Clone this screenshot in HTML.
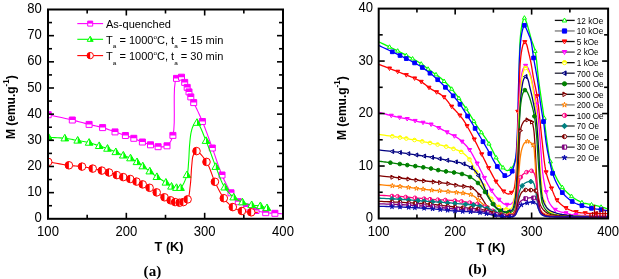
<!DOCTYPE html>
<html><head><meta charset="utf-8"><style>
html,body{margin:0;padding:0;background:#fff;}
svg{display:block;will-change:transform;}
.tk{font-family:"Liberation Sans", sans-serif;font-size:13.8px;fill:#000;}
.lg{font-family:"Liberation Sans", sans-serif;font-size:10px;fill:#000;}
.sb{font-size:5.8px;}
.sp{font-size:5.8px;}
.al{font-family:"Liberation Sans", sans-serif;font-size:12px;font-weight:bold;fill:#000;}
.asp{font-size:8px;}
.pl{font-family:"Liberation Serif", serif;font-size:14px;font-weight:bold;fill:#000;}
.lb{font-family:"Liberation Sans", sans-serif;font-size:8.2px;fill:#000;}
</style></head><body>
<svg width="619" height="279" viewBox="0 0 619 279">
<g>
<clipPath id="clipA"><rect x="48.0" y="9.5" width="235.0" height="209.3"/></clipPath>
<g clip-path="url(#clipA)">
<polyline points="48.20,114.70 48.94,114.86 50.95,115.28 53.91,115.92 57.52,116.69 61.47,117.55 65.46,118.43 69.17,119.27 72.30,120.00 74.56,120.56 76.76,121.12 78.91,121.69 81.01,122.26 83.07,122.82 85.10,123.36 87.11,123.89 89.10,124.40 90.86,124.82 92.59,125.22 94.30,125.60 95.99,125.97 97.66,126.34 99.31,126.73 100.96,127.15 102.60,127.60 104.19,128.08 105.78,128.60 107.35,129.14 108.91,129.70 110.46,130.26 111.99,130.82 113.51,131.37 115.00,131.90 116.35,132.37 117.69,132.83 119.01,133.30 120.33,133.75 121.62,134.20 122.90,134.64 124.16,135.08 125.40,135.50 126.49,135.86 127.56,136.21 128.62,136.55 129.66,136.88 130.69,137.21 131.72,137.55 132.76,137.92 133.80,138.30 134.88,138.73 135.96,139.19 137.03,139.66 138.11,140.15 139.19,140.63 140.26,141.11 141.33,141.57 142.40,142.00 143.42,142.39 144.44,142.77 145.45,143.14 146.47,143.50 147.48,143.84 148.49,144.18 149.50,144.49 150.50,144.80 151.45,145.09 152.39,145.39 153.33,145.68 154.26,145.96 155.20,146.22 156.15,146.43 157.12,146.59 158.10,146.70 159.20,146.78 160.35,146.86 161.53,146.91 162.72,146.91 163.89,146.82 165.00,146.62 166.05,146.29 167.00,145.80 167.98,145.05 168.87,144.14 169.67,143.07 170.41,141.84 171.09,140.46 171.72,138.93 172.32,137.24 172.90,135.40 173.82,129.97 174.23,122.55 174.30,113.89 174.24,104.74 174.24,95.87 174.49,88.02 175.18,81.94 176.50,78.40 177.05,77.86 177.67,77.45 178.33,77.16 179.01,76.98 179.69,76.91 180.35,76.93 180.96,77.03 181.50,77.20 182.02,77.53 182.48,78.02 182.90,78.65 183.28,79.37 183.65,80.15 184.00,80.94 184.34,81.70 184.70,82.40 185.04,83.03 185.38,83.65 185.70,84.28 186.02,84.91 186.33,85.54 186.63,86.16 186.92,86.78 187.20,87.40 187.45,87.97 187.69,88.53 187.92,89.09 188.14,89.64 188.35,90.20 188.57,90.76 188.78,91.33 189.00,91.90 189.22,92.51 189.44,93.12 189.65,93.75 189.86,94.37 190.07,95.00 190.30,95.63 190.54,96.26 190.80,96.90 191.11,97.58 191.42,98.23 191.76,98.87 192.10,99.52 192.47,100.20 192.86,100.93 193.27,101.72 193.70,102.60 194.58,104.41 195.57,106.46 196.64,108.72 197.78,111.14 198.96,113.67 200.13,116.27 201.29,118.89 202.40,121.50 203.65,124.58 204.90,127.78 206.14,131.07 207.38,134.43 208.62,137.83 209.85,141.24 211.08,144.64 212.30,148.00 213.52,151.40 214.72,154.87 215.90,158.37 217.09,161.87 218.29,165.31 219.50,168.68 220.73,171.92 222.00,175.00 223.08,177.48 224.18,179.91 225.28,182.29 226.40,184.60 227.54,186.82 228.68,188.94 229.84,190.94 231.00,192.80 231.88,194.13 232.76,195.38 233.63,196.57 234.52,197.70 235.42,198.78 236.35,199.80 237.30,200.77 238.30,201.70 239.25,202.51 240.22,203.26 241.22,203.97 242.24,204.64 243.28,205.27 244.34,205.87 245.41,206.44 246.50,207.00 247.63,207.54 248.79,208.04 249.96,208.51 251.16,208.95 252.37,209.37 253.58,209.76 254.79,210.14 256.00,210.50 257.20,210.85 258.41,211.18 259.62,211.49 260.84,211.78 262.06,212.05 263.28,212.29 264.49,212.51 265.70,212.70 266.86,212.85 268.02,212.96 269.19,213.04 270.35,213.10 271.50,213.15 272.64,213.19 273.78,213.24 274.90,213.30 276.05,213.37 277.34,213.45 278.68,213.54 279.99,213.62 281.17,213.69 282.12,213.75 282.76,213.79 283.00,213.80" fill="none" stroke="#ff00ff" stroke-width="1.1" stroke-linejoin="round"/>
<g transform="translate(48.2,114.7)"><polygon points="-3.00,-3.00 3.00,-3.00 3.00,3.00 -3.00,3.00" fill="#fff" stroke="#ff00ff" stroke-width="1.0"/><polygon points="-3.00,0.00 -3.00,-3.00 3.00,-3.00 3.00,0.00" fill="#ff00ff"/></g>
<g transform="translate(72.3,120.0)"><polygon points="-3.00,-3.00 3.00,-3.00 3.00,3.00 -3.00,3.00" fill="#fff" stroke="#ff00ff" stroke-width="1.0"/><polygon points="-3.00,0.00 -3.00,-3.00 3.00,-3.00 3.00,0.00" fill="#ff00ff"/></g>
<g transform="translate(89.1,124.4)"><polygon points="-3.00,-3.00 3.00,-3.00 3.00,3.00 -3.00,3.00" fill="#fff" stroke="#ff00ff" stroke-width="1.0"/><polygon points="-3.00,0.00 -3.00,-3.00 3.00,-3.00 3.00,0.00" fill="#ff00ff"/></g>
<g transform="translate(102.6,127.6)"><polygon points="-3.00,-3.00 3.00,-3.00 3.00,3.00 -3.00,3.00" fill="#fff" stroke="#ff00ff" stroke-width="1.0"/><polygon points="-3.00,0.00 -3.00,-3.00 3.00,-3.00 3.00,0.00" fill="#ff00ff"/></g>
<g transform="translate(115.0,131.9)"><polygon points="-3.00,-3.00 3.00,-3.00 3.00,3.00 -3.00,3.00" fill="#fff" stroke="#ff00ff" stroke-width="1.0"/><polygon points="-3.00,0.00 -3.00,-3.00 3.00,-3.00 3.00,0.00" fill="#ff00ff"/></g>
<g transform="translate(125.4,135.5)"><polygon points="-3.00,-3.00 3.00,-3.00 3.00,3.00 -3.00,3.00" fill="#fff" stroke="#ff00ff" stroke-width="1.0"/><polygon points="-3.00,0.00 -3.00,-3.00 3.00,-3.00 3.00,0.00" fill="#ff00ff"/></g>
<g transform="translate(133.8,138.3)"><polygon points="-3.00,-3.00 3.00,-3.00 3.00,3.00 -3.00,3.00" fill="#fff" stroke="#ff00ff" stroke-width="1.0"/><polygon points="-3.00,0.00 -3.00,-3.00 3.00,-3.00 3.00,0.00" fill="#ff00ff"/></g>
<g transform="translate(142.4,142.0)"><polygon points="-3.00,-3.00 3.00,-3.00 3.00,3.00 -3.00,3.00" fill="#fff" stroke="#ff00ff" stroke-width="1.0"/><polygon points="-3.00,0.00 -3.00,-3.00 3.00,-3.00 3.00,0.00" fill="#ff00ff"/></g>
<g transform="translate(150.5,144.8)"><polygon points="-3.00,-3.00 3.00,-3.00 3.00,3.00 -3.00,3.00" fill="#fff" stroke="#ff00ff" stroke-width="1.0"/><polygon points="-3.00,0.00 -3.00,-3.00 3.00,-3.00 3.00,0.00" fill="#ff00ff"/></g>
<g transform="translate(158.1,146.7)"><polygon points="-3.00,-3.00 3.00,-3.00 3.00,3.00 -3.00,3.00" fill="#fff" stroke="#ff00ff" stroke-width="1.0"/><polygon points="-3.00,0.00 -3.00,-3.00 3.00,-3.00 3.00,0.00" fill="#ff00ff"/></g>
<g transform="translate(167.0,145.8)"><polygon points="-3.00,-3.00 3.00,-3.00 3.00,3.00 -3.00,3.00" fill="#fff" stroke="#ff00ff" stroke-width="1.0"/><polygon points="-3.00,0.00 -3.00,-3.00 3.00,-3.00 3.00,0.00" fill="#ff00ff"/></g>
<g transform="translate(172.9,135.4)"><polygon points="-3.00,-3.00 3.00,-3.00 3.00,3.00 -3.00,3.00" fill="#fff" stroke="#ff00ff" stroke-width="1.0"/><polygon points="-3.00,0.00 -3.00,-3.00 3.00,-3.00 3.00,0.00" fill="#ff00ff"/></g>
<g transform="translate(176.5,78.4)"><polygon points="-3.00,-3.00 3.00,-3.00 3.00,3.00 -3.00,3.00" fill="#fff" stroke="#ff00ff" stroke-width="1.0"/><polygon points="-3.00,0.00 -3.00,-3.00 3.00,-3.00 3.00,0.00" fill="#ff00ff"/></g>
<g transform="translate(181.5,77.2)"><polygon points="-3.00,-3.00 3.00,-3.00 3.00,3.00 -3.00,3.00" fill="#fff" stroke="#ff00ff" stroke-width="1.0"/><polygon points="-3.00,0.00 -3.00,-3.00 3.00,-3.00 3.00,0.00" fill="#ff00ff"/></g>
<g transform="translate(184.7,82.4)"><polygon points="-3.00,-3.00 3.00,-3.00 3.00,3.00 -3.00,3.00" fill="#fff" stroke="#ff00ff" stroke-width="1.0"/><polygon points="-3.00,0.00 -3.00,-3.00 3.00,-3.00 3.00,0.00" fill="#ff00ff"/></g>
<g transform="translate(187.2,87.4)"><polygon points="-3.00,-3.00 3.00,-3.00 3.00,3.00 -3.00,3.00" fill="#fff" stroke="#ff00ff" stroke-width="1.0"/><polygon points="-3.00,0.00 -3.00,-3.00 3.00,-3.00 3.00,0.00" fill="#ff00ff"/></g>
<g transform="translate(189.0,91.9)"><polygon points="-3.00,-3.00 3.00,-3.00 3.00,3.00 -3.00,3.00" fill="#fff" stroke="#ff00ff" stroke-width="1.0"/><polygon points="-3.00,0.00 -3.00,-3.00 3.00,-3.00 3.00,0.00" fill="#ff00ff"/></g>
<g transform="translate(190.8,96.9)"><polygon points="-3.00,-3.00 3.00,-3.00 3.00,3.00 -3.00,3.00" fill="#fff" stroke="#ff00ff" stroke-width="1.0"/><polygon points="-3.00,0.00 -3.00,-3.00 3.00,-3.00 3.00,0.00" fill="#ff00ff"/></g>
<g transform="translate(193.7,102.6)"><polygon points="-3.00,-3.00 3.00,-3.00 3.00,3.00 -3.00,3.00" fill="#fff" stroke="#ff00ff" stroke-width="1.0"/><polygon points="-3.00,0.00 -3.00,-3.00 3.00,-3.00 3.00,0.00" fill="#ff00ff"/></g>
<g transform="translate(202.4,121.5)"><polygon points="-3.00,-3.00 3.00,-3.00 3.00,3.00 -3.00,3.00" fill="#fff" stroke="#ff00ff" stroke-width="1.0"/><polygon points="-3.00,0.00 -3.00,-3.00 3.00,-3.00 3.00,0.00" fill="#ff00ff"/></g>
<g transform="translate(212.3,148.0)"><polygon points="-3.00,-3.00 3.00,-3.00 3.00,3.00 -3.00,3.00" fill="#fff" stroke="#ff00ff" stroke-width="1.0"/><polygon points="-3.00,0.00 -3.00,-3.00 3.00,-3.00 3.00,0.00" fill="#ff00ff"/></g>
<g transform="translate(222.0,175.0)"><polygon points="-3.00,-3.00 3.00,-3.00 3.00,3.00 -3.00,3.00" fill="#fff" stroke="#ff00ff" stroke-width="1.0"/><polygon points="-3.00,0.00 -3.00,-3.00 3.00,-3.00 3.00,0.00" fill="#ff00ff"/></g>
<g transform="translate(231.0,192.8)"><polygon points="-3.00,-3.00 3.00,-3.00 3.00,3.00 -3.00,3.00" fill="#fff" stroke="#ff00ff" stroke-width="1.0"/><polygon points="-3.00,0.00 -3.00,-3.00 3.00,-3.00 3.00,0.00" fill="#ff00ff"/></g>
<g transform="translate(238.3,201.7)"><polygon points="-3.00,-3.00 3.00,-3.00 3.00,3.00 -3.00,3.00" fill="#fff" stroke="#ff00ff" stroke-width="1.0"/><polygon points="-3.00,0.00 -3.00,-3.00 3.00,-3.00 3.00,0.00" fill="#ff00ff"/></g>
<g transform="translate(246.5,207.0)"><polygon points="-3.00,-3.00 3.00,-3.00 3.00,3.00 -3.00,3.00" fill="#fff" stroke="#ff00ff" stroke-width="1.0"/><polygon points="-3.00,0.00 -3.00,-3.00 3.00,-3.00 3.00,0.00" fill="#ff00ff"/></g>
<g transform="translate(256.0,210.5)"><polygon points="-3.00,-3.00 3.00,-3.00 3.00,3.00 -3.00,3.00" fill="#fff" stroke="#ff00ff" stroke-width="1.0"/><polygon points="-3.00,0.00 -3.00,-3.00 3.00,-3.00 3.00,0.00" fill="#ff00ff"/></g>
<g transform="translate(265.7,212.7)"><polygon points="-3.00,-3.00 3.00,-3.00 3.00,3.00 -3.00,3.00" fill="#fff" stroke="#ff00ff" stroke-width="1.0"/><polygon points="-3.00,0.00 -3.00,-3.00 3.00,-3.00 3.00,0.00" fill="#ff00ff"/></g>
<g transform="translate(274.9,213.3)"><polygon points="-3.00,-3.00 3.00,-3.00 3.00,3.00 -3.00,3.00" fill="#fff" stroke="#ff00ff" stroke-width="1.0"/><polygon points="-3.00,0.00 -3.00,-3.00 3.00,-3.00 3.00,0.00" fill="#ff00ff"/></g>
<polyline points="48.50,137.30 49.00,137.32 50.34,137.37 52.32,137.46 54.74,137.58 57.40,137.72 60.10,137.90 62.64,138.09 64.80,138.30 66.49,138.52 68.16,138.76 69.79,139.03 71.40,139.32 72.99,139.62 74.57,139.92 76.14,140.22 77.70,140.50 79.17,140.75 80.62,140.99 82.07,141.22 83.50,141.46 84.92,141.71 86.33,141.98 87.72,142.27 89.10,142.60 90.41,142.95 91.70,143.34 92.99,143.76 94.26,144.19 95.52,144.63 96.76,145.07 97.99,145.49 99.20,145.90 100.28,146.25 101.33,146.58 102.38,146.90 103.41,147.23 104.43,147.55 105.45,147.89 106.47,148.23 107.50,148.60 108.55,148.99 109.59,149.40 110.64,149.82 111.69,150.25 112.73,150.68 113.76,151.12 114.79,151.56 115.80,152.00 116.76,152.42 117.71,152.85 118.65,153.29 119.58,153.72 120.51,154.16 121.44,154.58 122.37,155.00 123.30,155.40 124.21,155.77 125.12,156.11 126.03,156.44 126.94,156.76 127.85,157.09 128.75,157.44 129.63,157.80 130.50,158.20 131.35,158.62 132.18,159.07 133.01,159.53 133.82,160.00 134.63,160.49 135.43,160.99 136.22,161.49 137.00,162.00 137.75,162.50 138.47,163.01 139.19,163.52 139.90,164.04 140.61,164.57 141.32,165.11 142.05,165.65 142.80,166.20 143.64,166.81 144.51,167.43 145.38,168.06 146.26,168.69 147.15,169.34 148.04,169.99 148.92,170.64 149.80,171.30 150.68,171.98 151.55,172.68 152.42,173.39 153.28,174.10 154.15,174.81 155.04,175.52 155.96,176.22 156.90,176.90 157.98,177.63 159.11,178.35 160.27,179.07 161.46,179.77 162.63,180.47 163.78,181.16 164.87,181.84 165.90,182.50 166.67,183.04 167.40,183.59 168.10,184.15 168.78,184.70 169.45,185.22 170.12,185.70 170.80,186.13 171.50,186.50 172.12,186.77 172.75,187.00 173.39,187.20 174.02,187.36 174.65,187.50 175.28,187.62 175.90,187.72 176.50,187.80 177.02,187.88 177.54,187.98 178.04,188.08 178.55,188.16 179.05,188.19 179.54,188.15 180.02,188.03 180.50,187.80 181.41,187.01 182.34,185.80 183.26,184.26 184.15,182.50 184.99,180.60 185.76,178.65 186.43,176.75 187.00,175.00 187.42,173.42 187.73,171.84 187.96,170.26 188.12,168.66 188.25,167.04 188.35,165.39 188.46,163.72 188.60,162.00 188.76,159.97 188.89,157.86 189.00,155.69 189.10,153.50 189.20,151.31 189.31,149.14 189.44,147.03 189.60,145.00 189.76,143.26 189.91,141.51 190.07,139.79 190.24,138.10 190.44,136.45 190.66,134.88 190.91,133.39 191.20,132.00 191.43,131.05 191.65,130.12 191.89,129.23 192.15,128.39 192.43,127.58 192.74,126.83 193.10,126.14 193.50,125.50 193.86,125.00 194.26,124.48 194.68,123.97 195.13,123.51 195.59,123.12 196.06,122.84 196.53,122.69 197.00,122.70 198.03,123.37 199.11,124.84 200.24,126.93 201.40,129.47 202.57,132.30 203.74,135.24 204.89,138.13 206.00,140.80 207.26,143.83 208.50,147.01 209.73,150.31 210.94,153.68 212.15,157.06 213.36,160.41 214.58,163.67 215.80,166.80 216.89,169.56 217.95,172.34 218.99,175.10 220.05,177.81 221.13,180.43 222.25,182.93 223.44,185.26 224.70,187.40 225.73,188.92 226.79,190.35 227.89,191.70 229.01,192.96 230.16,194.15 231.33,195.27 232.51,196.32 233.70,197.30 234.74,198.09 235.80,198.81 236.87,199.48 237.95,200.09 239.05,200.66 240.15,201.20 241.27,201.71 242.40,202.20 243.53,202.66 244.68,203.08 245.84,203.48 247.01,203.84 248.19,204.17 249.37,204.47 250.54,204.75 251.70,205.00 252.80,205.19 253.92,205.33 255.03,205.43 256.14,205.52 257.24,205.60 258.32,205.69 259.38,205.82 260.40,206.00 261.37,206.23 262.43,206.52 263.53,206.85 264.59,207.18 265.53,207.50 266.30,207.76 266.81,207.93 267.00,208.00" fill="none" stroke="#00ff00" stroke-width="1.1" stroke-linejoin="round"/>
<g transform="translate(48.5,137.3)"><polygon points="0.00,-4.02 3.85,2.62 -3.85,2.62" fill="#fff" stroke="#00ff00" stroke-width="1.0"/><polygon points="0.00,-4.02 0.00,-4.02 3.85,2.62 0.00,2.62" fill="#00ff00"/></g>
<g transform="translate(64.8,138.3)"><polygon points="0.00,-4.02 3.85,2.62 -3.85,2.62" fill="#fff" stroke="#00ff00" stroke-width="1.0"/><polygon points="0.00,-4.02 0.00,-4.02 3.85,2.62 0.00,2.62" fill="#00ff00"/></g>
<g transform="translate(77.7,140.5)"><polygon points="0.00,-4.02 3.85,2.62 -3.85,2.62" fill="#fff" stroke="#00ff00" stroke-width="1.0"/><polygon points="0.00,-4.02 0.00,-4.02 3.85,2.62 0.00,2.62" fill="#00ff00"/></g>
<g transform="translate(89.1,142.6)"><polygon points="0.00,-4.02 3.85,2.62 -3.85,2.62" fill="#fff" stroke="#00ff00" stroke-width="1.0"/><polygon points="0.00,-4.02 0.00,-4.02 3.85,2.62 0.00,2.62" fill="#00ff00"/></g>
<g transform="translate(99.2,145.9)"><polygon points="0.00,-4.02 3.85,2.62 -3.85,2.62" fill="#fff" stroke="#00ff00" stroke-width="1.0"/><polygon points="0.00,-4.02 0.00,-4.02 3.85,2.62 0.00,2.62" fill="#00ff00"/></g>
<g transform="translate(107.5,148.6)"><polygon points="0.00,-4.02 3.85,2.62 -3.85,2.62" fill="#fff" stroke="#00ff00" stroke-width="1.0"/><polygon points="0.00,-4.02 0.00,-4.02 3.85,2.62 0.00,2.62" fill="#00ff00"/></g>
<g transform="translate(115.8,152.0)"><polygon points="0.00,-4.02 3.85,2.62 -3.85,2.62" fill="#fff" stroke="#00ff00" stroke-width="1.0"/><polygon points="0.00,-4.02 0.00,-4.02 3.85,2.62 0.00,2.62" fill="#00ff00"/></g>
<g transform="translate(123.3,155.4)"><polygon points="0.00,-4.02 3.85,2.62 -3.85,2.62" fill="#fff" stroke="#00ff00" stroke-width="1.0"/><polygon points="0.00,-4.02 0.00,-4.02 3.85,2.62 0.00,2.62" fill="#00ff00"/></g>
<g transform="translate(130.5,158.2)"><polygon points="0.00,-4.02 3.85,2.62 -3.85,2.62" fill="#fff" stroke="#00ff00" stroke-width="1.0"/><polygon points="0.00,-4.02 0.00,-4.02 3.85,2.62 0.00,2.62" fill="#00ff00"/></g>
<g transform="translate(137.0,162.0)"><polygon points="0.00,-4.02 3.85,2.62 -3.85,2.62" fill="#fff" stroke="#00ff00" stroke-width="1.0"/><polygon points="0.00,-4.02 0.00,-4.02 3.85,2.62 0.00,2.62" fill="#00ff00"/></g>
<g transform="translate(142.8,166.2)"><polygon points="0.00,-4.02 3.85,2.62 -3.85,2.62" fill="#fff" stroke="#00ff00" stroke-width="1.0"/><polygon points="0.00,-4.02 0.00,-4.02 3.85,2.62 0.00,2.62" fill="#00ff00"/></g>
<g transform="translate(149.8,171.3)"><polygon points="0.00,-4.02 3.85,2.62 -3.85,2.62" fill="#fff" stroke="#00ff00" stroke-width="1.0"/><polygon points="0.00,-4.02 0.00,-4.02 3.85,2.62 0.00,2.62" fill="#00ff00"/></g>
<g transform="translate(156.9,176.9)"><polygon points="0.00,-4.02 3.85,2.62 -3.85,2.62" fill="#fff" stroke="#00ff00" stroke-width="1.0"/><polygon points="0.00,-4.02 0.00,-4.02 3.85,2.62 0.00,2.62" fill="#00ff00"/></g>
<g transform="translate(165.9,182.5)"><polygon points="0.00,-4.02 3.85,2.62 -3.85,2.62" fill="#fff" stroke="#00ff00" stroke-width="1.0"/><polygon points="0.00,-4.02 0.00,-4.02 3.85,2.62 0.00,2.62" fill="#00ff00"/></g>
<g transform="translate(171.5,186.5)"><polygon points="0.00,-4.02 3.85,2.62 -3.85,2.62" fill="#fff" stroke="#00ff00" stroke-width="1.0"/><polygon points="0.00,-4.02 0.00,-4.02 3.85,2.62 0.00,2.62" fill="#00ff00"/></g>
<g transform="translate(176.5,187.8)"><polygon points="0.00,-4.02 3.85,2.62 -3.85,2.62" fill="#fff" stroke="#00ff00" stroke-width="1.0"/><polygon points="0.00,-4.02 0.00,-4.02 3.85,2.62 0.00,2.62" fill="#00ff00"/></g>
<g transform="translate(180.5,187.8)"><polygon points="0.00,-4.02 3.85,2.62 -3.85,2.62" fill="#fff" stroke="#00ff00" stroke-width="1.0"/><polygon points="0.00,-4.02 0.00,-4.02 3.85,2.62 0.00,2.62" fill="#00ff00"/></g>
<g transform="translate(187.0,175.0)"><polygon points="0.00,-4.02 3.85,2.62 -3.85,2.62" fill="#fff" stroke="#00ff00" stroke-width="1.0"/><polygon points="0.00,-4.02 0.00,-4.02 3.85,2.62 0.00,2.62" fill="#00ff00"/></g>
<g transform="translate(197.0,122.7)"><polygon points="0.00,-4.02 3.85,2.62 -3.85,2.62" fill="#fff" stroke="#00ff00" stroke-width="1.0"/><polygon points="0.00,-4.02 0.00,-4.02 3.85,2.62 0.00,2.62" fill="#00ff00"/></g>
<g transform="translate(206.0,140.8)"><polygon points="0.00,-4.02 3.85,2.62 -3.85,2.62" fill="#fff" stroke="#00ff00" stroke-width="1.0"/><polygon points="0.00,-4.02 0.00,-4.02 3.85,2.62 0.00,2.62" fill="#00ff00"/></g>
<g transform="translate(215.8,166.8)"><polygon points="0.00,-4.02 3.85,2.62 -3.85,2.62" fill="#fff" stroke="#00ff00" stroke-width="1.0"/><polygon points="0.00,-4.02 0.00,-4.02 3.85,2.62 0.00,2.62" fill="#00ff00"/></g>
<g transform="translate(224.7,187.4)"><polygon points="0.00,-4.02 3.85,2.62 -3.85,2.62" fill="#fff" stroke="#00ff00" stroke-width="1.0"/><polygon points="0.00,-4.02 0.00,-4.02 3.85,2.62 0.00,2.62" fill="#00ff00"/></g>
<g transform="translate(233.7,197.3)"><polygon points="0.00,-4.02 3.85,2.62 -3.85,2.62" fill="#fff" stroke="#00ff00" stroke-width="1.0"/><polygon points="0.00,-4.02 0.00,-4.02 3.85,2.62 0.00,2.62" fill="#00ff00"/></g>
<g transform="translate(242.4,202.2)"><polygon points="0.00,-4.02 3.85,2.62 -3.85,2.62" fill="#fff" stroke="#00ff00" stroke-width="1.0"/><polygon points="0.00,-4.02 0.00,-4.02 3.85,2.62 0.00,2.62" fill="#00ff00"/></g>
<g transform="translate(251.7,205.0)"><polygon points="0.00,-4.02 3.85,2.62 -3.85,2.62" fill="#fff" stroke="#00ff00" stroke-width="1.0"/><polygon points="0.00,-4.02 0.00,-4.02 3.85,2.62 0.00,2.62" fill="#00ff00"/></g>
<g transform="translate(260.4,206.0)"><polygon points="0.00,-4.02 3.85,2.62 -3.85,2.62" fill="#fff" stroke="#00ff00" stroke-width="1.0"/><polygon points="0.00,-4.02 0.00,-4.02 3.85,2.62 0.00,2.62" fill="#00ff00"/></g>
<g transform="translate(267.0,208.0)"><polygon points="0.00,-4.02 3.85,2.62 -3.85,2.62" fill="#fff" stroke="#00ff00" stroke-width="1.0"/><polygon points="0.00,-4.02 0.00,-4.02 3.85,2.62 0.00,2.62" fill="#00ff00"/></g>
<polyline points="48.20,161.90 48.84,162.01 50.58,162.32 53.14,162.76 56.26,163.30 59.66,163.87 63.08,164.43 66.25,164.92 68.90,165.30 70.69,165.52 72.41,165.69 74.09,165.84 75.72,165.97 77.32,166.10 78.89,166.24 80.45,166.40 82.00,166.60 83.40,166.81 84.78,167.04 86.14,167.29 87.48,167.54 88.80,167.80 90.12,168.07 91.41,168.34 92.70,168.60 93.88,168.84 95.05,169.09 96.22,169.33 97.37,169.58 98.50,169.83 99.62,170.09 100.72,170.34 101.80,170.60 102.74,170.83 103.66,171.05 104.56,171.28 105.44,171.51 106.32,171.74 107.21,171.98 108.10,172.23 109.00,172.50 109.97,172.80 110.95,173.12 111.94,173.45 112.93,173.79 113.92,174.13 114.90,174.46 115.86,174.79 116.80,175.10 117.63,175.37 118.44,175.63 119.23,175.88 120.02,176.13 120.80,176.38 121.59,176.62 122.39,176.86 123.20,177.10 124.06,177.34 124.94,177.57 125.82,177.79 126.71,178.01 127.60,178.24 128.48,178.47 129.35,178.73 130.20,179.00 131.01,179.29 131.81,179.59 132.60,179.91 133.39,180.24 134.17,180.58 134.94,180.92 135.72,181.26 136.50,181.60 137.28,181.94 138.05,182.28 138.82,182.62 139.59,182.96 140.36,183.31 141.13,183.67 141.91,184.03 142.70,184.40 143.55,184.80 144.41,185.20 145.27,185.60 146.14,186.01 147.01,186.44 147.88,186.87 148.74,187.33 149.60,187.80 150.49,188.32 151.38,188.87 152.26,189.44 153.14,190.03 154.02,190.62 154.90,191.22 155.80,191.81 156.70,192.40 157.66,193.02 158.64,193.65 159.63,194.30 160.62,194.94 161.61,195.57 162.59,196.18 163.56,196.76 164.50,197.30 165.29,197.73 166.08,198.15 166.86,198.55 167.64,198.93 168.40,199.29 169.15,199.64 169.88,199.98 170.60,200.30 171.19,200.57 171.76,200.83 172.32,201.08 172.88,201.32 173.43,201.54 173.98,201.75 174.53,201.94 175.10,202.10 175.66,202.24 176.22,202.36 176.79,202.46 177.37,202.55 177.93,202.62 178.50,202.67 179.06,202.70 179.60,202.70 180.09,202.69 180.58,202.67 181.05,202.63 181.53,202.57 182.00,202.49 182.47,202.39 182.93,202.26 183.40,202.10 183.94,201.89 184.51,201.67 185.07,201.43 185.63,201.15 186.17,200.81 186.69,200.42 187.17,199.95 187.60,199.40 188.22,198.21 188.70,196.73 189.09,195.01 189.39,193.13 189.63,191.12 189.85,189.06 190.06,187.00 190.30,185.00 190.57,182.61 190.79,180.07 190.97,177.42 191.12,174.75 191.27,172.11 191.42,169.56 191.60,167.17 191.80,165.00 191.94,163.61 192.05,162.28 192.16,160.99 192.27,159.77 192.42,158.60 192.61,157.50 192.86,156.46 193.20,155.50 193.51,154.78 193.84,154.04 194.20,153.31 194.60,152.63 195.02,152.03 195.48,151.56 195.97,151.23 196.50,151.10 197.50,151.35 198.66,152.11 199.95,153.29 201.32,154.79 202.70,156.50 204.06,158.32 205.34,160.15 206.50,161.90 207.74,164.05 208.86,166.40 209.89,168.92 210.88,171.53 211.84,174.18 212.81,176.81 213.82,179.37 214.90,181.80 215.95,183.99 217.00,186.19 218.06,188.37 219.15,190.51 220.25,192.59 221.39,194.58 222.57,196.46 223.80,198.20 224.84,199.54 225.91,200.83 227.00,202.05 228.12,203.21 229.26,204.29 230.42,205.31 231.60,206.24 232.80,207.10 233.88,207.78 234.99,208.40 236.11,208.95 237.25,209.45 238.41,209.89 239.57,210.30 240.73,210.66 241.90,211.00 243.05,211.29 244.23,211.53 245.42,211.73 246.61,211.89 247.80,212.02 248.96,212.13 250.10,212.22 251.20,212.30 252.19,212.35 253.29,212.37 254.42,212.37 255.51,212.36 256.49,212.34 257.28,212.32 257.81,212.31 258.00,212.30" fill="none" stroke="#ff0000" stroke-width="1.1" stroke-linejoin="round"/>
<g transform="translate(48.2,161.9)"><circle r="3.8" fill="#fff" stroke="#ff0000" stroke-width="1.0"/><path d="M0,-3.8 A3.8,3.8 0 0 0 0,3.8 Z" fill="#ff0000"/></g>
<g transform="translate(68.9,165.3)"><circle r="3.8" fill="#fff" stroke="#ff0000" stroke-width="1.0"/><path d="M0,-3.8 A3.8,3.8 0 0 0 0,3.8 Z" fill="#ff0000"/></g>
<g transform="translate(82.0,166.6)"><circle r="3.8" fill="#fff" stroke="#ff0000" stroke-width="1.0"/><path d="M0,-3.8 A3.8,3.8 0 0 0 0,3.8 Z" fill="#ff0000"/></g>
<g transform="translate(92.7,168.6)"><circle r="3.8" fill="#fff" stroke="#ff0000" stroke-width="1.0"/><path d="M0,-3.8 A3.8,3.8 0 0 0 0,3.8 Z" fill="#ff0000"/></g>
<g transform="translate(101.8,170.6)"><circle r="3.8" fill="#fff" stroke="#ff0000" stroke-width="1.0"/><path d="M0,-3.8 A3.8,3.8 0 0 0 0,3.8 Z" fill="#ff0000"/></g>
<g transform="translate(109.0,172.5)"><circle r="3.8" fill="#fff" stroke="#ff0000" stroke-width="1.0"/><path d="M0,-3.8 A3.8,3.8 0 0 0 0,3.8 Z" fill="#ff0000"/></g>
<g transform="translate(116.8,175.1)"><circle r="3.8" fill="#fff" stroke="#ff0000" stroke-width="1.0"/><path d="M0,-3.8 A3.8,3.8 0 0 0 0,3.8 Z" fill="#ff0000"/></g>
<g transform="translate(123.2,177.1)"><circle r="3.8" fill="#fff" stroke="#ff0000" stroke-width="1.0"/><path d="M0,-3.8 A3.8,3.8 0 0 0 0,3.8 Z" fill="#ff0000"/></g>
<g transform="translate(130.2,179.0)"><circle r="3.8" fill="#fff" stroke="#ff0000" stroke-width="1.0"/><path d="M0,-3.8 A3.8,3.8 0 0 0 0,3.8 Z" fill="#ff0000"/></g>
<g transform="translate(136.5,181.6)"><circle r="3.8" fill="#fff" stroke="#ff0000" stroke-width="1.0"/><path d="M0,-3.8 A3.8,3.8 0 0 0 0,3.8 Z" fill="#ff0000"/></g>
<g transform="translate(142.7,184.4)"><circle r="3.8" fill="#fff" stroke="#ff0000" stroke-width="1.0"/><path d="M0,-3.8 A3.8,3.8 0 0 0 0,3.8 Z" fill="#ff0000"/></g>
<g transform="translate(149.6,187.8)"><circle r="3.8" fill="#fff" stroke="#ff0000" stroke-width="1.0"/><path d="M0,-3.8 A3.8,3.8 0 0 0 0,3.8 Z" fill="#ff0000"/></g>
<g transform="translate(156.7,192.4)"><circle r="3.8" fill="#fff" stroke="#ff0000" stroke-width="1.0"/><path d="M0,-3.8 A3.8,3.8 0 0 0 0,3.8 Z" fill="#ff0000"/></g>
<g transform="translate(164.5,197.3)"><circle r="3.8" fill="#fff" stroke="#ff0000" stroke-width="1.0"/><path d="M0,-3.8 A3.8,3.8 0 0 0 0,3.8 Z" fill="#ff0000"/></g>
<g transform="translate(170.6,200.3)"><circle r="3.8" fill="#fff" stroke="#ff0000" stroke-width="1.0"/><path d="M0,-3.8 A3.8,3.8 0 0 0 0,3.8 Z" fill="#ff0000"/></g>
<g transform="translate(175.1,202.1)"><circle r="3.8" fill="#fff" stroke="#ff0000" stroke-width="1.0"/><path d="M0,-3.8 A3.8,3.8 0 0 0 0,3.8 Z" fill="#ff0000"/></g>
<g transform="translate(179.6,202.7)"><circle r="3.8" fill="#fff" stroke="#ff0000" stroke-width="1.0"/><path d="M0,-3.8 A3.8,3.8 0 0 0 0,3.8 Z" fill="#ff0000"/></g>
<g transform="translate(183.4,202.1)"><circle r="3.8" fill="#fff" stroke="#ff0000" stroke-width="1.0"/><path d="M0,-3.8 A3.8,3.8 0 0 0 0,3.8 Z" fill="#ff0000"/></g>
<g transform="translate(187.6,199.4)"><circle r="3.8" fill="#fff" stroke="#ff0000" stroke-width="1.0"/><path d="M0,-3.8 A3.8,3.8 0 0 0 0,3.8 Z" fill="#ff0000"/></g>
<g transform="translate(196.5,151.1)"><circle r="3.8" fill="#fff" stroke="#ff0000" stroke-width="1.0"/><path d="M0,-3.8 A3.8,3.8 0 0 0 0,3.8 Z" fill="#ff0000"/></g>
<g transform="translate(206.5,161.9)"><circle r="3.8" fill="#fff" stroke="#ff0000" stroke-width="1.0"/><path d="M0,-3.8 A3.8,3.8 0 0 0 0,3.8 Z" fill="#ff0000"/></g>
<g transform="translate(214.9,181.8)"><circle r="3.8" fill="#fff" stroke="#ff0000" stroke-width="1.0"/><path d="M0,-3.8 A3.8,3.8 0 0 0 0,3.8 Z" fill="#ff0000"/></g>
<g transform="translate(223.8,198.2)"><circle r="3.8" fill="#fff" stroke="#ff0000" stroke-width="1.0"/><path d="M0,-3.8 A3.8,3.8 0 0 0 0,3.8 Z" fill="#ff0000"/></g>
<g transform="translate(232.8,207.1)"><circle r="3.8" fill="#fff" stroke="#ff0000" stroke-width="1.0"/><path d="M0,-3.8 A3.8,3.8 0 0 0 0,3.8 Z" fill="#ff0000"/></g>
<g transform="translate(241.9,211.0)"><circle r="3.8" fill="#fff" stroke="#ff0000" stroke-width="1.0"/><path d="M0,-3.8 A3.8,3.8 0 0 0 0,3.8 Z" fill="#ff0000"/></g>
<g transform="translate(251.2,212.3)"><circle r="3.8" fill="#fff" stroke="#ff0000" stroke-width="1.0"/><path d="M0,-3.8 A3.8,3.8 0 0 0 0,3.8 Z" fill="#ff0000"/></g>
</g>
<rect x="48.0" y="9.5" width="235.0" height="209.3" fill="none" stroke="#000" stroke-width="2"/>
<text x="41.8" y="222.40" class="tk" text-anchor="end" transform="translate(41.8,0) scale(0.95,1) translate(-41.8,0)">0</text>
<line x1="48.0" y1="205.72" x2="52.0" y2="205.72" stroke="#000" stroke-width="1.6"/>
<line x1="283.0" y1="205.72" x2="279.0" y2="205.72" stroke="#000" stroke-width="1.6"/>
<line x1="48.0" y1="192.64" x2="54.0" y2="192.64" stroke="#000" stroke-width="1.6"/>
<line x1="283.0" y1="192.64" x2="277.0" y2="192.64" stroke="#000" stroke-width="1.6"/>
<text x="41.8" y="196.24" class="tk" text-anchor="end" transform="translate(41.8,0) scale(0.95,1) translate(-41.8,0)">10</text>
<line x1="48.0" y1="179.56" x2="52.0" y2="179.56" stroke="#000" stroke-width="1.6"/>
<line x1="283.0" y1="179.56" x2="279.0" y2="179.56" stroke="#000" stroke-width="1.6"/>
<line x1="48.0" y1="166.48" x2="54.0" y2="166.48" stroke="#000" stroke-width="1.6"/>
<line x1="283.0" y1="166.48" x2="277.0" y2="166.48" stroke="#000" stroke-width="1.6"/>
<text x="41.8" y="170.08" class="tk" text-anchor="end" transform="translate(41.8,0) scale(0.95,1) translate(-41.8,0)">20</text>
<line x1="48.0" y1="153.39" x2="52.0" y2="153.39" stroke="#000" stroke-width="1.6"/>
<line x1="283.0" y1="153.39" x2="279.0" y2="153.39" stroke="#000" stroke-width="1.6"/>
<line x1="48.0" y1="140.31" x2="54.0" y2="140.31" stroke="#000" stroke-width="1.6"/>
<line x1="283.0" y1="140.31" x2="277.0" y2="140.31" stroke="#000" stroke-width="1.6"/>
<text x="41.8" y="143.91" class="tk" text-anchor="end" transform="translate(41.8,0) scale(0.95,1) translate(-41.8,0)">30</text>
<line x1="48.0" y1="127.23" x2="52.0" y2="127.23" stroke="#000" stroke-width="1.6"/>
<line x1="283.0" y1="127.23" x2="279.0" y2="127.23" stroke="#000" stroke-width="1.6"/>
<line x1="48.0" y1="114.15" x2="54.0" y2="114.15" stroke="#000" stroke-width="1.6"/>
<line x1="283.0" y1="114.15" x2="277.0" y2="114.15" stroke="#000" stroke-width="1.6"/>
<text x="41.8" y="117.75" class="tk" text-anchor="end" transform="translate(41.8,0) scale(0.95,1) translate(-41.8,0)">40</text>
<line x1="48.0" y1="101.07" x2="52.0" y2="101.07" stroke="#000" stroke-width="1.6"/>
<line x1="283.0" y1="101.07" x2="279.0" y2="101.07" stroke="#000" stroke-width="1.6"/>
<line x1="48.0" y1="87.99" x2="54.0" y2="87.99" stroke="#000" stroke-width="1.6"/>
<line x1="283.0" y1="87.99" x2="277.0" y2="87.99" stroke="#000" stroke-width="1.6"/>
<text x="41.8" y="91.59" class="tk" text-anchor="end" transform="translate(41.8,0) scale(0.95,1) translate(-41.8,0)">50</text>
<line x1="48.0" y1="74.91" x2="52.0" y2="74.91" stroke="#000" stroke-width="1.6"/>
<line x1="283.0" y1="74.91" x2="279.0" y2="74.91" stroke="#000" stroke-width="1.6"/>
<line x1="48.0" y1="61.83" x2="54.0" y2="61.83" stroke="#000" stroke-width="1.6"/>
<line x1="283.0" y1="61.83" x2="277.0" y2="61.83" stroke="#000" stroke-width="1.6"/>
<text x="41.8" y="65.43" class="tk" text-anchor="end" transform="translate(41.8,0) scale(0.95,1) translate(-41.8,0)">60</text>
<line x1="48.0" y1="48.74" x2="52.0" y2="48.74" stroke="#000" stroke-width="1.6"/>
<line x1="283.0" y1="48.74" x2="279.0" y2="48.74" stroke="#000" stroke-width="1.6"/>
<line x1="48.0" y1="35.66" x2="54.0" y2="35.66" stroke="#000" stroke-width="1.6"/>
<line x1="283.0" y1="35.66" x2="277.0" y2="35.66" stroke="#000" stroke-width="1.6"/>
<text x="41.8" y="39.26" class="tk" text-anchor="end" transform="translate(41.8,0) scale(0.95,1) translate(-41.8,0)">70</text>
<line x1="48.0" y1="22.58" x2="52.0" y2="22.58" stroke="#000" stroke-width="1.6"/>
<line x1="283.0" y1="22.58" x2="279.0" y2="22.58" stroke="#000" stroke-width="1.6"/>
<text x="41.8" y="13.10" class="tk" text-anchor="end" transform="translate(41.8,0) scale(0.95,1) translate(-41.8,0)">80</text>
<text x="48.00" y="236" class="tk" text-anchor="middle" transform="translate(48.00,0) scale(0.95,1) translate(-48.00,0)">100</text>
<line x1="87.17" y1="218.8" x2="87.17" y2="214.8" stroke="#000" stroke-width="1.6"/>
<line x1="87.17" y1="9.5" x2="87.17" y2="13.5" stroke="#000" stroke-width="1.6"/>
<line x1="126.33" y1="218.8" x2="126.33" y2="212.8" stroke="#000" stroke-width="1.6"/>
<line x1="126.33" y1="9.5" x2="126.33" y2="15.5" stroke="#000" stroke-width="1.6"/>
<text x="126.33" y="236" class="tk" text-anchor="middle" transform="translate(126.33,0) scale(0.95,1) translate(-126.33,0)">200</text>
<line x1="165.50" y1="218.8" x2="165.50" y2="214.8" stroke="#000" stroke-width="1.6"/>
<line x1="165.50" y1="9.5" x2="165.50" y2="13.5" stroke="#000" stroke-width="1.6"/>
<line x1="204.67" y1="218.8" x2="204.67" y2="212.8" stroke="#000" stroke-width="1.6"/>
<line x1="204.67" y1="9.5" x2="204.67" y2="15.5" stroke="#000" stroke-width="1.6"/>
<text x="204.67" y="236" class="tk" text-anchor="middle" transform="translate(204.67,0) scale(0.95,1) translate(-204.67,0)">300</text>
<line x1="243.83" y1="218.8" x2="243.83" y2="214.8" stroke="#000" stroke-width="1.6"/>
<line x1="243.83" y1="9.5" x2="243.83" y2="13.5" stroke="#000" stroke-width="1.6"/>
<text x="283.00" y="236" class="tk" text-anchor="middle" transform="translate(283.00,0) scale(0.95,1) translate(-283.00,0)">400</text>
<line x1="77.3" y1="23.6" x2="103.1" y2="23.6" stroke="#ff00ff" stroke-width="1.1"/>
<g transform="translate(90.2,23.6)"><polygon points="-2.50,-2.50 2.50,-2.50 2.50,2.50 -2.50,2.50" fill="#fff" stroke="#ff00ff" stroke-width="1.0"/><polygon points="-2.50,0.00 -2.50,-2.50 2.50,-2.50 2.50,0.00" fill="#ff00ff"/></g>
<line x1="77.3" y1="39.3" x2="103.1" y2="39.3" stroke="#00ff00" stroke-width="1.1"/>
<g transform="translate(90.2,39.3)"><polygon points="0.00,-3.10 2.97,2.03 -2.97,2.03" fill="#fff" stroke="#00ff00" stroke-width="1.0"/><polygon points="0.00,-3.11 0.00,-3.10 2.97,2.03 0.00,2.03" fill="#00ff00"/></g>
<line x1="77.3" y1="55.6" x2="103.1" y2="55.6" stroke="#ff0000" stroke-width="1.1"/>
<g transform="translate(90.2,55.6)"><circle r="3.2" fill="#fff" stroke="#ff0000" stroke-width="1.0"/><path d="M0,-3.2 A3.2,3.2 0 0 0 0,3.2 Z" fill="#ff0000"/></g>
<g class="lg" transform="translate(106,0) scale(1.105,1) translate(-106,0)">
<text x="106" y="28">As-quenched</text>
<text x="106" y="43.8">T<tspan class="sb" dy="4.6">a</tspan><tspan dy="-4.6"> = 1000</tspan><tspan class="sp" dy="-4.5">o</tspan><tspan dy="4.5">C, t</tspan><tspan class="sb" dy="4.6">a</tspan><tspan dy="-4.6"> = 15 min</tspan></text>
<text x="106" y="60">T<tspan class="sb" dy="4.6">a</tspan><tspan dy="-4.6"> = 1000</tspan><tspan class="sp" dy="-4.5">o</tspan><tspan dy="4.5">C, t</tspan><tspan class="sb" dy="4.6">a</tspan><tspan dy="-4.6"> = 30 min</tspan></text>
</g>
<text class="al" transform="translate(14.6,139.1) scale(1.09,1) rotate(-90)">M (emu.g<tspan class="asp" dy="-5">-1</tspan><tspan dy="5">)</tspan></text>
<text class="al" x="154.6" y="250.8" transform="translate(154.6,0) scale(1.06,1) translate(-154.6,0)">T (K)</text>
<text class="pl" x="143.6" y="276.5" transform="translate(143.6,0) scale(1.08,1) translate(-143.6,0)">(a)</text>
</g>
<clipPath id="clipB"><rect x="378.7" y="8.6" width="229.40000000000003" height="209.9"/></clipPath>
<g clip-path="url(#clipB)">
<polyline points="378.70,41.80 379.11,41.99 380.25,42.52 382.00,43.33 384.21,44.37 386.75,45.57 389.51,46.87 392.34,48.23 395.12,49.57 397.72,50.85 400.00,52.00 402.07,53.07 404.18,54.16 406.30,55.26 408.42,56.38 410.52,57.51 412.58,58.63 414.58,59.75 416.49,60.86 418.30,61.94 420.00,63.00 421.16,63.77 422.26,64.52 423.30,65.27 424.29,66.02 425.25,66.75 426.19,67.49 427.12,68.22 428.06,68.95 429.02,69.67 430.00,70.40 431.00,71.11 432.00,71.81 433.01,72.49 434.02,73.17 435.03,73.85 436.04,74.54 437.04,75.25 438.03,75.97 439.02,76.72 440.00,77.50 441.03,78.36 442.07,79.26 443.10,80.17 444.13,81.11 445.15,82.07 446.15,83.04 447.15,84.02 448.12,85.01 449.07,86.00 450.00,87.00 450.86,87.96 451.70,88.92 452.52,89.89 453.31,90.86 454.09,91.85 454.87,92.84 455.64,93.86 456.42,94.88 457.20,95.93 458.00,97.00 458.89,98.21 459.79,99.45 460.69,100.70 461.58,101.98 462.48,103.28 463.38,104.59 464.29,105.92 465.19,107.27 466.09,108.63 467.00,110.00 467.99,111.52 468.98,113.08 469.96,114.67 470.95,116.28 471.94,117.90 472.93,119.53 473.93,121.16 474.94,122.78 475.97,124.40 477.00,126.00 478.07,127.60 479.18,129.20 480.30,130.78 481.43,132.36 482.57,133.95 483.70,135.53 484.82,137.13 485.91,138.73 486.98,140.36 488.00,142.00 488.98,143.68 489.94,145.43 490.87,147.22 491.79,149.02 492.68,150.82 493.56,152.60 494.43,154.33 495.29,155.98 496.15,157.55 497.00,159.00 497.62,160.01 498.24,161.00 498.85,161.95 499.45,162.88 500.05,163.77 500.64,164.62 501.24,165.42 501.83,166.17 502.41,166.86 503.00,167.50 503.41,167.92 503.81,168.33 504.22,168.72 504.62,169.10 505.02,169.44 505.42,169.76 505.82,170.02 506.22,170.24 506.61,170.40 507.00,170.50 507.31,170.53 507.62,170.52 507.92,170.48 508.23,170.41 508.53,170.31 508.83,170.19 509.13,170.04 509.42,169.88 509.71,169.69 510.00,169.50 510.38,169.21 510.76,168.87 511.13,168.49 511.50,168.08 511.87,167.63 512.22,167.15 512.56,166.65 512.89,166.12 513.20,165.57 513.50,165.00 513.87,164.20 514.21,163.37 514.52,162.48 514.80,161.55 515.07,160.58 515.32,159.56 515.55,158.49 515.77,157.38 515.99,156.21 516.20,155.00 516.50,153.00 516.76,150.87 516.98,148.62 517.17,146.24 517.34,143.76 517.48,141.17 517.61,138.50 517.74,135.74 517.87,132.90 518.00,130.00 518.18,125.66 518.33,120.96 518.46,115.98 518.58,110.81 518.67,105.52 518.76,100.19 518.84,94.89 518.93,89.71 519.01,84.72 519.10,80.00 519.17,76.17 519.23,72.33 519.28,68.51 519.33,64.73 519.38,61.05 519.43,57.48 519.50,54.05 519.58,50.81 519.68,47.78 519.80,45.00 519.89,43.43 519.98,41.96 520.07,40.56 520.17,39.23 520.27,37.95 520.38,36.72 520.50,35.52 520.62,34.34 520.76,33.17 520.90,32.00 521.02,31.02 521.15,30.05 521.27,29.09 521.40,28.15 521.54,27.23 521.69,26.33 521.85,25.45 522.02,24.60 522.20,23.79 522.40,23.00 522.57,22.37 522.75,21.69 522.94,21.00 523.14,20.31 523.34,19.66 523.55,19.06 523.76,18.55 523.98,18.16 524.19,17.90 524.40,17.80 524.60,17.88 524.81,18.11 525.02,18.46 525.24,18.92 525.45,19.46 525.66,20.05 525.88,20.68 526.09,21.31 526.30,21.92 526.50,22.50 526.76,23.24 527.02,24.03 527.27,24.85 527.52,25.70 527.77,26.57 528.02,27.45 528.26,28.35 528.51,29.24 528.75,30.13 529.00,31.00 529.25,31.89 529.49,32.77 529.73,33.65 529.97,34.54 530.21,35.43 530.45,36.33 530.70,37.23 530.96,38.14 531.22,39.06 531.50,40.00 531.83,41.03 532.18,42.04 532.55,43.05 532.93,44.06 533.31,45.09 533.70,46.15 534.07,47.26 534.44,48.42 534.78,49.67 535.10,51.00 535.56,53.36 535.98,56.02 536.36,58.90 536.72,61.95 537.05,65.10 537.36,68.28 537.67,71.42 537.97,74.47 538.28,77.35 538.60,80.00 538.85,81.88 539.09,83.68 539.33,85.40 539.57,87.08 539.80,88.73 540.03,90.35 540.27,91.97 540.51,93.61 540.75,95.28 541.00,97.00 541.27,98.85 541.54,100.70 541.82,102.55 542.11,104.42 542.39,106.29 542.68,108.19 542.96,110.10 543.24,112.04 543.52,114.00 543.80,116.00 544.10,118.29 544.40,120.64 544.69,123.04 544.97,125.46 545.26,127.91 545.55,130.36 545.85,132.81 546.15,135.24 546.47,137.64 546.80,140.00 547.12,142.22 547.42,144.44 547.73,146.67 548.04,148.88 548.36,151.07 548.71,153.24 549.07,155.38 549.47,157.47 549.91,159.51 550.40,161.50 550.86,163.19 551.34,164.85 551.85,166.49 552.38,168.09 552.94,169.67 553.51,171.21 554.11,172.72 554.72,174.19 555.35,175.61 556.00,177.00 556.56,178.15 557.13,179.26 557.71,180.34 558.30,181.39 558.90,182.42 559.53,183.42 560.18,184.41 560.85,185.38 561.56,186.35 562.30,187.30 563.10,188.28 563.94,189.25 564.81,190.21 565.71,191.15 566.63,192.08 567.58,192.98 568.54,193.85 569.52,194.70 570.50,195.52 571.50,196.30 572.48,197.03 573.48,197.75 574.50,198.44 575.54,199.11 576.59,199.75 577.65,200.36 578.72,200.93 579.78,201.47 580.84,201.96 581.90,202.40 582.85,202.75 583.81,203.04 584.77,203.29 585.73,203.50 586.69,203.69 587.65,203.86 588.61,204.03 589.58,204.20 590.54,204.39 591.50,204.60 592.47,204.83 593.44,205.05 594.42,205.28 595.40,205.50 596.38,205.73 597.35,205.96 598.32,206.19 599.26,206.43 600.19,206.66 601.10,206.90 601.95,207.13 602.88,207.40 603.86,207.69 604.84,207.98 605.79,208.26 606.65,208.53 607.40,208.76 607.98,208.94 608.36,209.06 608.50,209.10" fill="none" stroke="#00ff00" stroke-width="1.3" stroke-linejoin="round"/>
<g transform="translate(389.5,46.9)"><polygon points="0.00,-2.13 2.04,1.39 -2.04,1.39" fill="#fff" stroke="#00ff00" stroke-width="1.0"/></g>
<g transform="translate(397.7,50.8)"><polygon points="0.00,-2.13 2.04,1.39 -2.04,1.39" fill="#fff" stroke="#00ff00" stroke-width="1.0"/></g>
<g transform="translate(406.3,55.3)"><polygon points="0.00,-2.13 2.04,1.39 -2.04,1.39" fill="#fff" stroke="#00ff00" stroke-width="1.0"/></g>
<g transform="translate(412.6,58.6)"><polygon points="0.00,-2.13 2.04,1.39 -2.04,1.39" fill="#fff" stroke="#00ff00" stroke-width="1.0"/></g>
<g transform="translate(421.2,63.8)"><polygon points="0.00,-2.13 2.04,1.39 -2.04,1.39" fill="#fff" stroke="#00ff00" stroke-width="1.0"/></g>
<g transform="translate(428.1,68.9)"><polygon points="0.00,-2.13 2.04,1.39 -2.04,1.39" fill="#fff" stroke="#00ff00" stroke-width="1.0"/></g>
<g transform="translate(436.0,74.5)"><polygon points="0.00,-2.13 2.04,1.39 -2.04,1.39" fill="#fff" stroke="#00ff00" stroke-width="1.0"/></g>
<g transform="translate(444.1,81.1)"><polygon points="0.00,-2.13 2.04,1.39 -2.04,1.39" fill="#fff" stroke="#00ff00" stroke-width="1.0"/></g>
<g transform="translate(451.7,88.9)"><polygon points="0.00,-2.13 2.04,1.39 -2.04,1.39" fill="#fff" stroke="#00ff00" stroke-width="1.0"/></g>
<g transform="translate(458.9,98.2)"><polygon points="0.00,-2.13 2.04,1.39 -2.04,1.39" fill="#fff" stroke="#00ff00" stroke-width="1.0"/></g>
<g transform="translate(466.1,108.6)"><polygon points="0.00,-2.13 2.04,1.39 -2.04,1.39" fill="#fff" stroke="#00ff00" stroke-width="1.0"/></g>
<g transform="translate(473.9,121.2)"><polygon points="0.00,-2.13 2.04,1.39 -2.04,1.39" fill="#fff" stroke="#00ff00" stroke-width="1.0"/></g>
<g transform="translate(481.4,132.4)"><polygon points="0.00,-2.13 2.04,1.39 -2.04,1.39" fill="#fff" stroke="#00ff00" stroke-width="1.0"/></g>
<g transform="translate(489.0,143.7)"><polygon points="0.00,-2.13 2.04,1.39 -2.04,1.39" fill="#fff" stroke="#00ff00" stroke-width="1.0"/></g>
<g transform="translate(496.1,157.5)"><polygon points="0.00,-2.13 2.04,1.39 -2.04,1.39" fill="#fff" stroke="#00ff00" stroke-width="1.0"/></g>
<g transform="translate(503.0,167.5)"><polygon points="0.00,-2.13 2.04,1.39 -2.04,1.39" fill="#fff" stroke="#00ff00" stroke-width="1.0"/></g>
<g transform="translate(510.8,168.9)"><polygon points="0.00,-2.13 2.04,1.39 -2.04,1.39" fill="#fff" stroke="#00ff00" stroke-width="1.0"/></g>
<g transform="translate(524.4,17.8)"><polygon points="0.00,-2.13 2.04,1.39 -2.04,1.39" fill="#fff" stroke="#00ff00" stroke-width="1.0"/></g>
<g transform="translate(535.1,51.0)"><polygon points="0.00,-2.13 2.04,1.39 -2.04,1.39" fill="#fff" stroke="#00ff00" stroke-width="1.0"/></g>
<g transform="translate(544.2,118.0)"><polygon points="0.00,-2.13 2.04,1.39 -2.04,1.39" fill="#fff" stroke="#00ff00" stroke-width="1.0"/></g>
<g transform="translate(550.4,161.5)"><polygon points="0.00,-2.13 2.04,1.39 -2.04,1.39" fill="#fff" stroke="#00ff00" stroke-width="1.0"/></g>
<g transform="translate(562.3,187.3)"><polygon points="0.00,-2.13 2.04,1.39 -2.04,1.39" fill="#fff" stroke="#00ff00" stroke-width="1.0"/></g>
<g transform="translate(571.5,196.3)"><polygon points="0.00,-2.13 2.04,1.39 -2.04,1.39" fill="#fff" stroke="#00ff00" stroke-width="1.0"/></g>
<g transform="translate(581.9,202.4)"><polygon points="0.00,-2.13 2.04,1.39 -2.04,1.39" fill="#fff" stroke="#00ff00" stroke-width="1.0"/></g>
<g transform="translate(591.5,204.6)"><polygon points="0.00,-2.13 2.04,1.39 -2.04,1.39" fill="#fff" stroke="#00ff00" stroke-width="1.0"/></g>
<g transform="translate(601.1,206.9)"><polygon points="0.00,-2.13 2.04,1.39 -2.04,1.39" fill="#fff" stroke="#00ff00" stroke-width="1.0"/></g>
<polyline points="378.70,45.50 379.11,45.69 380.25,46.21 381.99,47.01 384.20,48.03 386.75,49.21 389.50,50.49 392.34,51.82 395.12,53.13 397.71,54.38 400.00,55.50 402.07,56.53 404.17,57.57 406.30,58.63 408.42,59.69 410.52,60.76 412.58,61.83 414.57,62.89 416.49,63.94 418.30,64.98 420.00,66.00 421.17,66.74 422.28,67.46 423.33,68.18 424.34,68.89 425.32,69.60 426.27,70.31 427.20,71.02 428.13,71.74 429.06,72.46 430.00,73.20 430.90,73.91 431.78,74.61 432.65,75.31 433.50,76.02 434.35,76.73 435.20,77.45 436.04,78.18 436.89,78.93 437.74,79.71 438.60,80.50 439.56,81.41 440.53,82.34 441.51,83.30 442.48,84.28 443.46,85.27 444.43,86.28 445.41,87.30 446.38,88.33 447.34,89.36 448.30,90.40 449.29,91.47 450.27,92.54 451.26,93.62 452.24,94.71 453.22,95.81 454.19,96.92 455.16,98.06 456.12,99.21 457.06,100.39 458.00,101.60 459.00,102.95 459.99,104.33 460.96,105.75 461.93,107.19 462.88,108.66 463.83,110.14 464.78,111.63 465.72,113.12 466.66,114.61 467.60,116.10 468.55,117.61 469.50,119.13 470.44,120.65 471.38,122.17 472.31,123.71 473.25,125.25 474.18,126.80 475.12,128.36 476.06,129.92 477.00,131.50 478.00,133.16 479.00,134.85 480.01,136.54 481.02,138.25 482.03,139.96 483.04,141.68 484.04,143.39 485.04,145.11 486.02,146.81 487.00,148.50 487.94,150.16 488.88,151.86 489.81,153.58 490.74,155.30 491.66,157.01 492.57,158.69 493.47,160.31 494.36,161.87 495.24,163.34 496.10,164.70 496.72,165.63 497.33,166.52 497.93,167.38 498.53,168.21 499.13,169.00 499.72,169.76 500.30,170.49 500.87,171.19 501.44,171.86 502.00,172.50 502.41,172.98 502.81,173.46 503.21,173.95 503.60,174.42 503.98,174.86 504.37,175.27 504.77,175.63 505.17,175.93 505.58,176.16 506.00,176.30 506.39,176.36 506.79,176.37 507.21,176.33 507.63,176.25 508.05,176.12 508.47,175.96 508.88,175.77 509.28,175.54 509.65,175.28 510.00,175.00 510.43,174.55 510.84,174.00 511.21,173.38 511.56,172.69 511.88,171.95 512.19,171.17 512.48,170.38 512.76,169.57 513.03,168.77 513.30,168.00 513.58,167.18 513.85,166.36 514.10,165.55 514.33,164.72 514.55,163.87 514.75,162.99 514.95,162.08 515.14,161.11 515.32,160.09 515.50,159.00 515.77,157.11 516.00,155.07 516.20,152.90 516.38,150.60 516.54,148.20 516.68,145.70 516.81,143.12 516.94,140.47 517.07,137.76 517.20,135.00 517.37,131.05 517.52,126.84 517.64,122.41 517.76,117.83 517.86,113.14 517.96,108.40 518.06,103.66 518.16,98.98 518.27,94.41 518.40,90.00 518.52,85.99 518.65,81.92 518.77,77.82 518.89,73.73 519.02,69.71 519.15,65.79 519.30,62.02 519.45,58.44 519.62,55.08 519.80,52.00 519.92,50.20 520.04,48.48 520.16,46.84 520.29,45.28 520.42,43.77 520.56,42.33 520.70,40.93 520.86,39.59 521.02,38.28 521.20,37.00 521.34,36.08 521.48,35.18 521.62,34.31 521.77,33.46 521.92,32.64 522.08,31.84 522.25,31.08 522.42,30.35 522.61,29.66 522.80,29.00 522.94,28.53 523.09,28.04 523.24,27.55 523.40,27.06 523.56,26.60 523.72,26.18 523.89,25.83 524.05,25.55 524.23,25.37 524.40,25.30 524.57,25.35 524.74,25.50 524.92,25.75 525.10,26.06 525.28,26.43 525.47,26.83 525.65,27.26 525.84,27.69 526.02,28.11 526.20,28.50 526.43,28.98 526.66,29.49 526.89,30.02 527.12,30.57 527.35,31.13 527.59,31.70 527.82,32.28 528.05,32.86 528.27,33.43 528.50,34.00 528.74,34.57 528.97,35.13 529.21,35.67 529.45,36.21 529.69,36.76 529.92,37.34 530.15,37.94 530.37,38.57 530.59,39.26 530.80,40.00 531.13,41.38 531.43,42.92 531.72,44.59 531.98,46.36 532.24,48.22 532.50,50.14 532.75,52.08 533.02,54.04 533.30,55.99 533.60,57.90 533.96,60.02 534.35,62.19 534.75,64.39 535.16,66.62 535.58,68.87 535.99,71.12 536.40,73.37 536.79,75.61 537.16,77.82 537.50,80.00 537.80,82.05 538.07,84.11 538.33,86.16 538.58,88.21 538.81,90.24 539.04,92.25 539.27,94.24 539.51,96.20 539.75,98.12 540.00,100.00 540.23,101.62 540.46,103.24 540.70,104.85 540.94,106.45 541.18,108.02 541.42,109.54 541.65,111.02 541.88,112.43 542.09,113.76 542.30,115.00 542.43,115.75 542.55,116.43 542.67,117.05 542.79,117.64 542.90,118.21 543.01,118.79 543.13,119.40 543.25,120.06 543.37,120.79 543.50,121.60 543.76,123.38 544.03,125.44 544.31,127.73 544.60,130.18 544.90,132.73 545.20,135.33 545.52,137.91 545.84,140.43 546.17,142.81 546.50,145.00 546.77,146.64 547.04,148.23 547.32,149.78 547.61,151.29 547.89,152.77 548.18,154.23 548.48,155.68 548.78,157.12 549.09,158.55 549.40,160.00 549.69,161.37 549.99,162.74 550.28,164.11 550.57,165.47 550.87,166.81 551.18,168.15 551.50,169.46 551.85,170.76 552.21,172.04 552.60,173.30 552.98,174.44 553.37,175.56 553.78,176.67 554.20,177.76 554.63,178.84 555.08,179.90 555.54,180.95 556.01,181.98 556.50,183.00 557.00,184.00 557.47,184.92 557.94,185.82 558.41,186.70 558.89,187.58 559.38,188.43 559.90,189.28 560.45,190.12 561.02,190.95 561.64,191.78 562.30,192.60 563.12,193.55 564.00,194.52 564.94,195.49 565.92,196.45 566.93,197.39 567.97,198.31 569.02,199.19 570.09,200.02 571.15,200.79 572.20,201.50 573.14,202.07 574.08,202.59 575.04,203.07 576.01,203.51 576.99,203.92 577.97,204.30 578.95,204.66 579.93,205.01 580.92,205.36 581.90,205.70 582.85,206.02 583.81,206.33 584.76,206.62 585.72,206.90 586.68,207.17 587.64,207.42 588.61,207.65 589.57,207.88 590.53,208.09 591.50,208.30 592.46,208.49 593.43,208.66 594.41,208.81 595.39,208.95 596.37,209.08 597.34,209.21 598.31,209.33 599.26,209.45 600.19,209.57 601.10,209.70 601.95,209.82 602.88,209.96 603.86,210.11 604.84,210.25 605.78,210.39 606.65,210.52 607.39,210.63 607.98,210.72 608.36,210.78 608.50,210.80" fill="none" stroke="#0000ff" stroke-width="1.3" stroke-linejoin="round"/>
<g transform="translate(392.3,51.8)"><polygon points="-1.85,-1.85 1.85,-1.85 1.85,1.85 -1.85,1.85" fill="#0000ff" stroke="#0000ff" stroke-width="1.0"/></g>
<g transform="translate(400.0,55.5)"><polygon points="-1.85,-1.85 1.85,-1.85 1.85,1.85 -1.85,1.85" fill="#0000ff" stroke="#0000ff" stroke-width="1.0"/></g>
<g transform="translate(406.3,58.6)"><polygon points="-1.85,-1.85 1.85,-1.85 1.85,1.85 -1.85,1.85" fill="#0000ff" stroke="#0000ff" stroke-width="1.0"/></g>
<g transform="translate(414.6,62.9)"><polygon points="-1.85,-1.85 1.85,-1.85 1.85,1.85 -1.85,1.85" fill="#0000ff" stroke="#0000ff" stroke-width="1.0"/></g>
<g transform="translate(422.3,67.5)"><polygon points="-1.85,-1.85 1.85,-1.85 1.85,1.85 -1.85,1.85" fill="#0000ff" stroke="#0000ff" stroke-width="1.0"/></g>
<g transform="translate(430.0,73.2)"><polygon points="-1.85,-1.85 1.85,-1.85 1.85,1.85 -1.85,1.85" fill="#0000ff" stroke="#0000ff" stroke-width="1.0"/></g>
<g transform="translate(437.7,79.7)"><polygon points="-1.85,-1.85 1.85,-1.85 1.85,1.85 -1.85,1.85" fill="#0000ff" stroke="#0000ff" stroke-width="1.0"/></g>
<g transform="translate(445.4,87.3)"><polygon points="-1.85,-1.85 1.85,-1.85 1.85,1.85 -1.85,1.85" fill="#0000ff" stroke="#0000ff" stroke-width="1.0"/></g>
<g transform="translate(453.2,95.8)"><polygon points="-1.85,-1.85 1.85,-1.85 1.85,1.85 -1.85,1.85" fill="#0000ff" stroke="#0000ff" stroke-width="1.0"/></g>
<g transform="translate(460.0,104.3)"><polygon points="-1.85,-1.85 1.85,-1.85 1.85,1.85 -1.85,1.85" fill="#0000ff" stroke="#0000ff" stroke-width="1.0"/></g>
<g transform="translate(467.6,116.1)"><polygon points="-1.85,-1.85 1.85,-1.85 1.85,1.85 -1.85,1.85" fill="#0000ff" stroke="#0000ff" stroke-width="1.0"/></g>
<g transform="translate(475.1,128.4)"><polygon points="-1.85,-1.85 1.85,-1.85 1.85,1.85 -1.85,1.85" fill="#0000ff" stroke="#0000ff" stroke-width="1.0"/></g>
<g transform="translate(483.0,141.7)"><polygon points="-1.85,-1.85 1.85,-1.85 1.85,1.85 -1.85,1.85" fill="#0000ff" stroke="#0000ff" stroke-width="1.0"/></g>
<g transform="translate(489.8,153.6)"><polygon points="-1.85,-1.85 1.85,-1.85 1.85,1.85 -1.85,1.85" fill="#0000ff" stroke="#0000ff" stroke-width="1.0"/></g>
<g transform="translate(497.3,166.5)"><polygon points="-1.85,-1.85 1.85,-1.85 1.85,1.85 -1.85,1.85" fill="#0000ff" stroke="#0000ff" stroke-width="1.0"/></g>
<g transform="translate(504.8,175.6)"><polygon points="-1.85,-1.85 1.85,-1.85 1.85,1.85 -1.85,1.85" fill="#0000ff" stroke="#0000ff" stroke-width="1.0"/></g>
<g transform="translate(512.2,171.2)"><polygon points="-1.85,-1.85 1.85,-1.85 1.85,1.85 -1.85,1.85" fill="#0000ff" stroke="#0000ff" stroke-width="1.0"/></g>
<g transform="translate(524.4,25.3)"><polygon points="-1.85,-1.85 1.85,-1.85 1.85,1.85 -1.85,1.85" fill="#0000ff" stroke="#0000ff" stroke-width="1.0"/></g>
<g transform="translate(533.6,57.9)"><polygon points="-1.85,-1.85 1.85,-1.85 1.85,1.85 -1.85,1.85" fill="#0000ff" stroke="#0000ff" stroke-width="1.0"/></g>
<g transform="translate(543.5,121.6)"><polygon points="-1.85,-1.85 1.85,-1.85 1.85,1.85 -1.85,1.85" fill="#0000ff" stroke="#0000ff" stroke-width="1.0"/></g>
<g transform="translate(552.6,173.3)"><polygon points="-1.85,-1.85 1.85,-1.85 1.85,1.85 -1.85,1.85" fill="#0000ff" stroke="#0000ff" stroke-width="1.0"/></g>
<g transform="translate(562.3,192.6)"><polygon points="-1.85,-1.85 1.85,-1.85 1.85,1.85 -1.85,1.85" fill="#0000ff" stroke="#0000ff" stroke-width="1.0"/></g>
<g transform="translate(572.2,201.5)"><polygon points="-1.85,-1.85 1.85,-1.85 1.85,1.85 -1.85,1.85" fill="#0000ff" stroke="#0000ff" stroke-width="1.0"/></g>
<g transform="translate(581.9,205.7)"><polygon points="-1.85,-1.85 1.85,-1.85 1.85,1.85 -1.85,1.85" fill="#0000ff" stroke="#0000ff" stroke-width="1.0"/></g>
<g transform="translate(591.5,208.3)"><polygon points="-1.85,-1.85 1.85,-1.85 1.85,1.85 -1.85,1.85" fill="#0000ff" stroke="#0000ff" stroke-width="1.0"/></g>
<g transform="translate(601.1,209.7)"><polygon points="-1.85,-1.85 1.85,-1.85 1.85,1.85 -1.85,1.85" fill="#0000ff" stroke="#0000ff" stroke-width="1.0"/></g>
<polyline points="378.70,64.40 379.11,64.55 380.25,64.98 381.99,65.62 384.20,66.45 386.74,67.40 389.50,68.44 392.33,69.52 395.11,70.58 397.71,71.59 400.00,72.50 402.07,73.32 404.17,74.14 406.30,74.97 408.43,75.79 410.53,76.63 412.59,77.48 414.59,78.33 416.51,79.21 418.32,80.09 420.00,81.00 421.17,81.70 422.25,82.41 423.27,83.14 424.24,83.87 425.17,84.61 426.09,85.36 427.02,86.10 427.97,86.84 428.95,87.57 430.00,88.30 431.24,89.08 432.53,89.84 433.87,90.59 435.24,91.32 436.62,92.07 437.98,92.82 439.32,93.61 440.62,94.42 441.85,95.28 443.00,96.20 444.01,97.12 444.95,98.08 445.84,99.07 446.69,100.10 447.51,101.15 448.33,102.22 449.14,103.30 449.96,104.37 450.81,105.44 451.70,106.50 452.68,107.60 453.69,108.70 454.72,109.79 455.76,110.89 456.81,111.99 457.85,113.10 458.88,114.23 459.88,115.39 460.86,116.58 461.80,117.80 462.74,119.11 463.65,120.45 464.53,121.81 465.39,123.20 466.23,124.61 467.06,126.04 467.89,127.50 468.72,128.98 469.55,130.48 470.40,132.00 471.37,133.76 472.34,135.57 473.31,137.42 474.28,139.30 475.25,141.21 476.21,143.13 477.17,145.05 478.12,146.96 479.07,148.84 480.00,150.70 480.88,152.46 481.74,154.21 482.60,155.96 483.44,157.70 484.28,159.44 485.13,161.16 485.98,162.89 486.84,164.60 487.71,166.30 488.60,168.00 489.50,169.69 490.41,171.41 491.33,173.15 492.26,174.88 493.19,176.60 494.13,178.28 495.08,179.90 496.02,181.46 496.96,182.93 497.90,184.30 498.61,185.29 499.34,186.26 500.07,187.21 500.80,188.13 501.53,189.00 502.25,189.83 502.96,190.59 503.66,191.27 504.34,191.88 505.00,192.40 505.39,192.68 505.77,192.95 506.14,193.19 506.51,193.41 506.88,193.61 507.24,193.77 507.60,193.89 507.96,193.97 508.33,194.01 508.70,194.00 509.14,193.92 509.59,193.79 510.05,193.59 510.51,193.35 510.98,193.05 511.43,192.71 511.86,192.33 512.27,191.92 512.65,191.47 513.00,191.00 513.44,190.25 513.81,189.40 514.12,188.48 514.38,187.47 514.60,186.39 514.80,185.24 514.97,184.02 515.14,182.74 515.32,181.40 515.50,180.00 515.81,177.30 516.07,174.26 516.28,170.94 516.46,167.40 516.60,163.69 516.73,159.90 516.84,156.07 516.95,152.27 517.07,148.56 517.20,145.00 517.33,141.61 517.46,138.21 517.57,134.80 517.68,131.40 517.79,128.01 517.89,124.65 517.99,121.32 518.10,118.02 518.20,114.78 518.30,111.60 518.39,108.81 518.48,106.06 518.57,103.34 518.65,100.65 518.74,97.99 518.82,95.36 518.91,92.74 519.00,90.15 519.10,87.57 519.20,85.00 519.29,82.60 519.39,80.17 519.48,77.74 519.57,75.32 519.66,72.93 519.77,70.58 519.88,68.30 520.00,66.10 520.14,63.99 520.30,62.00 520.42,60.62 520.55,59.29 520.68,57.99 520.81,56.74 520.96,55.52 521.11,54.34 521.27,53.20 521.43,52.10 521.61,51.03 521.80,50.00 521.95,49.24 522.09,48.49 522.25,47.74 522.40,47.02 522.56,46.32 522.73,45.65 522.91,45.03 523.09,44.46 523.29,43.94 523.50,43.50 523.62,43.28 523.74,43.06 523.87,42.85 524.00,42.65 524.13,42.47 524.26,42.31 524.39,42.18 524.53,42.08 524.66,42.02 524.80,42.00 524.96,42.03 525.12,42.12 525.28,42.26 525.45,42.43 525.61,42.64 525.78,42.88 525.94,43.15 526.10,43.42 526.25,43.71 526.40,44.00 526.65,44.56 526.88,45.22 527.10,45.94 527.31,46.73 527.51,47.56 527.71,48.43 527.90,49.33 528.09,50.23 528.29,51.12 528.50,52.00 528.75,53.02 529.00,54.06 529.26,55.11 529.51,56.19 529.77,57.28 530.02,58.39 530.27,59.51 530.52,60.66 530.76,61.82 531.00,63.00 531.26,64.40 531.52,65.83 531.76,67.28 532.00,68.76 532.23,70.27 532.47,71.79 532.71,73.33 532.96,74.88 533.22,76.44 533.50,78.00 533.83,79.73 534.18,81.49 534.56,83.26 534.94,85.06 535.33,86.86 535.71,88.68 536.09,90.51 536.45,92.34 536.79,94.17 537.10,96.00 537.39,97.86 537.65,99.72 537.89,101.57 538.12,103.43 538.34,105.30 538.55,107.18 538.76,109.09 538.96,111.02 539.18,112.99 539.40,115.00 539.66,117.35 539.91,119.73 540.15,122.15 540.40,124.60 540.64,127.09 540.89,129.61 541.15,132.16 541.42,134.75 541.70,137.36 542.00,140.00 542.34,143.11 542.68,146.37 543.02,149.73 543.36,153.14 543.73,156.57 544.12,159.96 544.54,163.26 545.01,166.43 545.53,169.43 546.10,172.20 546.55,174.07 547.03,175.85 547.54,177.56 548.07,179.21 548.61,180.80 549.17,182.35 549.75,183.87 550.33,185.36 550.91,186.83 551.50,188.30 552.00,189.58 552.49,190.86 552.97,192.11 553.46,193.35 553.96,194.56 554.48,195.74 555.04,196.89 555.63,198.01 556.29,199.08 557.00,200.10 557.74,201.04 558.54,201.95 559.38,202.84 560.26,203.68 561.17,204.50 562.10,205.27 563.06,206.01 564.03,206.72 565.01,207.38 566.00,208.00 566.96,208.55 567.95,209.07 568.96,209.55 569.98,209.99 571.02,210.40 572.07,210.78 573.11,211.12 574.16,211.44 575.19,211.73 576.20,212.00 577.11,212.21 578.00,212.39 578.89,212.53 579.78,212.65 580.66,212.75 581.55,212.83 582.45,212.90 583.35,212.96 584.27,213.03 585.20,213.10 586.24,213.17 587.28,213.24 588.34,213.29 589.41,213.33 590.49,213.37 591.57,213.39 592.67,213.42 593.77,213.45 594.88,213.47 596.00,213.50 597.33,213.53 598.84,213.56 600.47,213.59 602.13,213.62 603.75,213.64 605.25,213.66 606.55,213.68 607.58,213.69 608.26,213.70 608.50,213.70" fill="none" stroke="#ff0000" stroke-width="1.3" stroke-linejoin="round"/>
<g transform="translate(389.5,68.4)"><polygon points="-2.04,-1.39 2.04,-1.39 0.00,2.13" fill="#fff" stroke="#ff0000" stroke-width="1.0"/><polygon points="-0.96,0.46 -2.04,-1.39 2.04,-1.39 0.96,0.46" fill="#ff0000"/></g>
<g transform="translate(397.7,71.6)"><polygon points="-2.04,-1.39 2.04,-1.39 0.00,2.13" fill="#fff" stroke="#ff0000" stroke-width="1.0"/><polygon points="-0.96,0.46 -2.04,-1.39 2.04,-1.39 0.96,0.46" fill="#ff0000"/></g>
<g transform="translate(406.3,75.0)"><polygon points="-2.04,-1.39 2.04,-1.39 0.00,2.13" fill="#fff" stroke="#ff0000" stroke-width="1.0"/><polygon points="-0.96,0.46 -2.04,-1.39 2.04,-1.39 0.96,0.46" fill="#ff0000"/></g>
<g transform="translate(414.6,78.3)"><polygon points="-2.04,-1.39 2.04,-1.39 0.00,2.13" fill="#fff" stroke="#ff0000" stroke-width="1.0"/><polygon points="-0.96,0.46 -2.04,-1.39 2.04,-1.39 0.96,0.46" fill="#ff0000"/></g>
<g transform="translate(421.2,81.7)"><polygon points="-2.04,-1.39 2.04,-1.39 0.00,2.13" fill="#fff" stroke="#ff0000" stroke-width="1.0"/><polygon points="-0.96,0.46 -2.04,-1.39 2.04,-1.39 0.96,0.46" fill="#ff0000"/></g>
<g transform="translate(429.0,87.6)"><polygon points="-2.04,-1.39 2.04,-1.39 0.00,2.13" fill="#fff" stroke="#ff0000" stroke-width="1.0"/><polygon points="-0.96,0.46 -2.04,-1.39 2.04,-1.39 0.96,0.46" fill="#ff0000"/></g>
<g transform="translate(436.6,92.1)"><polygon points="-2.04,-1.39 2.04,-1.39 0.00,2.13" fill="#fff" stroke="#ff0000" stroke-width="1.0"/><polygon points="-0.96,0.46 -2.04,-1.39 2.04,-1.39 0.96,0.46" fill="#ff0000"/></g>
<g transform="translate(444.0,97.1)"><polygon points="-2.04,-1.39 2.04,-1.39 0.00,2.13" fill="#fff" stroke="#ff0000" stroke-width="1.0"/><polygon points="-0.96,0.46 -2.04,-1.39 2.04,-1.39 0.96,0.46" fill="#ff0000"/></g>
<g transform="translate(451.7,106.5)"><polygon points="-2.04,-1.39 2.04,-1.39 0.00,2.13" fill="#fff" stroke="#ff0000" stroke-width="1.0"/><polygon points="-0.96,0.46 -2.04,-1.39 2.04,-1.39 0.96,0.46" fill="#ff0000"/></g>
<g transform="translate(459.9,115.4)"><polygon points="-2.04,-1.39 2.04,-1.39 0.00,2.13" fill="#fff" stroke="#ff0000" stroke-width="1.0"/><polygon points="-0.96,0.46 -2.04,-1.39 2.04,-1.39 0.96,0.46" fill="#ff0000"/></g>
<g transform="translate(467.1,126.0)"><polygon points="-2.04,-1.39 2.04,-1.39 0.00,2.13" fill="#fff" stroke="#ff0000" stroke-width="1.0"/><polygon points="-0.96,0.46 -2.04,-1.39 2.04,-1.39 0.96,0.46" fill="#ff0000"/></g>
<g transform="translate(474.3,139.3)"><polygon points="-2.04,-1.39 2.04,-1.39 0.00,2.13" fill="#fff" stroke="#ff0000" stroke-width="1.0"/><polygon points="-0.96,0.46 -2.04,-1.39 2.04,-1.39 0.96,0.46" fill="#ff0000"/></g>
<g transform="translate(481.7,154.2)"><polygon points="-2.04,-1.39 2.04,-1.39 0.00,2.13" fill="#fff" stroke="#ff0000" stroke-width="1.0"/><polygon points="-0.96,0.46 -2.04,-1.39 2.04,-1.39 0.96,0.46" fill="#ff0000"/></g>
<g transform="translate(488.6,168.0)"><polygon points="-2.04,-1.39 2.04,-1.39 0.00,2.13" fill="#fff" stroke="#ff0000" stroke-width="1.0"/><polygon points="-0.96,0.46 -2.04,-1.39 2.04,-1.39 0.96,0.46" fill="#ff0000"/></g>
<g transform="translate(496.0,181.5)"><polygon points="-2.04,-1.39 2.04,-1.39 0.00,2.13" fill="#fff" stroke="#ff0000" stroke-width="1.0"/><polygon points="-0.96,0.46 -2.04,-1.39 2.04,-1.39 0.96,0.46" fill="#ff0000"/></g>
<g transform="translate(503.7,191.3)"><polygon points="-2.04,-1.39 2.04,-1.39 0.00,2.13" fill="#fff" stroke="#ff0000" stroke-width="1.0"/><polygon points="-0.96,0.46 -2.04,-1.39 2.04,-1.39 0.96,0.46" fill="#ff0000"/></g>
<g transform="translate(511.4,192.7)"><polygon points="-2.04,-1.39 2.04,-1.39 0.00,2.13" fill="#fff" stroke="#ff0000" stroke-width="1.0"/><polygon points="-0.96,0.46 -2.04,-1.39 2.04,-1.39 0.96,0.46" fill="#ff0000"/></g>
<g transform="translate(517.8,111.6)"><polygon points="-2.04,-1.39 2.04,-1.39 0.00,2.13" fill="#fff" stroke="#ff0000" stroke-width="1.0"/><polygon points="-0.96,0.46 -2.04,-1.39 2.04,-1.39 0.96,0.46" fill="#ff0000"/></g>
<g transform="translate(524.8,42.0)"><polygon points="-2.04,-1.39 2.04,-1.39 0.00,2.13" fill="#fff" stroke="#ff0000" stroke-width="1.0"/><polygon points="-0.96,0.46 -2.04,-1.39 2.04,-1.39 0.96,0.46" fill="#ff0000"/></g>
<g transform="translate(537.1,96.0)"><polygon points="-2.04,-1.39 2.04,-1.39 0.00,2.13" fill="#fff" stroke="#ff0000" stroke-width="1.0"/><polygon points="-0.96,0.46 -2.04,-1.39 2.04,-1.39 0.96,0.46" fill="#ff0000"/></g>
<g transform="translate(546.1,172.2)"><polygon points="-2.04,-1.39 2.04,-1.39 0.00,2.13" fill="#fff" stroke="#ff0000" stroke-width="1.0"/><polygon points="-0.96,0.46 -2.04,-1.39 2.04,-1.39 0.96,0.46" fill="#ff0000"/></g>
<g transform="translate(551.5,188.3)"><polygon points="-2.04,-1.39 2.04,-1.39 0.00,2.13" fill="#fff" stroke="#ff0000" stroke-width="1.0"/><polygon points="-0.96,0.46 -2.04,-1.39 2.04,-1.39 0.96,0.46" fill="#ff0000"/></g>
<g transform="translate(557.0,200.1)"><polygon points="-2.04,-1.39 2.04,-1.39 0.00,2.13" fill="#fff" stroke="#ff0000" stroke-width="1.0"/><polygon points="-0.96,0.46 -2.04,-1.39 2.04,-1.39 0.96,0.46" fill="#ff0000"/></g>
<g transform="translate(566.0,208.0)"><polygon points="-2.04,-1.39 2.04,-1.39 0.00,2.13" fill="#fff" stroke="#ff0000" stroke-width="1.0"/><polygon points="-0.96,0.46 -2.04,-1.39 2.04,-1.39 0.96,0.46" fill="#ff0000"/></g>
<g transform="translate(576.2,212.0)"><polygon points="-2.04,-1.39 2.04,-1.39 0.00,2.13" fill="#fff" stroke="#ff0000" stroke-width="1.0"/><polygon points="-0.96,0.46 -2.04,-1.39 2.04,-1.39 0.96,0.46" fill="#ff0000"/></g>
<g transform="translate(585.2,213.1)"><polygon points="-2.04,-1.39 2.04,-1.39 0.00,2.13" fill="#fff" stroke="#ff0000" stroke-width="1.0"/><polygon points="-0.96,0.46 -2.04,-1.39 2.04,-1.39 0.96,0.46" fill="#ff0000"/></g>
<g transform="translate(596.0,213.5)"><polygon points="-2.04,-1.39 2.04,-1.39 0.00,2.13" fill="#fff" stroke="#ff0000" stroke-width="1.0"/><polygon points="-0.96,0.46 -2.04,-1.39 2.04,-1.39 0.96,0.46" fill="#ff0000"/></g>
<polyline points="378.70,112.30 379.02,112.39 379.89,112.62 381.22,112.98 382.91,113.43 384.85,113.94 386.96,114.50 389.13,115.06 391.26,115.59 393.25,116.09 395.00,116.50 396.54,116.84 398.08,117.16 399.64,117.47 401.19,117.77 402.73,118.06 404.25,118.34 405.74,118.63 407.21,118.91 408.63,119.20 410.00,119.50 411.08,119.75 412.13,120.01 413.15,120.26 414.15,120.52 415.13,120.78 416.10,121.03 417.06,121.28 418.03,121.53 419.01,121.77 420.00,122.00 421.00,122.21 422.00,122.39 423.00,122.56 424.00,122.72 425.00,122.88 426.00,123.05 427.00,123.24 428.00,123.45 429.00,123.70 430.00,124.00 431.08,124.37 432.18,124.79 433.27,125.25 434.37,125.74 435.47,126.25 436.56,126.78 437.64,127.32 438.71,127.86 439.77,128.39 440.80,128.90 441.74,129.37 442.66,129.84 443.57,130.31 444.47,130.78 445.36,131.26 446.25,131.74 447.13,132.22 448.01,132.71 448.90,133.20 449.80,133.70 450.72,134.20 451.65,134.69 452.58,135.16 453.51,135.65 454.44,136.14 455.36,136.64 456.29,137.17 457.20,137.74 458.11,138.35 459.00,139.00 460.01,139.80 461.03,140.65 462.05,141.54 463.06,142.47 464.05,143.44 465.04,144.44 466.00,145.47 466.93,146.53 467.83,147.61 468.70,148.70 469.57,149.89 470.41,151.14 471.22,152.44 472.00,153.78 472.76,155.14 473.50,156.49 474.21,157.83 474.89,159.14 475.56,160.40 476.20,161.60 476.69,162.51 477.16,163.40 477.61,164.26 478.05,165.11 478.47,165.95 478.89,166.77 479.29,167.59 479.69,168.39 480.10,169.20 480.50,170.00 480.86,170.72 481.22,171.43 481.57,172.13 481.91,172.82 482.25,173.51 482.59,174.20 482.93,174.89 483.28,175.58 483.64,176.29 484.00,177.00 484.40,177.78 484.79,178.55 485.18,179.34 485.58,180.12 485.98,180.92 486.39,181.72 486.82,182.52 487.26,183.34 487.72,184.16 488.20,185.00 488.80,186.02 489.43,187.10 490.10,188.20 490.78,189.33 491.49,190.45 492.20,191.56 492.91,192.64 493.62,193.66 494.32,194.62 495.00,195.50 495.50,196.10 496.00,196.67 496.50,197.21 496.99,197.72 497.48,198.21 497.98,198.69 498.48,199.15 498.98,199.60 499.49,200.05 500.00,200.50 500.49,200.94 500.98,201.41 501.47,201.88 501.96,202.34 502.45,202.79 502.96,203.21 503.47,203.59 504.00,203.92 504.54,204.20 505.10,204.40 505.69,204.54 506.31,204.64 506.97,204.70 507.64,204.71 508.32,204.68 508.98,204.61 509.63,204.48 510.24,204.31 510.80,204.08 511.30,203.80 511.76,203.45 512.17,203.04 512.55,202.57 512.89,202.04 513.20,201.47 513.48,200.85 513.75,200.19 514.01,199.49 514.26,198.76 514.50,198.00 514.87,196.67 515.18,195.22 515.43,193.66 515.63,191.99 515.81,190.22 515.96,188.36 516.09,186.40 516.22,184.35 516.35,182.21 516.50,180.00 516.74,175.96 516.94,171.40 517.11,166.44 517.25,161.20 517.38,155.77 517.49,150.29 517.61,144.86 517.72,139.59 517.85,134.60 518.00,130.00 518.12,126.66 518.25,123.39 518.37,120.20 518.49,117.08 518.62,114.05 518.74,111.08 518.88,108.20 519.01,105.39 519.15,102.66 519.30,100.00 519.42,97.99 519.53,96.02 519.64,94.10 519.76,92.21 519.87,90.38 520.00,88.60 520.13,86.86 520.27,85.19 520.43,83.56 520.60,82.00 520.73,80.86 520.87,79.75 521.01,78.66 521.15,77.60 521.30,76.58 521.46,75.58 521.62,74.63 521.80,73.71 521.99,72.83 522.20,72.00 522.35,71.43 522.51,70.87 522.67,70.32 522.84,69.80 523.02,69.29 523.20,68.81 523.39,68.36 523.58,67.94 523.79,67.55 524.00,67.20 524.15,66.98 524.30,66.77 524.45,66.56 524.61,66.37 524.77,66.19 524.93,66.03 525.09,65.90 525.26,65.80 525.43,65.73 525.60,65.70 525.78,65.72 525.97,65.77 526.16,65.87 526.36,66.00 526.55,66.15 526.75,66.33 526.94,66.53 527.13,66.75 527.32,66.97 527.50,67.20 527.78,67.60 528.05,68.05 528.31,68.55 528.57,69.10 528.82,69.68 529.06,70.30 529.30,70.94 529.53,71.61 529.77,72.30 530.00,73.00 530.33,74.07 530.65,75.22 530.96,76.43 531.26,77.70 531.55,79.02 531.84,80.37 532.13,81.76 532.41,83.17 532.71,84.58 533.00,86.00 533.36,87.73 533.73,89.55 534.11,91.44 534.49,93.37 534.86,95.31 535.23,97.24 535.58,99.14 535.91,100.99 536.22,102.75 536.50,104.40 536.69,105.55 536.86,106.62 537.02,107.62 537.17,108.58 537.31,109.54 537.45,110.50 537.58,111.51 537.72,112.58 537.85,113.73 538.00,115.00 538.25,117.38 538.50,120.02 538.75,122.87 539.00,125.90 539.25,129.04 539.50,132.26 539.75,135.52 540.00,138.75 540.25,141.93 540.50,145.00 540.74,148.04 540.97,151.14 541.19,154.27 541.41,157.41 541.63,160.54 541.86,163.62 542.11,166.63 542.37,169.55 542.67,172.35 543.00,175.00 543.27,176.92 543.56,178.79 543.86,180.61 544.18,182.38 544.50,184.10 544.83,185.77 545.17,187.40 545.51,188.97 545.86,190.51 546.20,192.00 546.45,193.12 546.68,194.21 546.90,195.27 547.12,196.30 547.35,197.31 547.60,198.29 547.88,199.25 548.20,200.18 548.57,201.10 549.00,202.00 549.47,202.87 549.98,203.74 550.52,204.60 551.09,205.44 551.70,206.25 552.35,207.03 553.03,207.78 553.75,208.47 554.51,209.12 555.30,209.70 556.21,210.25 557.21,210.72 558.28,211.13 559.39,211.48 560.53,211.80 561.68,212.08 562.82,212.34 563.93,212.59 565.00,212.84 566.00,213.10 566.74,213.31 567.44,213.51 568.10,213.71 568.75,213.89 569.39,214.07 570.04,214.23 570.71,214.39 571.42,214.54 572.18,214.67 573.00,214.80 574.39,214.96 575.90,215.09 577.52,215.19 579.22,215.26 580.98,215.31 582.78,215.35 584.61,215.38 586.43,215.41 588.24,215.45 590.00,215.50 591.98,215.56 594.24,215.63 596.66,215.70 599.12,215.76 601.51,215.83 603.72,215.88 605.64,215.93 607.15,215.97 608.14,215.99 608.50,216.00" fill="none" stroke="#ff00ff" stroke-width="1.3" stroke-linejoin="round"/>
<g transform="translate(391.3,115.6)"><polygon points="-2.04,-1.39 2.04,-1.39 0.00,2.13" fill="#fff" stroke="#ff00ff" stroke-width="1.0"/><polygon points="-0.96,0.46 -2.04,-1.39 2.04,-1.39 0.96,0.46" fill="#ff00ff"/></g>
<g transform="translate(399.6,117.5)"><polygon points="-2.04,-1.39 2.04,-1.39 0.00,2.13" fill="#fff" stroke="#ff00ff" stroke-width="1.0"/><polygon points="-0.96,0.46 -2.04,-1.39 2.04,-1.39 0.96,0.46" fill="#ff00ff"/></g>
<g transform="translate(407.2,118.9)"><polygon points="-2.04,-1.39 2.04,-1.39 0.00,2.13" fill="#fff" stroke="#ff00ff" stroke-width="1.0"/><polygon points="-0.96,0.46 -2.04,-1.39 2.04,-1.39 0.96,0.46" fill="#ff00ff"/></g>
<g transform="translate(415.1,120.8)"><polygon points="-2.04,-1.39 2.04,-1.39 0.00,2.13" fill="#fff" stroke="#ff00ff" stroke-width="1.0"/><polygon points="-0.96,0.46 -2.04,-1.39 2.04,-1.39 0.96,0.46" fill="#ff00ff"/></g>
<g transform="translate(423.0,122.6)"><polygon points="-2.04,-1.39 2.04,-1.39 0.00,2.13" fill="#fff" stroke="#ff00ff" stroke-width="1.0"/><polygon points="-0.96,0.46 -2.04,-1.39 2.04,-1.39 0.96,0.46" fill="#ff00ff"/></g>
<g transform="translate(431.1,124.4)"><polygon points="-2.04,-1.39 2.04,-1.39 0.00,2.13" fill="#fff" stroke="#ff00ff" stroke-width="1.0"/><polygon points="-0.96,0.46 -2.04,-1.39 2.04,-1.39 0.96,0.46" fill="#ff00ff"/></g>
<g transform="translate(438.7,127.9)"><polygon points="-2.04,-1.39 2.04,-1.39 0.00,2.13" fill="#fff" stroke="#ff00ff" stroke-width="1.0"/><polygon points="-0.96,0.46 -2.04,-1.39 2.04,-1.39 0.96,0.46" fill="#ff00ff"/></g>
<g transform="translate(447.1,132.2)"><polygon points="-2.04,-1.39 2.04,-1.39 0.00,2.13" fill="#fff" stroke="#ff00ff" stroke-width="1.0"/><polygon points="-0.96,0.46 -2.04,-1.39 2.04,-1.39 0.96,0.46" fill="#ff00ff"/></g>
<g transform="translate(454.4,136.1)"><polygon points="-2.04,-1.39 2.04,-1.39 0.00,2.13" fill="#fff" stroke="#ff00ff" stroke-width="1.0"/><polygon points="-0.96,0.46 -2.04,-1.39 2.04,-1.39 0.96,0.46" fill="#ff00ff"/></g>
<g transform="translate(462.0,141.5)"><polygon points="-2.04,-1.39 2.04,-1.39 0.00,2.13" fill="#fff" stroke="#ff00ff" stroke-width="1.0"/><polygon points="-0.96,0.46 -2.04,-1.39 2.04,-1.39 0.96,0.46" fill="#ff00ff"/></g>
<g transform="translate(469.6,149.9)"><polygon points="-2.04,-1.39 2.04,-1.39 0.00,2.13" fill="#fff" stroke="#ff00ff" stroke-width="1.0"/><polygon points="-0.96,0.46 -2.04,-1.39 2.04,-1.39 0.96,0.46" fill="#ff00ff"/></g>
<g transform="translate(477.2,163.4)"><polygon points="-2.04,-1.39 2.04,-1.39 0.00,2.13" fill="#fff" stroke="#ff00ff" stroke-width="1.0"/><polygon points="-0.96,0.46 -2.04,-1.39 2.04,-1.39 0.96,0.46" fill="#ff00ff"/></g>
<g transform="translate(484.4,177.8)"><polygon points="-2.04,-1.39 2.04,-1.39 0.00,2.13" fill="#fff" stroke="#ff00ff" stroke-width="1.0"/><polygon points="-0.96,0.46 -2.04,-1.39 2.04,-1.39 0.96,0.46" fill="#ff00ff"/></g>
<g transform="translate(491.5,190.5)"><polygon points="-2.04,-1.39 2.04,-1.39 0.00,2.13" fill="#fff" stroke="#ff00ff" stroke-width="1.0"/><polygon points="-0.96,0.46 -2.04,-1.39 2.04,-1.39 0.96,0.46" fill="#ff00ff"/></g>
<g transform="translate(499.0,199.6)"><polygon points="-2.04,-1.39 2.04,-1.39 0.00,2.13" fill="#fff" stroke="#ff00ff" stroke-width="1.0"/><polygon points="-0.96,0.46 -2.04,-1.39 2.04,-1.39 0.96,0.46" fill="#ff00ff"/></g>
<g transform="translate(507.0,204.7)"><polygon points="-2.04,-1.39 2.04,-1.39 0.00,2.13" fill="#fff" stroke="#ff00ff" stroke-width="1.0"/><polygon points="-0.96,0.46 -2.04,-1.39 2.04,-1.39 0.96,0.46" fill="#ff00ff"/></g>
<g transform="translate(525.6,65.7)"><polygon points="-2.04,-1.39 2.04,-1.39 0.00,2.13" fill="#fff" stroke="#ff00ff" stroke-width="1.0"/><polygon points="-0.96,0.46 -2.04,-1.39 2.04,-1.39 0.96,0.46" fill="#ff00ff"/></g>
<g transform="translate(536.5,104.4)"><polygon points="-2.04,-1.39 2.04,-1.39 0.00,2.13" fill="#fff" stroke="#ff00ff" stroke-width="1.0"/><polygon points="-0.96,0.46 -2.04,-1.39 2.04,-1.39 0.96,0.46" fill="#ff00ff"/></g>
<g transform="translate(546.2,192.0)"><polygon points="-2.04,-1.39 2.04,-1.39 0.00,2.13" fill="#fff" stroke="#ff00ff" stroke-width="1.0"/><polygon points="-0.96,0.46 -2.04,-1.39 2.04,-1.39 0.96,0.46" fill="#ff00ff"/></g>
<g transform="translate(555.3,209.7)"><polygon points="-2.04,-1.39 2.04,-1.39 0.00,2.13" fill="#fff" stroke="#ff00ff" stroke-width="1.0"/><polygon points="-0.96,0.46 -2.04,-1.39 2.04,-1.39 0.96,0.46" fill="#ff00ff"/></g>
<g transform="translate(566.0,213.1)"><polygon points="-2.04,-1.39 2.04,-1.39 0.00,2.13" fill="#fff" stroke="#ff00ff" stroke-width="1.0"/><polygon points="-0.96,0.46 -2.04,-1.39 2.04,-1.39 0.96,0.46" fill="#ff00ff"/></g>
<g transform="translate(576.0,214.8)"><polygon points="-2.04,-1.39 2.04,-1.39 0.00,2.13" fill="#fff" stroke="#ff00ff" stroke-width="1.0"/><polygon points="-0.96,0.46 -2.04,-1.39 2.04,-1.39 0.96,0.46" fill="#ff00ff"/></g>
<polyline points="378.70,134.40 379.11,134.46 380.25,134.62 381.99,134.86 384.19,135.17 386.74,135.53 389.49,135.93 392.32,136.34 395.11,136.75 397.71,137.14 400.00,137.50 402.06,137.83 404.15,138.18 406.27,138.54 408.38,138.90 410.47,139.27 412.53,139.63 414.53,139.99 416.45,140.34 418.28,140.68 420.00,141.00 421.14,141.22 422.22,141.42 423.24,141.63 424.23,141.82 425.19,142.02 426.14,142.21 427.08,142.40 428.03,142.60 429.00,142.80 430.00,143.00 431.06,143.21 432.14,143.42 433.21,143.63 434.30,143.83 435.38,144.04 436.47,144.26 437.56,144.48 438.64,144.71 439.72,144.95 440.80,145.20 441.88,145.46 442.96,145.74 444.04,146.02 445.12,146.30 446.20,146.60 447.28,146.90 448.34,147.21 449.41,147.53 450.46,147.86 451.50,148.20 452.50,148.52 453.51,148.84 454.52,149.16 455.52,149.48 456.52,149.81 457.50,150.17 458.46,150.55 459.40,150.96 460.32,151.41 461.20,151.90 462.04,152.42 462.85,152.97 463.65,153.54 464.43,154.14 465.18,154.77 465.92,155.43 466.64,156.12 467.34,156.85 468.03,157.60 468.70,158.40 469.45,159.39 470.17,160.45 470.86,161.58 471.53,162.76 472.18,163.97 472.81,165.20 473.42,166.43 474.02,167.65 474.61,168.85 475.20,170.00 475.72,171.03 476.22,172.07 476.71,173.11 477.18,174.14 477.65,175.16 478.11,176.17 478.57,177.17 479.04,178.14 479.51,179.08 480.00,180.00 480.43,180.75 480.85,181.47 481.28,182.15 481.70,182.82 482.13,183.48 482.57,184.14 483.01,184.81 483.46,185.50 483.92,186.23 484.40,187.00 485.03,188.07 485.67,189.21 486.32,190.40 486.99,191.63 487.67,192.89 488.36,194.14 489.07,195.38 489.80,196.58 490.54,197.72 491.30,198.80 491.99,199.73 492.70,200.66 493.41,201.58 494.14,202.48 494.88,203.35 495.63,204.18 496.40,204.95 497.19,205.67 497.98,206.33 498.80,206.90 499.51,207.33 500.26,207.73 501.02,208.08 501.79,208.40 502.57,208.68 503.35,208.91 504.12,209.10 504.88,209.25 505.60,209.35 506.30,209.40 506.85,209.42 507.40,209.42 507.95,209.39 508.49,209.34 509.02,209.26 509.53,209.14 510.02,208.98 510.48,208.77 510.91,208.51 511.30,208.20 511.75,207.70 512.13,207.10 512.45,206.41 512.73,205.65 512.98,204.81 513.19,203.92 513.39,202.98 513.59,202.01 513.79,201.01 514.00,200.00 514.32,198.40 514.62,196.69 514.88,194.88 515.13,192.98 515.35,191.00 515.56,188.93 515.75,186.80 515.94,184.59 516.12,182.32 516.30,180.00 516.53,176.53 516.73,172.79 516.90,168.83 517.04,164.72 517.17,160.50 517.29,156.25 517.41,152.01 517.52,147.85 517.65,143.83 517.80,140.00 517.93,136.80 518.07,133.65 518.20,130.54 518.33,127.47 518.46,124.44 518.60,121.46 518.74,118.52 518.89,115.63 519.04,112.79 519.20,110.00 519.34,107.62 519.49,105.25 519.65,102.89 519.81,100.57 519.97,98.28 520.13,96.05 520.30,93.90 520.46,91.83 520.63,89.86 520.80,88.00 520.91,86.78 521.02,85.62 521.12,84.50 521.22,83.41 521.33,82.37 521.44,81.35 521.56,80.36 521.69,79.40 521.84,78.44 522.00,77.50 522.15,76.72 522.30,75.94 522.45,75.17 522.61,74.41 522.78,73.67 522.97,72.96 523.16,72.28 523.36,71.64 523.57,71.04 523.80,70.50 523.96,70.15 524.12,69.80 524.30,69.45 524.47,69.11 524.65,68.79 524.84,68.51 525.02,68.27 525.21,68.08 525.41,67.95 525.60,67.90 525.79,67.92 525.98,68.00 526.18,68.15 526.39,68.33 526.59,68.56 526.80,68.82 527.00,69.10 527.20,69.40 527.40,69.70 527.60,70.00 527.92,70.52 528.23,71.10 528.55,71.73 528.86,72.41 529.17,73.13 529.47,73.89 529.77,74.68 530.05,75.50 530.33,76.34 530.60,77.20 530.95,78.44 531.28,79.75 531.59,81.13 531.89,82.56 532.17,84.04 532.44,85.57 532.71,87.14 532.97,88.74 533.23,90.36 533.50,92.00 533.83,94.07 534.16,96.19 534.48,98.37 534.79,100.59 535.10,102.87 535.39,105.20 535.68,107.58 535.97,110.00 536.24,112.48 536.50,115.00 536.80,118.21 537.09,121.57 537.35,125.04 537.60,128.60 537.84,132.21 538.07,135.84 538.30,139.47 538.53,143.05 538.76,146.58 539.00,150.00 539.22,153.12 539.44,156.26 539.65,159.39 539.86,162.50 540.07,165.57 540.28,168.61 540.50,171.58 540.72,174.48 540.96,177.29 541.20,180.00 541.39,182.11 541.56,184.20 541.73,186.25 541.89,188.27 542.07,190.24 542.26,192.14 542.48,193.98 542.74,195.75 543.04,197.42 543.40,199.00 543.68,200.07 543.98,201.09 544.30,202.08 544.63,203.03 544.98,203.94 545.35,204.81 545.74,205.66 546.14,206.47 546.56,207.25 547.00,208.00 547.37,208.60 547.74,209.19 548.11,209.76 548.49,210.30 548.89,210.83 549.31,211.32 549.76,211.79 550.23,212.23 550.75,212.63 551.30,213.00 551.99,213.37 552.73,213.68 553.50,213.94 554.31,214.15 555.17,214.32 556.06,214.47 556.99,214.61 557.96,214.73 558.96,214.86 560.00,215.00 561.65,215.20 563.41,215.36 565.27,215.49 567.23,215.60 569.26,215.68 571.34,215.75 573.48,215.81 575.64,215.87 577.82,215.93 580.00,216.00 582.90,216.09 586.29,216.16 589.97,216.24 593.77,216.30 597.49,216.36 600.95,216.41 603.97,216.45 606.36,216.48 607.93,216.49 608.50,216.50" fill="none" stroke="#ffff00" stroke-width="1.3" stroke-linejoin="round"/>
<g transform="translate(392.3,136.3)"><circle r="1.85" fill="#fff" stroke="#ffff00" stroke-width="1.0"/><path d="M-1.85,0 A1.85,1.85 0 0 1 1.85,0 Z" fill="#ffff00"/></g>
<g transform="translate(400.0,137.5)"><circle r="1.85" fill="#fff" stroke="#ffff00" stroke-width="1.0"/><path d="M-1.85,0 A1.85,1.85 0 0 1 1.85,0 Z" fill="#ffff00"/></g>
<g transform="translate(406.3,138.5)"><circle r="1.85" fill="#fff" stroke="#ffff00" stroke-width="1.0"/><path d="M-1.85,0 A1.85,1.85 0 0 1 1.85,0 Z" fill="#ffff00"/></g>
<g transform="translate(414.5,140.0)"><circle r="1.85" fill="#fff" stroke="#ffff00" stroke-width="1.0"/><path d="M-1.85,0 A1.85,1.85 0 0 1 1.85,0 Z" fill="#ffff00"/></g>
<g transform="translate(422.2,141.4)"><circle r="1.85" fill="#fff" stroke="#ffff00" stroke-width="1.0"/><path d="M-1.85,0 A1.85,1.85 0 0 1 1.85,0 Z" fill="#ffff00"/></g>
<g transform="translate(430.0,143.0)"><circle r="1.85" fill="#fff" stroke="#ffff00" stroke-width="1.0"/><path d="M-1.85,0 A1.85,1.85 0 0 1 1.85,0 Z" fill="#ffff00"/></g>
<g transform="translate(437.6,144.5)"><circle r="1.85" fill="#fff" stroke="#ffff00" stroke-width="1.0"/><path d="M-1.85,0 A1.85,1.85 0 0 1 1.85,0 Z" fill="#ffff00"/></g>
<g transform="translate(446.2,146.6)"><circle r="1.85" fill="#fff" stroke="#ffff00" stroke-width="1.0"/><path d="M-1.85,0 A1.85,1.85 0 0 1 1.85,0 Z" fill="#ffff00"/></g>
<g transform="translate(453.5,148.8)"><circle r="1.85" fill="#fff" stroke="#ffff00" stroke-width="1.0"/><path d="M-1.85,0 A1.85,1.85 0 0 1 1.85,0 Z" fill="#ffff00"/></g>
<g transform="translate(461.2,151.9)"><circle r="1.85" fill="#fff" stroke="#ffff00" stroke-width="1.0"/><path d="M-1.85,0 A1.85,1.85 0 0 1 1.85,0 Z" fill="#ffff00"/></g>
<g transform="translate(469.5,159.4)"><circle r="1.85" fill="#fff" stroke="#ffff00" stroke-width="1.0"/><path d="M-1.85,0 A1.85,1.85 0 0 1 1.85,0 Z" fill="#ffff00"/></g>
<g transform="translate(476.2,172.1)"><circle r="1.85" fill="#fff" stroke="#ffff00" stroke-width="1.0"/><path d="M-1.85,0 A1.85,1.85 0 0 1 1.85,0 Z" fill="#ffff00"/></g>
<g transform="translate(483.5,185.5)"><circle r="1.85" fill="#fff" stroke="#ffff00" stroke-width="1.0"/><path d="M-1.85,0 A1.85,1.85 0 0 1 1.85,0 Z" fill="#ffff00"/></g>
<g transform="translate(491.3,198.8)"><circle r="1.85" fill="#fff" stroke="#ffff00" stroke-width="1.0"/><path d="M-1.85,0 A1.85,1.85 0 0 1 1.85,0 Z" fill="#ffff00"/></g>
<g transform="translate(498.8,206.9)"><circle r="1.85" fill="#fff" stroke="#ffff00" stroke-width="1.0"/><path d="M-1.85,0 A1.85,1.85 0 0 1 1.85,0 Z" fill="#ffff00"/></g>
<g transform="translate(506.3,209.4)"><circle r="1.85" fill="#fff" stroke="#ffff00" stroke-width="1.0"/><path d="M-1.85,0 A1.85,1.85 0 0 1 1.85,0 Z" fill="#ffff00"/></g>
<g transform="translate(525.6,67.9)"><circle r="1.85" fill="#fff" stroke="#ffff00" stroke-width="1.0"/><path d="M-1.85,0 A1.85,1.85 0 0 1 1.85,0 Z" fill="#ffff00"/></g>
<g transform="translate(543.4,201.8)"><circle r="1.85" fill="#fff" stroke="#ffff00" stroke-width="1.0"/><path d="M-1.85,0 A1.85,1.85 0 0 1 1.85,0 Z" fill="#ffff00"/></g>
<g transform="translate(551.3,213.0)"><circle r="1.85" fill="#fff" stroke="#ffff00" stroke-width="1.0"/><path d="M-1.85,0 A1.85,1.85 0 0 1 1.85,0 Z" fill="#ffff00"/></g>
<polyline points="378.70,149.90 379.11,149.95 380.25,150.08 381.99,150.28 384.19,150.54 386.74,150.84 389.49,151.18 392.32,151.52 395.11,151.87 397.71,152.20 400.00,152.50 402.06,152.79 404.15,153.09 406.27,153.40 408.38,153.72 410.47,154.04 412.53,154.35 414.53,154.66 416.45,154.96 418.28,155.24 420.00,155.50 421.14,155.67 422.21,155.83 423.24,155.97 424.23,156.12 425.19,156.26 426.14,156.40 427.08,156.54 428.03,156.68 429.00,156.84 430.00,157.00 431.06,157.18 432.14,157.37 433.21,157.56 434.30,157.76 435.38,157.96 436.47,158.16 437.55,158.37 438.64,158.58 439.72,158.79 440.80,159.00 441.88,159.21 442.96,159.44 444.05,159.66 445.14,159.89 446.23,160.12 447.31,160.35 448.38,160.57 449.43,160.79 450.48,161.00 451.50,161.20 452.40,161.36 453.28,161.50 454.16,161.62 455.02,161.74 455.87,161.86 456.72,161.98 457.57,162.12 458.41,162.28 459.26,162.47 460.10,162.70 460.98,162.97 461.88,163.27 462.78,163.60 463.67,163.95 464.56,164.31 465.44,164.70 466.30,165.09 467.13,165.49 467.94,165.89 468.70,166.30 469.31,166.64 469.91,166.98 470.49,167.32 471.05,167.67 471.59,168.02 472.12,168.39 472.64,168.77 473.14,169.16 473.63,169.57 474.10,170.00 474.55,170.44 474.98,170.90 475.38,171.37 475.78,171.85 476.16,172.34 476.53,172.85 476.90,173.37 477.26,173.91 477.63,174.45 478.00,175.00 478.42,175.63 478.82,176.26 479.22,176.91 479.61,177.56 480.00,178.24 480.39,178.93 480.79,179.65 481.18,180.40 481.59,181.18 482.00,182.00 482.58,183.23 483.15,184.56 483.73,185.98 484.31,187.45 484.90,188.97 485.51,190.50 486.14,192.02 486.79,193.51 487.48,194.94 488.20,196.30 488.91,197.55 489.63,198.81 490.36,200.06 491.12,201.30 491.90,202.51 492.71,203.67 493.55,204.78 494.43,205.81 495.34,206.76 496.30,207.60 497.20,208.28 498.17,208.93 499.19,209.53 500.24,210.08 501.30,210.58 502.36,211.00 503.41,211.36 504.43,211.63 505.40,211.81 506.30,211.90 506.94,211.91 507.58,211.88 508.21,211.80 508.83,211.69 509.43,211.53 510.00,211.32 510.55,211.07 511.07,210.76 511.56,210.41 512.00,210.00 512.51,209.37 512.95,208.62 513.32,207.78 513.63,206.84 513.90,205.83 514.14,204.76 514.36,203.62 514.57,202.44 514.78,201.23 515.00,200.00 515.33,197.99 515.62,195.81 515.86,193.48 516.06,191.03 516.24,188.49 516.40,185.86 516.55,183.17 516.69,180.46 516.84,177.72 517.00,175.00 517.19,171.74 517.37,168.38 517.54,164.93 517.70,161.43 517.85,157.87 518.00,154.28 518.15,150.69 518.29,147.09 518.44,143.53 518.60,140.00 518.76,136.45 518.90,132.81 519.05,129.14 519.19,125.44 519.33,121.78 519.48,118.17 519.64,114.65 519.81,111.26 520.00,108.03 520.20,105.00 520.35,102.92 520.51,100.90 520.67,98.93 520.83,97.02 521.00,95.17 521.18,93.39 521.37,91.67 521.56,90.04 521.78,88.48 522.00,87.00 522.15,86.04 522.31,85.11 522.46,84.20 522.62,83.33 522.78,82.49 522.96,81.69 523.14,80.94 523.34,80.24 523.56,79.59 523.80,79.00 523.96,78.65 524.12,78.31 524.29,77.97 524.47,77.64 524.65,77.34 524.84,77.07 525.03,76.84 525.22,76.67 525.41,76.55 525.60,76.50 525.78,76.52 525.97,76.59 526.17,76.72 526.37,76.89 526.56,77.10 526.76,77.34 526.95,77.61 527.14,77.90 527.33,78.20 527.50,78.50 527.81,79.14 528.09,79.90 528.35,80.75 528.60,81.69 528.83,82.69 529.06,83.73 529.29,84.80 529.52,85.88 529.75,86.95 530.00,88.00 530.30,89.21 530.60,90.44 530.90,91.69 531.21,92.96 531.52,94.26 531.82,95.57 532.12,96.90 532.42,98.25 532.71,99.62 533.00,101.00 533.32,102.59 533.64,104.18 533.96,105.80 534.28,107.44 534.59,109.10 534.90,110.80 535.19,112.53 535.47,114.30 535.74,116.13 536.00,118.00 536.30,120.43 536.57,122.94 536.83,125.52 537.06,128.17 537.28,130.88 537.49,133.64 537.70,136.44 537.90,139.27 538.10,142.13 538.30,145.00 538.52,148.36 538.71,151.87 538.89,155.47 539.06,159.14 539.23,162.83 539.40,166.49 539.59,170.08 539.80,173.56 540.03,176.88 540.30,180.00 540.51,182.27 540.69,184.50 540.88,186.69 541.07,188.82 541.27,190.89 541.51,192.89 541.79,194.81 542.12,196.64 542.52,198.38 543.00,200.00 543.38,201.10 543.78,202.16 544.20,203.18 544.64,204.15 545.11,205.08 545.61,205.96 546.15,206.80 546.72,207.58 547.34,208.32 548.00,209.00 548.66,209.58 549.35,210.10 550.08,210.57 550.84,210.99 551.63,211.38 552.45,211.73 553.30,212.06 554.17,212.38 555.07,212.69 556.00,213.00 557.19,213.37 558.41,213.70 559.66,214.00 560.95,214.26 562.28,214.50 563.68,214.72 565.14,214.93 566.68,215.12 568.29,215.31 570.00,215.50 573.42,215.80 577.70,216.06 582.56,216.28 587.71,216.48 592.85,216.64 597.71,216.77 601.99,216.87 605.41,216.94 607.68,216.99 608.50,217.00" fill="none" stroke="#000080" stroke-width="1.3" stroke-linejoin="round"/>
<g transform="translate(392.3,151.5)"><polygon points="-2.13,0.00 1.39,-2.04 1.39,2.04" fill="#fff" stroke="#000080" stroke-width="1.0"/><polygon points="0.00,1.23 0.00,-1.23 1.39,-2.04 1.39,2.04" fill="#000080"/></g>
<g transform="translate(400.0,152.5)"><polygon points="-2.13,0.00 1.39,-2.04 1.39,2.04" fill="#fff" stroke="#000080" stroke-width="1.0"/><polygon points="0.00,1.23 0.00,-1.23 1.39,-2.04 1.39,2.04" fill="#000080"/></g>
<g transform="translate(408.4,153.7)"><polygon points="-2.13,0.00 1.39,-2.04 1.39,2.04" fill="#fff" stroke="#000080" stroke-width="1.0"/><polygon points="0.00,1.23 0.00,-1.23 1.39,-2.04 1.39,2.04" fill="#000080"/></g>
<g transform="translate(416.4,155.0)"><polygon points="-2.13,0.00 1.39,-2.04 1.39,2.04" fill="#fff" stroke="#000080" stroke-width="1.0"/><polygon points="0.00,1.23 0.00,-1.23 1.39,-2.04 1.39,2.04" fill="#000080"/></g>
<g transform="translate(424.2,156.1)"><polygon points="-2.13,0.00 1.39,-2.04 1.39,2.04" fill="#fff" stroke="#000080" stroke-width="1.0"/><polygon points="0.00,1.23 0.00,-1.23 1.39,-2.04 1.39,2.04" fill="#000080"/></g>
<g transform="translate(432.1,157.4)"><polygon points="-2.13,0.00 1.39,-2.04 1.39,2.04" fill="#fff" stroke="#000080" stroke-width="1.0"/><polygon points="0.00,1.23 0.00,-1.23 1.39,-2.04 1.39,2.04" fill="#000080"/></g>
<g transform="translate(439.7,158.8)"><polygon points="-2.13,0.00 1.39,-2.04 1.39,2.04" fill="#fff" stroke="#000080" stroke-width="1.0"/><polygon points="0.00,1.23 0.00,-1.23 1.39,-2.04 1.39,2.04" fill="#000080"/></g>
<g transform="translate(447.3,160.3)"><polygon points="-2.13,0.00 1.39,-2.04 1.39,2.04" fill="#fff" stroke="#000080" stroke-width="1.0"/><polygon points="0.00,1.23 0.00,-1.23 1.39,-2.04 1.39,2.04" fill="#000080"/></g>
<g transform="translate(455.9,161.9)"><polygon points="-2.13,0.00 1.39,-2.04 1.39,2.04" fill="#fff" stroke="#000080" stroke-width="1.0"/><polygon points="0.00,1.23 0.00,-1.23 1.39,-2.04 1.39,2.04" fill="#000080"/></g>
<g transform="translate(463.7,163.9)"><polygon points="-2.13,0.00 1.39,-2.04 1.39,2.04" fill="#fff" stroke="#000080" stroke-width="1.0"/><polygon points="0.00,1.23 0.00,-1.23 1.39,-2.04 1.39,2.04" fill="#000080"/></g>
<g transform="translate(471.0,167.7)"><polygon points="-2.13,0.00 1.39,-2.04 1.39,2.04" fill="#fff" stroke="#000080" stroke-width="1.0"/><polygon points="0.00,1.23 0.00,-1.23 1.39,-2.04 1.39,2.04" fill="#000080"/></g>
<g transform="translate(478.4,175.6)"><polygon points="-2.13,0.00 1.39,-2.04 1.39,2.04" fill="#fff" stroke="#000080" stroke-width="1.0"/><polygon points="0.00,1.23 0.00,-1.23 1.39,-2.04 1.39,2.04" fill="#000080"/></g>
<g transform="translate(486.1,192.0)"><polygon points="-2.13,0.00 1.39,-2.04 1.39,2.04" fill="#fff" stroke="#000080" stroke-width="1.0"/><polygon points="0.00,1.23 0.00,-1.23 1.39,-2.04 1.39,2.04" fill="#000080"/></g>
<g transform="translate(493.6,204.8)"><polygon points="-2.13,0.00 1.39,-2.04 1.39,2.04" fill="#fff" stroke="#000080" stroke-width="1.0"/><polygon points="0.00,1.23 0.00,-1.23 1.39,-2.04 1.39,2.04" fill="#000080"/></g>
<g transform="translate(501.3,210.6)"><polygon points="-2.13,0.00 1.39,-2.04 1.39,2.04" fill="#fff" stroke="#000080" stroke-width="1.0"/><polygon points="0.00,1.23 0.00,-1.23 1.39,-2.04 1.39,2.04" fill="#000080"/></g>
<g transform="translate(508.8,211.7)"><polygon points="-2.13,0.00 1.39,-2.04 1.39,2.04" fill="#fff" stroke="#000080" stroke-width="1.0"/><polygon points="0.00,1.23 0.00,-1.23 1.39,-2.04 1.39,2.04" fill="#000080"/></g>
<g transform="translate(525.6,76.5)"><polygon points="-2.13,0.00 1.39,-2.04 1.39,2.04" fill="#fff" stroke="#000080" stroke-width="1.0"/><polygon points="0.00,1.23 0.00,-1.23 1.39,-2.04 1.39,2.04" fill="#000080"/></g>
<polyline points="378.70,161.20 378.89,161.22 379.41,161.29 380.21,161.39 381.24,161.51 382.44,161.66 383.74,161.82 385.11,162.00 386.48,162.17 387.79,162.34 389.00,162.50 390.43,162.69 391.92,162.90 393.45,163.12 395.02,163.35 396.62,163.58 398.23,163.81 399.83,164.04 401.42,164.27 402.98,164.49 404.50,164.70 405.89,164.89 407.26,165.07 408.63,165.25 409.98,165.43 411.32,165.60 412.66,165.77 414.00,165.95 415.33,166.13 416.67,166.31 418.00,166.50 419.32,166.69 420.66,166.88 422.00,167.07 423.34,167.26 424.67,167.46 425.99,167.66 427.29,167.86 428.56,168.07 429.80,168.28 431.00,168.50 431.97,168.69 432.90,168.89 433.81,169.10 434.70,169.31 435.57,169.52 436.44,169.73 437.31,169.93 438.19,170.13 439.09,170.32 440.00,170.50 440.98,170.67 441.96,170.84 442.96,170.99 443.96,171.14 444.96,171.29 445.97,171.43 446.98,171.57 447.99,171.71 449.00,171.85 450.00,172.00 451.00,172.14 452.00,172.27 453.01,172.39 454.01,172.51 455.01,172.63 456.02,172.76 457.02,172.91 458.01,173.08 459.01,173.27 460.00,173.50 461.02,173.76 462.04,174.03 463.07,174.32 464.10,174.63 465.13,174.96 466.14,175.31 467.14,175.69 468.12,176.09 469.07,176.53 470.00,177.00 470.87,177.49 471.73,178.00 472.57,178.54 473.39,179.10 474.19,179.69 474.98,180.31 475.76,180.95 476.52,181.61 477.26,182.29 478.00,183.00 478.77,183.79 479.53,184.63 480.27,185.51 480.99,186.42 481.70,187.35 482.39,188.29 483.07,189.23 483.73,190.17 484.37,191.10 485.00,192.00 485.55,192.81 486.06,193.61 486.55,194.40 487.02,195.20 487.48,195.99 487.95,196.79 488.42,197.58 488.92,198.38 489.44,199.19 490.00,200.00 490.67,200.95 491.35,201.95 492.05,202.99 492.77,204.03 493.52,205.06 494.28,206.06 495.07,207.02 495.89,207.91 496.73,208.71 497.60,209.40 498.40,209.93 499.24,210.42 500.12,210.87 501.02,211.26 501.94,211.61 502.85,211.91 503.75,212.16 504.64,212.36 505.49,212.51 506.30,212.60 506.93,212.64 507.55,212.66 508.18,212.65 508.79,212.61 509.39,212.53 509.97,212.42 510.53,212.26 511.06,212.06 511.55,211.81 512.00,211.50 512.45,211.09 512.85,210.61 513.20,210.07 513.52,209.47 513.80,208.82 514.06,208.12 514.31,207.38 514.54,206.61 514.77,205.82 515.00,205.00 515.33,203.67 515.62,202.23 515.86,200.70 516.07,199.08 516.25,197.38 516.41,195.61 516.56,193.78 516.70,191.90 516.85,189.97 517.00,188.00 517.21,185.16 517.40,182.15 517.57,179.00 517.72,175.74 517.86,172.38 517.99,168.95 518.12,165.48 518.24,161.98 518.37,158.48 518.50,155.00 518.64,151.07 518.76,146.96 518.86,142.71 518.97,138.41 519.07,134.11 519.18,129.88 519.30,125.79 519.44,121.91 519.60,118.29 519.80,115.00 519.94,113.07 520.08,111.22 520.22,109.44 520.38,107.73 520.54,106.09 520.71,104.53 520.89,103.04 521.08,101.62 521.28,100.27 521.50,99.00 521.65,98.21 521.79,97.45 521.94,96.72 522.10,96.02 522.26,95.35 522.42,94.71 522.60,94.10 522.79,93.53 522.99,93.00 523.20,92.50 523.35,92.18 523.50,91.86 523.66,91.54 523.83,91.23 523.99,90.94 524.17,90.69 524.34,90.47 524.52,90.29 524.71,90.16 524.90,90.10 525.08,90.10 525.26,90.14 525.45,90.23 525.65,90.35 525.85,90.50 526.05,90.68 526.24,90.87 526.43,91.08 526.62,91.29 526.80,91.50 527.05,91.83 527.29,92.19 527.52,92.59 527.74,93.02 527.96,93.48 528.17,93.95 528.38,94.45 528.59,94.96 528.79,95.48 529.00,96.00 529.27,96.69 529.53,97.41 529.78,98.16 530.03,98.94 530.28,99.73 530.53,100.55 530.77,101.39 531.01,102.24 531.26,103.12 531.50,104.00 531.80,105.11 532.11,106.24 532.42,107.40 532.72,108.59 533.03,109.81 533.33,111.05 533.61,112.32 533.89,113.62 534.15,114.95 534.40,116.30 534.68,117.99 534.93,119.71 535.16,121.47 535.38,123.27 535.58,125.12 535.77,127.01 535.95,128.94 536.13,130.91 536.32,132.93 536.50,135.00 536.73,137.72 536.94,140.59 537.15,143.56 537.34,146.62 537.53,149.73 537.72,152.86 537.91,155.98 538.10,159.06 538.30,162.08 538.50,165.00 538.69,167.62 538.87,170.25 539.04,172.87 539.22,175.47 539.40,178.05 539.59,180.57 539.79,183.05 540.01,185.45 540.24,187.77 540.50,190.00 540.70,191.69 540.87,193.35 541.04,194.99 541.21,196.59 541.40,198.15 541.62,199.66 541.88,201.10 542.18,202.48 542.55,203.78 543.00,205.00 543.38,205.87 543.78,206.70 544.21,207.50 544.66,208.26 545.14,208.98 545.65,209.66 546.19,210.31 546.76,210.91 547.37,211.48 548.00,212.00 548.67,212.47 549.37,212.88 550.10,213.24 550.86,213.56 551.65,213.85 552.47,214.11 553.32,214.34 554.19,214.57 555.08,214.78 556.00,215.00 557.20,215.26 558.42,215.48 559.67,215.67 560.96,215.82 562.30,215.96 563.70,216.08 565.15,216.18 566.69,216.29 568.30,216.39 570.00,216.50 573.42,216.68 577.71,216.85 582.57,217.00 587.71,217.13 592.86,217.24 597.72,217.33 602.00,217.40 605.41,217.46 607.68,217.49 608.50,217.50" fill="none" stroke="#008000" stroke-width="1.3" stroke-linejoin="round"/>
<g transform="translate(390.4,162.7)"><circle r="1.85" fill="#008000" stroke="#008000" stroke-width="1.0"/></g>
<g transform="translate(399.8,164.0)"><circle r="1.85" fill="#008000" stroke="#008000" stroke-width="1.0"/></g>
<g transform="translate(407.3,165.1)"><circle r="1.85" fill="#008000" stroke="#008000" stroke-width="1.0"/></g>
<g transform="translate(415.3,166.1)"><circle r="1.85" fill="#008000" stroke="#008000" stroke-width="1.0"/></g>
<g transform="translate(423.3,167.3)"><circle r="1.85" fill="#008000" stroke="#008000" stroke-width="1.0"/></g>
<g transform="translate(431.0,168.5)"><circle r="1.85" fill="#008000" stroke="#008000" stroke-width="1.0"/></g>
<g transform="translate(438.2,170.1)"><circle r="1.85" fill="#008000" stroke="#008000" stroke-width="1.0"/></g>
<g transform="translate(446.0,171.4)"><circle r="1.85" fill="#008000" stroke="#008000" stroke-width="1.0"/></g>
<g transform="translate(454.0,172.5)"><circle r="1.85" fill="#008000" stroke="#008000" stroke-width="1.0"/></g>
<g transform="translate(462.0,174.0)"><circle r="1.85" fill="#008000" stroke="#008000" stroke-width="1.0"/></g>
<g transform="translate(470.0,177.0)"><circle r="1.85" fill="#008000" stroke="#008000" stroke-width="1.0"/></g>
<g transform="translate(478.0,183.0)"><circle r="1.85" fill="#008000" stroke="#008000" stroke-width="1.0"/></g>
<g transform="translate(485.0,192.0)"><circle r="1.85" fill="#008000" stroke="#008000" stroke-width="1.0"/></g>
<g transform="translate(492.8,204.0)"><circle r="1.85" fill="#008000" stroke="#008000" stroke-width="1.0"/></g>
<g transform="translate(500.1,210.9)"><circle r="1.85" fill="#008000" stroke="#008000" stroke-width="1.0"/></g>
<g transform="translate(508.2,212.6)"><circle r="1.85" fill="#008000" stroke="#008000" stroke-width="1.0"/></g>
<g transform="translate(524.9,90.1)"><circle r="1.85" fill="#008000" stroke="#008000" stroke-width="1.0"/></g>
<g transform="translate(534.4,116.3)"><circle r="1.85" fill="#008000" stroke="#008000" stroke-width="1.0"/></g>
<polyline points="378.70,175.80 379.11,175.84 380.25,175.95 381.99,176.13 384.19,176.35 386.74,176.60 389.49,176.88 392.32,177.17 395.10,177.47 397.71,177.74 400.00,178.00 402.06,178.24 404.15,178.50 406.26,178.76 408.38,179.04 410.47,179.31 412.52,179.57 414.52,179.83 416.45,180.08 418.28,180.30 420.00,180.50 421.12,180.62 422.16,180.73 423.14,180.83 424.08,180.92 425.00,181.00 425.92,181.09 426.86,181.18 427.84,181.27 428.88,181.38 430.00,181.50 431.75,181.69 433.67,181.90 435.72,182.12 437.84,182.35 440.01,182.59 442.17,182.84 444.30,183.10 446.34,183.36 448.25,183.63 450.00,183.90 451.14,184.10 452.22,184.32 453.26,184.54 454.25,184.76 455.22,184.99 456.16,185.22 457.11,185.43 458.05,185.64 459.01,185.83 460.00,186.00 461.01,186.14 462.06,186.23 463.12,186.30 464.18,186.36 465.24,186.42 466.28,186.48 467.28,186.57 468.25,186.70 469.16,186.87 470.00,187.10 470.59,187.31 471.14,187.53 471.67,187.76 472.17,188.01 472.65,188.28 473.12,188.58 473.58,188.89 474.04,189.23 474.52,189.60 475.00,190.00 475.64,190.57 476.27,191.19 476.89,191.87 477.51,192.59 478.13,193.35 478.75,194.14 479.37,194.95 480.01,195.79 480.65,196.64 481.30,197.50 482.12,198.65 482.95,199.92 483.77,201.28 484.61,202.68 485.46,204.09 486.32,205.48 487.20,206.80 488.11,208.02 489.04,209.10 490.00,210.00 490.75,210.57 491.52,211.06 492.30,211.49 493.10,211.87 493.91,212.20 494.72,212.49 495.54,212.76 496.36,213.01 497.18,213.25 498.00,213.50 498.79,213.74 499.60,213.96 500.42,214.18 501.24,214.37 502.05,214.54 502.87,214.69 503.67,214.82 504.47,214.91 505.24,214.97 506.00,215.00 506.65,215.00 507.30,214.99 507.95,214.97 508.60,214.93 509.23,214.86 509.84,214.76 510.43,214.63 510.99,214.46 511.52,214.25 512.00,214.00 512.40,213.73 512.77,213.44 513.11,213.12 513.43,212.77 513.73,212.39 514.01,211.98 514.27,211.54 514.52,211.06 514.77,210.55 515.00,210.00 515.37,208.94 515.67,207.74 515.92,206.42 516.13,204.99 516.30,203.46 516.45,201.87 516.59,200.21 516.72,198.50 516.85,196.76 517.00,195.00 517.21,192.41 517.41,189.62 517.58,186.68 517.73,183.62 517.87,180.48 518.00,177.30 518.13,174.13 518.25,170.99 518.37,167.94 518.50,165.00 518.61,162.36 518.71,159.67 518.80,156.98 518.89,154.29 518.98,151.65 519.07,149.08 519.16,146.60 519.26,144.24 519.37,142.03 519.50,140.00 519.58,138.80 519.66,137.67 519.73,136.58 519.81,135.54 519.89,134.55 519.98,133.59 520.09,132.66 520.20,131.76 520.34,130.87 520.50,130.00 520.64,129.32 520.78,128.66 520.93,128.02 521.09,127.39 521.26,126.77 521.44,126.18 521.63,125.60 521.84,125.05 522.06,124.51 522.30,124.00 522.51,123.58 522.73,123.17 522.95,122.76 523.19,122.36 523.44,121.98 523.69,121.62 523.96,121.28 524.23,120.98 524.51,120.72 524.80,120.50 525.04,120.36 525.29,120.24 525.54,120.14 525.81,120.06 526.07,120.00 526.34,119.95 526.61,119.92 526.88,119.90 527.14,119.90 527.40,119.90 527.65,119.92 527.89,119.95 528.14,120.00 528.38,120.06 528.63,120.13 528.87,120.21 529.11,120.30 529.34,120.40 529.57,120.50 529.80,120.60 530.03,120.70 530.25,120.81 530.48,120.91 530.70,121.02 530.92,121.14 531.14,121.27 531.34,121.42 531.54,121.59 531.73,121.78 531.90,122.00 532.15,122.40 532.36,122.85 532.55,123.36 532.71,123.91 532.86,124.51 533.00,125.15 533.12,125.82 533.25,126.52 533.37,127.25 533.50,128.00 533.71,129.32 533.90,130.76 534.07,132.30 534.22,133.93 534.36,135.65 534.49,137.43 534.62,139.27 534.74,141.15 534.87,143.07 535.00,145.00 535.17,147.67 535.32,150.52 535.46,153.50 535.60,156.58 535.73,159.72 535.87,162.88 536.01,166.03 536.16,169.12 536.32,172.12 536.50,175.00 536.66,177.47 536.80,179.95 536.93,182.44 537.07,184.89 537.22,187.31 537.40,189.66 537.60,191.92 537.85,194.08 538.14,196.11 538.50,198.00 538.76,199.20 539.03,200.35 539.31,201.46 539.60,202.52 539.92,203.53 540.26,204.50 540.63,205.43 541.04,206.33 541.50,207.18 542.00,208.00 542.48,208.69 542.99,209.35 543.54,209.98 544.11,210.59 544.71,211.16 545.33,211.70 545.97,212.20 546.63,212.67 547.31,213.11 548.00,213.50 548.71,213.85 549.44,214.14 550.18,214.39 550.94,214.61 551.73,214.79 552.53,214.95 553.36,215.09 554.22,215.23 555.10,215.36 556.00,215.50 557.21,215.68 558.43,215.82 559.68,215.94 560.98,216.05 562.31,216.13 563.71,216.21 565.16,216.28 566.69,216.35 568.30,216.42 570.00,216.50 573.42,216.64 577.71,216.78 582.57,216.92 587.72,217.05 592.86,217.18 597.72,217.28 602.00,217.37 605.41,217.44 607.68,217.48 608.50,217.50" fill="none" stroke="#800000" stroke-width="1.3" stroke-linejoin="round"/>
<g transform="translate(392.3,177.2)"><polygon points="2.13,0.00 -1.39,-2.04 -1.39,2.04" fill="#fff" stroke="#800000" stroke-width="1.0"/><polygon points="2.13,0.00 2.13,0.00 -1.39,-2.04 -1.39,0.00" fill="#800000"/></g>
<g transform="translate(400.0,178.0)"><polygon points="2.13,0.00 -1.39,-2.04 -1.39,2.04" fill="#fff" stroke="#800000" stroke-width="1.0"/><polygon points="2.13,0.00 2.13,0.00 -1.39,-2.04 -1.39,0.00" fill="#800000"/></g>
<g transform="translate(408.4,179.0)"><polygon points="2.13,0.00 -1.39,-2.04 -1.39,2.04" fill="#fff" stroke="#800000" stroke-width="1.0"/><polygon points="2.13,0.00 2.13,0.00 -1.39,-2.04 -1.39,0.00" fill="#800000"/></g>
<g transform="translate(416.4,180.1)"><polygon points="2.13,0.00 -1.39,-2.04 -1.39,2.04" fill="#fff" stroke="#800000" stroke-width="1.0"/><polygon points="2.13,0.00 2.13,0.00 -1.39,-2.04 -1.39,0.00" fill="#800000"/></g>
<g transform="translate(424.1,180.9)"><polygon points="2.13,0.00 -1.39,-2.04 -1.39,2.04" fill="#fff" stroke="#800000" stroke-width="1.0"/><polygon points="2.13,0.00 2.13,0.00 -1.39,-2.04 -1.39,0.00" fill="#800000"/></g>
<g transform="translate(433.7,181.9)"><polygon points="2.13,0.00 -1.39,-2.04 -1.39,2.04" fill="#fff" stroke="#800000" stroke-width="1.0"/><polygon points="2.13,0.00 2.13,0.00 -1.39,-2.04 -1.39,0.00" fill="#800000"/></g>
<g transform="translate(440.0,182.6)"><polygon points="2.13,0.00 -1.39,-2.04 -1.39,2.04" fill="#fff" stroke="#800000" stroke-width="1.0"/><polygon points="2.13,0.00 2.13,0.00 -1.39,-2.04 -1.39,0.00" fill="#800000"/></g>
<g transform="translate(448.3,183.6)"><polygon points="2.13,0.00 -1.39,-2.04 -1.39,2.04" fill="#fff" stroke="#800000" stroke-width="1.0"/><polygon points="2.13,0.00 2.13,0.00 -1.39,-2.04 -1.39,0.00" fill="#800000"/></g>
<g transform="translate(456.2,185.2)"><polygon points="2.13,0.00 -1.39,-2.04 -1.39,2.04" fill="#fff" stroke="#800000" stroke-width="1.0"/><polygon points="2.13,0.00 2.13,0.00 -1.39,-2.04 -1.39,0.00" fill="#800000"/></g>
<g transform="translate(464.2,186.4)"><polygon points="2.13,0.00 -1.39,-2.04 -1.39,2.04" fill="#fff" stroke="#800000" stroke-width="1.0"/><polygon points="2.13,0.00 2.13,0.00 -1.39,-2.04 -1.39,0.00" fill="#800000"/></g>
<g transform="translate(471.7,187.8)"><polygon points="2.13,0.00 -1.39,-2.04 -1.39,2.04" fill="#fff" stroke="#800000" stroke-width="1.0"/><polygon points="2.13,0.00 2.13,0.00 -1.39,-2.04 -1.39,0.00" fill="#800000"/></g>
<g transform="translate(479.4,195.0)"><polygon points="2.13,0.00 -1.39,-2.04 -1.39,2.04" fill="#fff" stroke="#800000" stroke-width="1.0"/><polygon points="2.13,0.00 2.13,0.00 -1.39,-2.04 -1.39,0.00" fill="#800000"/></g>
<g transform="translate(487.2,206.8)"><polygon points="2.13,0.00 -1.39,-2.04 -1.39,2.04" fill="#fff" stroke="#800000" stroke-width="1.0"/><polygon points="2.13,0.00 2.13,0.00 -1.39,-2.04 -1.39,0.00" fill="#800000"/></g>
<g transform="translate(494.7,212.5)"><polygon points="2.13,0.00 -1.39,-2.04 -1.39,2.04" fill="#fff" stroke="#800000" stroke-width="1.0"/><polygon points="2.13,0.00 2.13,0.00 -1.39,-2.04 -1.39,0.00" fill="#800000"/></g>
<g transform="translate(502.9,214.7)"><polygon points="2.13,0.00 -1.39,-2.04 -1.39,2.04" fill="#fff" stroke="#800000" stroke-width="1.0"/><polygon points="2.13,0.00 2.13,0.00 -1.39,-2.04 -1.39,0.00" fill="#800000"/></g>
<g transform="translate(510.4,214.6)"><polygon points="2.13,0.00 -1.39,-2.04 -1.39,2.04" fill="#fff" stroke="#800000" stroke-width="1.0"/><polygon points="2.13,0.00 2.13,0.00 -1.39,-2.04 -1.39,0.00" fill="#800000"/></g>
<g transform="translate(520.4,130.6)"><polygon points="2.13,0.00 -1.39,-2.04 -1.39,2.04" fill="#fff" stroke="#800000" stroke-width="1.0"/><polygon points="2.13,0.00 2.13,0.00 -1.39,-2.04 -1.39,0.00" fill="#800000"/></g>
<g transform="translate(527.4,119.9)"><polygon points="2.13,0.00 -1.39,-2.04 -1.39,2.04" fill="#fff" stroke="#800000" stroke-width="1.0"/><polygon points="2.13,0.00 2.13,0.00 -1.39,-2.04 -1.39,0.00" fill="#800000"/></g>
<g transform="translate(531.9,122.0)"><polygon points="2.13,0.00 -1.39,-2.04 -1.39,2.04" fill="#fff" stroke="#800000" stroke-width="1.0"/><polygon points="2.13,0.00 2.13,0.00 -1.39,-2.04 -1.39,0.00" fill="#800000"/></g>
<polyline points="378.70,184.60 379.11,184.63 380.25,184.73 381.99,184.88 384.19,185.06 386.74,185.28 389.49,185.52 392.32,185.78 395.10,186.03 397.71,186.27 400.00,186.50 402.06,186.71 404.15,186.94 406.26,187.18 408.38,187.42 410.47,187.67 412.53,187.91 414.53,188.15 416.45,188.38 418.28,188.60 420.00,188.80 421.12,188.93 422.16,189.06 423.14,189.18 424.08,189.30 425.00,189.42 425.92,189.53 426.85,189.65 427.83,189.76 428.88,189.88 430.00,190.00 431.72,190.17 433.56,190.34 435.50,190.51 437.51,190.67 439.57,190.84 441.67,191.02 443.79,191.20 445.89,191.39 447.97,191.59 450.00,191.80 452.06,192.02 454.22,192.22 456.44,192.43 458.66,192.65 460.86,192.87 462.99,193.12 465.01,193.39 466.88,193.69 468.56,194.02 470.00,194.40 470.65,194.61 471.24,194.81 471.77,195.02 472.25,195.24 472.71,195.46 473.15,195.70 473.59,195.96 474.03,196.25 474.50,196.56 475.00,196.90 475.70,197.42 476.41,198.01 477.11,198.66 477.82,199.35 478.55,200.07 479.29,200.82 480.05,201.57 480.83,202.33 481.65,203.08 482.50,203.80 483.60,204.71 484.76,205.68 485.96,206.70 487.21,207.72 488.48,208.74 489.78,209.72 491.09,210.64 492.40,211.47 493.71,212.20 495.00,212.80 496.13,213.21 497.29,213.54 498.47,213.81 499.67,214.02 500.86,214.18 502.03,214.29 503.17,214.37 504.28,214.43 505.32,214.47 506.30,214.50 506.96,214.52 507.60,214.53 508.22,214.54 508.83,214.53 509.41,214.51 509.97,214.47 510.52,214.40 511.04,214.30 511.53,214.17 512.00,214.00 512.37,213.84 512.72,213.67 513.06,213.48 513.38,213.28 513.68,213.06 513.97,212.81 514.25,212.53 514.51,212.22 514.76,211.88 515.00,211.50 515.37,210.74 515.67,209.84 515.92,208.84 516.12,207.74 516.30,206.56 516.44,205.31 516.58,204.02 516.71,202.69 516.85,201.34 517.00,200.00 517.21,198.09 517.40,196.04 517.58,193.89 517.73,191.67 517.88,189.38 518.02,187.07 518.16,184.75 518.30,182.45 518.44,180.19 518.60,178.00 518.75,175.93 518.90,173.82 519.04,171.69 519.18,169.57 519.32,167.47 519.47,165.42 519.63,163.42 519.80,161.51 519.99,159.69 520.20,158.00 520.35,156.89 520.50,155.82 520.65,154.80 520.81,153.81 520.97,152.85 521.14,151.92 521.33,151.03 521.53,150.16 521.76,149.32 522.00,148.50 522.20,147.86 522.41,147.23 522.63,146.60 522.85,145.99 523.09,145.40 523.34,144.84 523.60,144.31 523.88,143.83 524.18,143.39 524.50,143.00 524.75,142.74 525.02,142.50 525.30,142.28 525.59,142.08 525.89,141.90 526.19,141.75 526.50,141.62 526.80,141.52 527.10,141.44 527.40,141.40 527.68,141.39 527.96,141.41 528.24,141.45 528.53,141.52 528.81,141.62 529.10,141.73 529.38,141.85 529.66,141.99 529.93,142.14 530.20,142.30 530.52,142.50 530.85,142.70 531.17,142.92 531.50,143.16 531.82,143.43 532.13,143.72 532.42,144.03 532.70,144.38 532.96,144.77 533.20,145.20 533.55,146.06 533.83,147.06 534.04,148.18 534.20,149.41 534.32,150.72 534.42,152.10 534.50,153.53 534.58,155.01 534.68,156.50 534.80,158.00 534.98,160.17 535.14,162.50 535.29,164.96 535.43,167.51 535.56,170.12 535.69,172.76 535.82,175.40 535.97,178.01 536.13,180.55 536.30,183.00 536.46,185.22 536.59,187.49 536.71,189.77 536.84,192.04 536.98,194.27 537.15,196.44 537.35,198.53 537.60,200.50 537.91,202.33 538.30,204.00 538.57,205.00 538.85,205.95 539.13,206.86 539.44,207.73 539.76,208.55 540.12,209.33 540.51,210.07 540.95,210.76 541.45,211.40 542.00,212.00 542.61,212.54 543.28,213.02 543.99,213.44 544.75,213.82 545.55,214.16 546.38,214.46 547.25,214.74 548.14,215.00 549.06,215.25 550.00,215.50 551.26,215.80 552.55,216.04 553.88,216.24 555.26,216.40 556.69,216.53 558.19,216.63 559.76,216.73 561.42,216.81 563.16,216.90 565.00,217.00 568.82,217.16 573.64,217.28 579.12,217.37 584.94,217.43 590.76,217.47 596.27,217.50 601.12,217.50 605.00,217.51 607.57,217.50 608.50,217.50" fill="none" stroke="#ff8000" stroke-width="1.3" stroke-linejoin="round"/>
<g transform="translate(392.3,185.8)"><polygon points="0.00,-2.41 0.46,-0.63 2.29,-0.74 0.74,0.24 1.41,1.95 0.00,0.78 -1.41,1.95 -0.74,0.24 -2.29,-0.74 -0.46,-0.63" fill="#fff" stroke="#ff8000" stroke-width="1.0"/></g>
<g transform="translate(400.0,186.5)"><polygon points="0.00,-2.41 0.46,-0.63 2.29,-0.74 0.74,0.24 1.41,1.95 0.00,0.78 -1.41,1.95 -0.74,0.24 -2.29,-0.74 -0.46,-0.63" fill="#fff" stroke="#ff8000" stroke-width="1.0"/></g>
<g transform="translate(408.4,187.4)"><polygon points="0.00,-2.41 0.46,-0.63 2.29,-0.74 0.74,0.24 1.41,1.95 0.00,0.78 -1.41,1.95 -0.74,0.24 -2.29,-0.74 -0.46,-0.63" fill="#fff" stroke="#ff8000" stroke-width="1.0"/></g>
<g transform="translate(416.4,188.4)"><polygon points="0.00,-2.41 0.46,-0.63 2.29,-0.74 0.74,0.24 1.41,1.95 0.00,0.78 -1.41,1.95 -0.74,0.24 -2.29,-0.74 -0.46,-0.63" fill="#fff" stroke="#ff8000" stroke-width="1.0"/></g>
<g transform="translate(423.1,189.2)"><polygon points="0.00,-2.41 0.46,-0.63 2.29,-0.74 0.74,0.24 1.41,1.95 0.00,0.78 -1.41,1.95 -0.74,0.24 -2.29,-0.74 -0.46,-0.63" fill="#fff" stroke="#ff8000" stroke-width="1.0"/></g>
<g transform="translate(431.7,190.2)"><polygon points="0.00,-2.41 0.46,-0.63 2.29,-0.74 0.74,0.24 1.41,1.95 0.00,0.78 -1.41,1.95 -0.74,0.24 -2.29,-0.74 -0.46,-0.63" fill="#fff" stroke="#ff8000" stroke-width="1.0"/></g>
<g transform="translate(439.6,190.8)"><polygon points="0.00,-2.41 0.46,-0.63 2.29,-0.74 0.74,0.24 1.41,1.95 0.00,0.78 -1.41,1.95 -0.74,0.24 -2.29,-0.74 -0.46,-0.63" fill="#fff" stroke="#ff8000" stroke-width="1.0"/></g>
<g transform="translate(448.0,191.6)"><polygon points="0.00,-2.41 0.46,-0.63 2.29,-0.74 0.74,0.24 1.41,1.95 0.00,0.78 -1.41,1.95 -0.74,0.24 -2.29,-0.74 -0.46,-0.63" fill="#fff" stroke="#ff8000" stroke-width="1.0"/></g>
<g transform="translate(456.4,192.4)"><polygon points="0.00,-2.41 0.46,-0.63 2.29,-0.74 0.74,0.24 1.41,1.95 0.00,0.78 -1.41,1.95 -0.74,0.24 -2.29,-0.74 -0.46,-0.63" fill="#fff" stroke="#ff8000" stroke-width="1.0"/></g>
<g transform="translate(463.0,193.1)"><polygon points="0.00,-2.41 0.46,-0.63 2.29,-0.74 0.74,0.24 1.41,1.95 0.00,0.78 -1.41,1.95 -0.74,0.24 -2.29,-0.74 -0.46,-0.63" fill="#fff" stroke="#ff8000" stroke-width="1.0"/></g>
<g transform="translate(470.7,194.6)"><polygon points="0.00,-2.41 0.46,-0.63 2.29,-0.74 0.74,0.24 1.41,1.95 0.00,0.78 -1.41,1.95 -0.74,0.24 -2.29,-0.74 -0.46,-0.63" fill="#fff" stroke="#ff8000" stroke-width="1.0"/></g>
<g transform="translate(478.5,200.1)"><polygon points="0.00,-2.41 0.46,-0.63 2.29,-0.74 0.74,0.24 1.41,1.95 0.00,0.78 -1.41,1.95 -0.74,0.24 -2.29,-0.74 -0.46,-0.63" fill="#fff" stroke="#ff8000" stroke-width="1.0"/></g>
<g transform="translate(486.0,206.7)"><polygon points="0.00,-2.41 0.46,-0.63 2.29,-0.74 0.74,0.24 1.41,1.95 0.00,0.78 -1.41,1.95 -0.74,0.24 -2.29,-0.74 -0.46,-0.63" fill="#fff" stroke="#ff8000" stroke-width="1.0"/></g>
<g transform="translate(493.7,212.2)"><polygon points="0.00,-2.41 0.46,-0.63 2.29,-0.74 0.74,0.24 1.41,1.95 0.00,0.78 -1.41,1.95 -0.74,0.24 -2.29,-0.74 -0.46,-0.63" fill="#fff" stroke="#ff8000" stroke-width="1.0"/></g>
<g transform="translate(502.0,214.3)"><polygon points="0.00,-2.41 0.46,-0.63 2.29,-0.74 0.74,0.24 1.41,1.95 0.00,0.78 -1.41,1.95 -0.74,0.24 -2.29,-0.74 -0.46,-0.63" fill="#fff" stroke="#ff8000" stroke-width="1.0"/></g>
<g transform="translate(509.4,214.5)"><polygon points="0.00,-2.41 0.46,-0.63 2.29,-0.74 0.74,0.24 1.41,1.95 0.00,0.78 -1.41,1.95 -0.74,0.24 -2.29,-0.74 -0.46,-0.63" fill="#fff" stroke="#ff8000" stroke-width="1.0"/></g>
<g transform="translate(527.4,141.4)"><polygon points="0.00,-2.41 0.46,-0.63 2.29,-0.74 0.74,0.24 1.41,1.95 0.00,0.78 -1.41,1.95 -0.74,0.24 -2.29,-0.74 -0.46,-0.63" fill="#fff" stroke="#ff8000" stroke-width="1.0"/></g>
<g transform="translate(533.2,145.2)"><polygon points="0.00,-2.41 0.46,-0.63 2.29,-0.74 0.74,0.24 1.41,1.95 0.00,0.78 -1.41,1.95 -0.74,0.24 -2.29,-0.74 -0.46,-0.63" fill="#fff" stroke="#ff8000" stroke-width="1.0"/></g>
<polyline points="378.70,195.20 379.09,195.22 380.18,195.28 381.85,195.37 383.99,195.49 386.47,195.63 389.18,195.79 392.01,195.96 394.83,196.14 397.53,196.32 400.00,196.50 402.81,196.72 405.72,196.98 408.71,197.25 411.76,197.54 414.85,197.84 417.95,198.14 421.04,198.43 424.09,198.71 427.09,198.97 430.00,199.20 432.60,199.38 435.19,199.53 437.76,199.66 440.30,199.78 442.82,199.90 445.31,200.02 447.78,200.15 450.22,200.31 452.63,200.49 455.00,200.70 457.14,200.92 459.32,201.16 461.50,201.42 463.67,201.69 465.80,201.97 467.86,202.27 469.84,202.57 471.70,202.88 473.43,203.19 475.00,203.50 475.85,203.69 476.64,203.87 477.37,204.05 478.06,204.23 478.72,204.41 479.36,204.61 480.00,204.81 480.64,205.02 481.31,205.25 482.00,205.50 482.79,205.79 483.59,206.09 484.40,206.41 485.22,206.75 486.03,207.09 486.84,207.45 487.65,207.82 488.45,208.21 489.23,208.60 490.00,209.00 490.73,209.42 491.43,209.87 492.11,210.35 492.79,210.84 493.46,211.34 494.13,211.83 494.81,212.30 495.52,212.75 496.24,213.15 497.00,213.50 497.84,213.83 498.72,214.12 499.63,214.39 500.56,214.63 501.50,214.84 502.44,215.02 503.37,215.18 504.28,215.31 505.16,215.42 506.00,215.50 506.66,215.55 507.31,215.60 507.96,215.64 508.60,215.66 509.23,215.66 509.84,215.64 510.42,215.59 510.98,215.50 511.51,215.37 512.00,215.20 512.38,215.03 512.73,214.85 513.07,214.64 513.39,214.42 513.69,214.17 513.98,213.89 514.25,213.59 514.51,213.26 514.76,212.90 515.00,212.50 515.35,211.77 515.64,210.92 515.88,209.97 516.09,208.94 516.26,207.84 516.41,206.70 516.56,205.53 516.70,204.35 516.84,203.16 517.00,202.00 517.19,200.60 517.36,199.12 517.51,197.60 517.65,196.04 517.79,194.47 517.92,192.90 518.07,191.35 518.22,189.83 518.40,188.38 518.60,187.00 518.77,185.91 518.93,184.81 519.09,183.71 519.26,182.64 519.44,181.59 519.63,180.59 519.85,179.64 520.10,178.75 520.38,177.93 520.70,177.20 520.93,176.77 521.18,176.38 521.44,176.02 521.71,175.68 522.00,175.36 522.29,175.07 522.59,174.79 522.89,174.52 523.19,174.26 523.50,174.00 523.78,173.77 524.06,173.56 524.34,173.36 524.62,173.18 524.91,173.00 525.21,172.83 525.51,172.66 525.83,172.51 526.16,172.35 526.50,172.20 526.95,172.00 527.44,171.79 527.96,171.57 528.49,171.36 529.04,171.16 529.58,170.99 530.11,170.85 530.61,170.77 531.08,170.75 531.50,170.80 531.81,170.89 532.10,171.02 532.38,171.18 532.64,171.37 532.89,171.59 533.13,171.83 533.36,172.10 533.58,172.38 533.79,172.68 534.00,173.00 534.29,173.51 534.54,174.09 534.78,174.73 534.99,175.41 535.18,176.13 535.36,176.89 535.53,177.66 535.69,178.44 535.85,179.22 536.00,180.00 536.17,180.92 536.32,181.88 536.45,182.86 536.56,183.86 536.67,184.88 536.77,185.91 536.87,186.94 536.97,187.97 537.08,188.99 537.20,190.00 537.32,191.00 537.44,192.00 537.56,193.00 537.68,194.00 537.80,195.00 537.93,196.00 538.06,197.00 538.19,198.00 538.34,199.00 538.50,200.00 538.65,201.02 538.79,202.07 538.93,203.14 539.06,204.21 539.21,205.27 539.39,206.31 539.59,207.31 539.84,208.27 540.14,209.17 540.50,210.00 540.83,210.63 541.18,211.24 541.56,211.82 541.96,212.37 542.38,212.90 542.84,213.39 543.33,213.85 543.85,214.27 544.40,214.66 545.00,215.00 545.76,215.35 546.56,215.61 547.38,215.80 548.26,215.93 549.19,216.02 550.19,216.08 551.26,216.13 552.41,216.17 553.65,216.22 555.00,216.30 559.11,216.50 564.69,216.64 571.29,216.74 578.47,216.80 585.77,216.83 592.75,216.84 598.97,216.83 603.96,216.82 607.29,216.81 608.50,216.80" fill="none" stroke="#ff0080" stroke-width="1.3" stroke-linejoin="round"/>
<g transform="translate(392.0,196.0)"><circle r="1.85" fill="#fff" stroke="#ff0080" stroke-width="1.0"/><path d="M0,-1.85 A1.85,1.85 0 0 1 0,1.85 Z" fill="#ff0080"/></g>
<g transform="translate(397.5,196.3)"><circle r="1.85" fill="#fff" stroke="#ff0080" stroke-width="1.0"/><path d="M0,-1.85 A1.85,1.85 0 0 1 0,1.85 Z" fill="#ff0080"/></g>
<g transform="translate(405.7,197.0)"><circle r="1.85" fill="#fff" stroke="#ff0080" stroke-width="1.0"/><path d="M0,-1.85 A1.85,1.85 0 0 1 0,1.85 Z" fill="#ff0080"/></g>
<g transform="translate(414.9,197.8)"><circle r="1.85" fill="#fff" stroke="#ff0080" stroke-width="1.0"/><path d="M0,-1.85 A1.85,1.85 0 0 1 0,1.85 Z" fill="#ff0080"/></g>
<g transform="translate(424.1,198.7)"><circle r="1.85" fill="#fff" stroke="#ff0080" stroke-width="1.0"/><path d="M0,-1.85 A1.85,1.85 0 0 1 0,1.85 Z" fill="#ff0080"/></g>
<g transform="translate(430.0,199.2)"><circle r="1.85" fill="#fff" stroke="#ff0080" stroke-width="1.0"/><path d="M0,-1.85 A1.85,1.85 0 0 1 0,1.85 Z" fill="#ff0080"/></g>
<g transform="translate(437.8,199.7)"><circle r="1.85" fill="#fff" stroke="#ff0080" stroke-width="1.0"/><path d="M0,-1.85 A1.85,1.85 0 0 1 0,1.85 Z" fill="#ff0080"/></g>
<g transform="translate(445.3,200.0)"><circle r="1.85" fill="#fff" stroke="#ff0080" stroke-width="1.0"/><path d="M0,-1.85 A1.85,1.85 0 0 1 0,1.85 Z" fill="#ff0080"/></g>
<g transform="translate(455.0,200.7)"><circle r="1.85" fill="#fff" stroke="#ff0080" stroke-width="1.0"/><path d="M0,-1.85 A1.85,1.85 0 0 1 0,1.85 Z" fill="#ff0080"/></g>
<g transform="translate(461.5,201.4)"><circle r="1.85" fill="#fff" stroke="#ff0080" stroke-width="1.0"/><path d="M0,-1.85 A1.85,1.85 0 0 1 0,1.85 Z" fill="#ff0080"/></g>
<g transform="translate(469.8,202.6)"><circle r="1.85" fill="#fff" stroke="#ff0080" stroke-width="1.0"/><path d="M0,-1.85 A1.85,1.85 0 0 1 0,1.85 Z" fill="#ff0080"/></g>
<g transform="translate(477.4,204.0)"><circle r="1.85" fill="#fff" stroke="#ff0080" stroke-width="1.0"/><path d="M0,-1.85 A1.85,1.85 0 0 1 0,1.85 Z" fill="#ff0080"/></g>
<g transform="translate(485.2,206.7)"><circle r="1.85" fill="#fff" stroke="#ff0080" stroke-width="1.0"/><path d="M0,-1.85 A1.85,1.85 0 0 1 0,1.85 Z" fill="#ff0080"/></g>
<g transform="translate(492.8,210.8)"><circle r="1.85" fill="#fff" stroke="#ff0080" stroke-width="1.0"/><path d="M0,-1.85 A1.85,1.85 0 0 1 0,1.85 Z" fill="#ff0080"/></g>
<g transform="translate(500.6,214.6)"><circle r="1.85" fill="#fff" stroke="#ff0080" stroke-width="1.0"/><path d="M0,-1.85 A1.85,1.85 0 0 1 0,1.85 Z" fill="#ff0080"/></g>
<g transform="translate(508.6,215.7)"><circle r="1.85" fill="#fff" stroke="#ff0080" stroke-width="1.0"/><path d="M0,-1.85 A1.85,1.85 0 0 1 0,1.85 Z" fill="#ff0080"/></g>
<g transform="translate(520.7,177.2)"><circle r="1.85" fill="#fff" stroke="#ff0080" stroke-width="1.0"/><path d="M0,-1.85 A1.85,1.85 0 0 1 0,1.85 Z" fill="#ff0080"/></g>
<g transform="translate(526.5,172.2)"><circle r="1.85" fill="#fff" stroke="#ff0080" stroke-width="1.0"/><path d="M0,-1.85 A1.85,1.85 0 0 1 0,1.85 Z" fill="#ff0080"/></g>
<g transform="translate(531.5,170.8)"><circle r="1.85" fill="#fff" stroke="#ff0080" stroke-width="1.0"/><path d="M0,-1.85 A1.85,1.85 0 0 1 0,1.85 Z" fill="#ff0080"/></g>
<polyline points="378.70,198.20 379.09,198.22 380.18,198.27 381.85,198.35 383.99,198.45 386.47,198.57 389.18,198.71 392.00,198.85 394.83,199.00 397.53,199.15 400.00,199.30 402.81,199.48 405.72,199.68 408.71,199.89 411.76,200.12 414.85,200.35 417.95,200.58 421.04,200.82 424.09,201.05 427.09,201.28 430.00,201.50 432.59,201.69 435.15,201.87 437.67,202.05 440.17,202.23 442.64,202.41 445.11,202.59 447.57,202.77 450.04,202.97 452.51,203.18 455.00,203.40 457.55,203.62 460.19,203.84 462.87,204.05 465.56,204.27 468.23,204.51 470.84,204.76 473.35,205.04 475.74,205.35 477.97,205.70 480.00,206.10 481.21,206.38 482.34,206.69 483.42,207.00 484.45,207.33 485.43,207.67 486.38,208.03 487.30,208.39 488.21,208.75 489.10,209.13 490.00,209.50 490.76,209.83 491.48,210.18 492.17,210.53 492.85,210.90 493.52,211.26 494.19,211.63 494.86,211.99 495.55,212.34 496.26,212.68 497.00,213.00 497.85,213.35 498.74,213.71 499.65,214.07 500.58,214.42 501.52,214.76 502.45,215.08 503.38,215.37 504.28,215.63 505.16,215.84 506.00,216.00 506.65,216.10 507.31,216.19 507.95,216.26 508.60,216.32 509.22,216.35 509.83,216.35 510.42,216.32 510.98,216.25 511.51,216.15 512.00,216.00 512.37,215.85 512.73,215.68 513.06,215.49 513.38,215.27 513.68,215.04 513.97,214.78 514.25,214.49 514.51,214.19 514.76,213.85 515.00,213.50 515.31,212.95 515.57,212.33 515.80,211.66 516.01,210.94 516.19,210.18 516.35,209.38 516.51,208.56 516.67,207.71 516.83,206.86 517.00,206.00 517.22,204.83 517.41,203.57 517.57,202.24 517.73,200.86 517.89,199.47 518.06,198.08 518.24,196.71 518.46,195.39 518.71,194.15 519.00,193.00 519.25,192.16 519.52,191.35 519.80,190.55 520.09,189.78 520.40,189.03 520.73,188.31 521.07,187.63 521.43,186.98 521.80,186.37 522.20,185.80 522.53,185.37 522.87,184.96 523.23,184.58 523.59,184.21 523.96,183.87 524.35,183.55 524.75,183.25 525.15,182.98 525.57,182.73 526.00,182.50 526.44,182.29 526.92,182.10 527.41,181.93 527.92,181.78 528.43,181.66 528.94,181.56 529.44,181.49 529.92,181.46 530.38,181.46 530.80,181.50 531.11,181.56 531.42,181.63 531.72,181.72 532.00,181.84 532.28,181.97 532.55,182.13 532.80,182.31 533.05,182.51 533.28,182.74 533.50,183.00 533.81,183.46 534.08,184.01 534.31,184.64 534.52,185.32 534.70,186.06 534.87,186.83 535.03,187.62 535.18,188.42 535.34,189.22 535.50,190.00 535.69,190.92 535.85,191.88 536.00,192.86 536.14,193.87 536.28,194.88 536.41,195.91 536.54,196.94 536.68,197.97 536.83,198.99 537.00,200.00 537.17,201.02 537.32,202.06 537.46,203.12 537.61,204.19 537.76,205.24 537.94,206.28 538.14,207.28 538.38,208.24 538.67,209.15 539.00,210.00 539.29,210.65 539.60,211.28 539.91,211.89 540.25,212.48 540.61,213.04 541.00,213.57 541.43,214.06 541.90,214.52 542.42,214.93 543.00,215.30 543.85,215.70 544.78,215.99 545.77,216.18 546.84,216.30 547.99,216.37 549.21,216.39 550.53,216.40 551.93,216.41 553.42,216.44 555.00,216.50 559.28,216.67 564.96,216.79 571.60,216.88 578.77,216.95 586.04,216.98 592.96,217.00 599.10,217.01 604.03,217.01 607.31,217.00 608.50,217.00" fill="none" stroke="#008080" stroke-width="1.3" stroke-linejoin="round"/>
<g transform="translate(392.0,198.9)"><polygon points="0.00,-2.41 2.41,0.00 0.00,2.41 -2.41,0.00" fill="#008080" stroke="#008080" stroke-width="1.0"/></g>
<g transform="translate(400.0,199.3)"><polygon points="0.00,-2.41 2.41,0.00 0.00,2.41 -2.41,0.00" fill="#008080" stroke="#008080" stroke-width="1.0"/></g>
<g transform="translate(408.7,199.9)"><polygon points="0.00,-2.41 2.41,0.00 0.00,2.41 -2.41,0.00" fill="#008080" stroke="#008080" stroke-width="1.0"/></g>
<g transform="translate(418.0,200.6)"><polygon points="0.00,-2.41 2.41,0.00 0.00,2.41 -2.41,0.00" fill="#008080" stroke="#008080" stroke-width="1.0"/></g>
<g transform="translate(424.1,201.1)"><polygon points="0.00,-2.41 2.41,0.00 0.00,2.41 -2.41,0.00" fill="#008080" stroke="#008080" stroke-width="1.0"/></g>
<g transform="translate(432.6,201.7)"><polygon points="0.00,-2.41 2.41,0.00 0.00,2.41 -2.41,0.00" fill="#008080" stroke="#008080" stroke-width="1.0"/></g>
<g transform="translate(440.2,202.2)"><polygon points="0.00,-2.41 2.41,0.00 0.00,2.41 -2.41,0.00" fill="#008080" stroke="#008080" stroke-width="1.0"/></g>
<g transform="translate(447.6,202.8)"><polygon points="0.00,-2.41 2.41,0.00 0.00,2.41 -2.41,0.00" fill="#008080" stroke="#008080" stroke-width="1.0"/></g>
<g transform="translate(455.0,203.4)"><polygon points="0.00,-2.41 2.41,0.00 0.00,2.41 -2.41,0.00" fill="#008080" stroke="#008080" stroke-width="1.0"/></g>
<g transform="translate(465.6,204.3)"><polygon points="0.00,-2.41 2.41,0.00 0.00,2.41 -2.41,0.00" fill="#008080" stroke="#008080" stroke-width="1.0"/></g>
<g transform="translate(473.4,205.0)"><polygon points="0.00,-2.41 2.41,0.00 0.00,2.41 -2.41,0.00" fill="#008080" stroke="#008080" stroke-width="1.0"/></g>
<g transform="translate(480.0,206.1)"><polygon points="0.00,-2.41 2.41,0.00 0.00,2.41 -2.41,0.00" fill="#008080" stroke="#008080" stroke-width="1.0"/></g>
<g transform="translate(487.3,208.4)"><polygon points="0.00,-2.41 2.41,0.00 0.00,2.41 -2.41,0.00" fill="#008080" stroke="#008080" stroke-width="1.0"/></g>
<g transform="translate(494.9,212.0)"><polygon points="0.00,-2.41 2.41,0.00 0.00,2.41 -2.41,0.00" fill="#008080" stroke="#008080" stroke-width="1.0"/></g>
<g transform="translate(502.5,215.1)"><polygon points="0.00,-2.41 2.41,0.00 0.00,2.41 -2.41,0.00" fill="#008080" stroke="#008080" stroke-width="1.0"/></g>
<g transform="translate(510.4,216.3)"><polygon points="0.00,-2.41 2.41,0.00 0.00,2.41 -2.41,0.00" fill="#008080" stroke="#008080" stroke-width="1.0"/></g>
<g transform="translate(522.2,185.8)"><polygon points="0.00,-2.41 2.41,0.00 0.00,2.41 -2.41,0.00" fill="#008080" stroke="#008080" stroke-width="1.0"/></g>
<g transform="translate(530.8,181.5)"><polygon points="0.00,-2.41 2.41,0.00 0.00,2.41 -2.41,0.00" fill="#008080" stroke="#008080" stroke-width="1.0"/></g>
<polyline points="378.70,201.30 379.09,201.32 380.18,201.36 381.85,201.44 383.99,201.53 386.47,201.64 389.18,201.76 392.00,201.90 394.83,202.03 397.53,202.17 400.00,202.30 402.81,202.45 405.72,202.61 408.71,202.77 411.77,202.95 414.85,203.13 417.96,203.32 421.04,203.52 424.10,203.73 427.09,203.96 430.00,204.20 432.59,204.44 435.15,204.70 437.67,204.98 440.17,205.27 442.64,205.57 445.11,205.87 447.57,206.16 450.04,206.46 452.51,206.74 455.00,207.00 457.55,207.24 460.18,207.47 462.86,207.68 465.55,207.89 468.21,208.09 470.82,208.30 473.34,208.52 475.73,208.76 477.96,209.02 480.00,209.30 481.20,209.49 482.33,209.69 483.40,209.89 484.43,210.10 485.41,210.31 486.36,210.54 487.29,210.76 488.20,211.00 489.10,211.25 490.00,211.50 490.75,211.73 491.47,211.97 492.17,212.23 492.85,212.49 493.52,212.76 494.19,213.02 494.87,213.28 495.56,213.53 496.26,213.77 497.00,214.00 497.86,214.24 498.75,214.49 499.66,214.73 500.59,214.97 501.53,215.19 502.46,215.40 503.39,215.59 504.29,215.75 505.16,215.89 506.00,216.00 506.66,216.07 507.31,216.14 507.96,216.20 508.60,216.24 509.22,216.27 509.83,216.28 510.41,216.26 510.97,216.21 511.50,216.12 512.00,216.00 512.36,215.88 512.71,215.75 513.05,215.60 513.37,215.44 513.67,215.26 513.96,215.06 514.24,214.83 514.51,214.58 514.76,214.31 515.00,214.00 515.31,213.50 515.57,212.93 515.79,212.30 515.99,211.61 516.16,210.89 516.32,210.13 516.48,209.35 516.64,208.56 516.81,207.77 517.00,207.00 517.24,206.06 517.48,205.06 517.71,204.02 517.94,202.95 518.18,201.88 518.42,200.82 518.67,199.79 518.93,198.79 519.21,197.86 519.50,197.00 519.72,196.41 519.93,195.83 520.15,195.26 520.37,194.72 520.60,194.19 520.84,193.70 521.09,193.22 521.37,192.78 521.67,192.37 522.00,192.00 522.31,191.70 522.63,191.43 522.98,191.18 523.34,190.95 523.71,190.75 524.09,190.56 524.48,190.39 524.88,190.24 525.29,190.11 525.70,190.00 526.17,189.90 526.65,189.84 527.15,189.81 527.67,189.80 528.19,189.81 528.71,189.84 529.24,189.88 529.77,189.92 530.29,189.96 530.80,190.00 531.32,190.02 531.86,190.03 532.41,190.04 532.96,190.04 533.51,190.06 534.04,190.11 534.54,190.18 535.01,190.30 535.43,190.47 535.80,190.70 536.09,190.98 536.34,191.30 536.55,191.67 536.72,192.07 536.87,192.50 537.00,192.97 537.13,193.45 537.24,193.96 537.37,194.47 537.50,195.00 537.69,195.83 537.86,196.75 538.01,197.74 538.14,198.78 538.27,199.85 538.39,200.93 538.52,202.00 538.66,203.05 538.82,204.06 539.00,205.00 539.16,205.77 539.30,206.54 539.44,207.30 539.58,208.06 539.73,208.79 539.91,209.50 540.11,210.19 540.36,210.83 540.65,211.44 541.00,212.00 541.36,212.47 541.75,212.91 542.17,213.32 542.62,213.71 543.10,214.06 543.61,214.39 544.16,214.70 544.74,214.99 545.35,215.25 546.00,215.50 547.05,215.82 548.17,216.05 549.36,216.22 550.64,216.34 551.99,216.41 553.42,216.45 554.93,216.48 556.53,216.50 558.22,216.54 560.00,216.60 564.10,216.73 569.38,216.83 575.45,216.90 581.94,216.95 588.48,216.98 594.67,217.00 600.15,217.01 604.53,217.01 607.44,217.00 608.50,217.00" fill="none" stroke="#800000" stroke-width="1.3" stroke-linejoin="round"/>
<g transform="translate(392.0,201.9)"><circle r="1.85" fill="#fff" stroke="#800000" stroke-width="1.0"/><path d="M0,-1.85 A1.85,1.85 0 0 0 0,1.85 Z" fill="#800000"/></g>
<g transform="translate(400.0,202.3)"><circle r="1.85" fill="#fff" stroke="#800000" stroke-width="1.0"/><path d="M0,-1.85 A1.85,1.85 0 0 0 0,1.85 Z" fill="#800000"/></g>
<g transform="translate(408.7,202.8)"><circle r="1.85" fill="#fff" stroke="#800000" stroke-width="1.0"/><path d="M0,-1.85 A1.85,1.85 0 0 0 0,1.85 Z" fill="#800000"/></g>
<g transform="translate(414.9,203.1)"><circle r="1.85" fill="#fff" stroke="#800000" stroke-width="1.0"/><path d="M0,-1.85 A1.85,1.85 0 0 0 0,1.85 Z" fill="#800000"/></g>
<g transform="translate(424.1,203.7)"><circle r="1.85" fill="#fff" stroke="#800000" stroke-width="1.0"/><path d="M0,-1.85 A1.85,1.85 0 0 0 0,1.85 Z" fill="#800000"/></g>
<g transform="translate(430.0,204.2)"><circle r="1.85" fill="#fff" stroke="#800000" stroke-width="1.0"/><path d="M0,-1.85 A1.85,1.85 0 0 0 0,1.85 Z" fill="#800000"/></g>
<g transform="translate(440.2,205.3)"><circle r="1.85" fill="#fff" stroke="#800000" stroke-width="1.0"/><path d="M0,-1.85 A1.85,1.85 0 0 0 0,1.85 Z" fill="#800000"/></g>
<g transform="translate(447.6,206.2)"><circle r="1.85" fill="#fff" stroke="#800000" stroke-width="1.0"/><path d="M0,-1.85 A1.85,1.85 0 0 0 0,1.85 Z" fill="#800000"/></g>
<g transform="translate(455.0,207.0)"><circle r="1.85" fill="#fff" stroke="#800000" stroke-width="1.0"/><path d="M0,-1.85 A1.85,1.85 0 0 0 0,1.85 Z" fill="#800000"/></g>
<g transform="translate(462.9,207.7)"><circle r="1.85" fill="#fff" stroke="#800000" stroke-width="1.0"/><path d="M0,-1.85 A1.85,1.85 0 0 0 0,1.85 Z" fill="#800000"/></g>
<g transform="translate(470.8,208.3)"><circle r="1.85" fill="#fff" stroke="#800000" stroke-width="1.0"/><path d="M0,-1.85 A1.85,1.85 0 0 0 0,1.85 Z" fill="#800000"/></g>
<g transform="translate(478.0,209.0)"><circle r="1.85" fill="#fff" stroke="#800000" stroke-width="1.0"/><path d="M0,-1.85 A1.85,1.85 0 0 0 0,1.85 Z" fill="#800000"/></g>
<g transform="translate(486.4,210.5)"><circle r="1.85" fill="#fff" stroke="#800000" stroke-width="1.0"/><path d="M0,-1.85 A1.85,1.85 0 0 0 0,1.85 Z" fill="#800000"/></g>
<g transform="translate(493.5,212.8)"><circle r="1.85" fill="#fff" stroke="#800000" stroke-width="1.0"/><path d="M0,-1.85 A1.85,1.85 0 0 0 0,1.85 Z" fill="#800000"/></g>
<g transform="translate(501.5,215.2)"><circle r="1.85" fill="#fff" stroke="#800000" stroke-width="1.0"/><path d="M0,-1.85 A1.85,1.85 0 0 0 0,1.85 Z" fill="#800000"/></g>
<g transform="translate(509.2,216.3)"><circle r="1.85" fill="#fff" stroke="#800000" stroke-width="1.0"/><path d="M0,-1.85 A1.85,1.85 0 0 0 0,1.85 Z" fill="#800000"/></g>
<g transform="translate(525.7,190.0)"><circle r="1.85" fill="#fff" stroke="#800000" stroke-width="1.0"/><path d="M0,-1.85 A1.85,1.85 0 0 0 0,1.85 Z" fill="#800000"/></g>
<g transform="translate(530.8,190.1)"><circle r="1.85" fill="#fff" stroke="#800000" stroke-width="1.0"/><path d="M0,-1.85 A1.85,1.85 0 0 0 0,1.85 Z" fill="#800000"/></g>
<g transform="translate(535.8,190.7)"><circle r="1.85" fill="#fff" stroke="#800000" stroke-width="1.0"/><path d="M0,-1.85 A1.85,1.85 0 0 0 0,1.85 Z" fill="#800000"/></g>
<polyline points="378.70,203.80 379.09,203.81 380.18,203.85 381.85,203.90 383.99,203.97 386.47,204.05 389.18,204.15 392.00,204.26 394.83,204.37 397.53,204.48 400.00,204.60 402.81,204.74 405.72,204.90 408.71,205.07 411.77,205.24 414.85,205.43 417.95,205.63 421.04,205.83 424.10,206.05 427.09,206.27 430.00,206.50 432.59,206.72 435.15,206.96 437.67,207.21 440.17,207.47 442.64,207.74 445.11,208.00 447.57,208.26 450.04,208.52 452.51,208.77 455.00,209.00 457.54,209.21 460.15,209.40 462.79,209.58 465.44,209.75 468.08,209.92 470.66,210.09 473.18,210.28 475.59,210.49 477.87,210.73 480.00,211.00 481.38,211.21 482.67,211.44 483.90,211.68 485.08,211.93 486.22,212.19 487.35,212.45 488.47,212.71 489.61,212.98 490.78,213.24 492.00,213.50 493.38,213.79 494.82,214.11 496.30,214.44 497.80,214.78 499.29,215.11 500.76,215.42 502.19,215.71 503.55,215.96 504.83,216.16 506.00,216.30 506.71,216.37 507.39,216.43 508.05,216.48 508.68,216.51 509.29,216.53 509.88,216.53 510.44,216.51 510.98,216.47 511.50,216.40 512.00,216.30 512.36,216.21 512.70,216.12 513.02,216.02 513.34,215.90 513.64,215.77 513.93,215.63 514.21,215.46 514.48,215.27 514.75,215.05 515.00,214.80 515.33,214.40 515.62,213.93 515.89,213.40 516.14,212.82 516.38,212.21 516.60,211.57 516.82,210.92 517.04,210.27 517.27,209.62 517.50,209.00 517.74,208.31 517.96,207.59 518.15,206.84 518.34,206.09 518.54,205.33 518.75,204.58 518.99,203.87 519.27,203.19 519.60,202.56 520.00,202.00 520.43,201.52 520.91,201.08 521.43,200.67 521.98,200.29 522.56,199.94 523.16,199.62 523.78,199.33 524.41,199.06 525.06,198.82 525.70,198.60 526.44,198.38 527.23,198.19 528.06,198.02 528.91,197.89 529.77,197.79 530.62,197.72 531.44,197.70 532.22,197.72 532.95,197.78 533.60,197.90 534.02,198.01 534.42,198.14 534.81,198.29 535.17,198.46 535.52,198.65 535.85,198.87 536.16,199.11 536.45,199.38 536.73,199.67 537.00,200.00 537.32,200.51 537.59,201.10 537.81,201.77 538.01,202.48 538.18,203.24 538.33,204.01 538.48,204.79 538.64,205.56 538.81,206.30 539.00,207.00 539.18,207.63 539.34,208.28 539.49,208.93 539.63,209.58 539.79,210.22 539.96,210.84 540.16,211.43 540.39,212.00 540.67,212.52 541.00,213.00 541.36,213.42 541.76,213.80 542.18,214.16 542.63,214.49 543.11,214.79 543.63,215.07 544.17,215.33 544.75,215.57 545.36,215.79 546.00,216.00 547.05,216.27 548.18,216.47 549.38,216.60 550.65,216.68 552.00,216.72 553.43,216.74 554.94,216.74 556.54,216.75 558.22,216.76 560.00,216.80 564.10,216.89 569.38,216.95 575.45,217.00 581.95,217.02 588.48,217.03 594.67,217.03 600.15,217.02 604.53,217.01 607.44,217.00 608.50,217.00" fill="none" stroke="#800080" stroke-width="1.3" stroke-linejoin="round"/>
<g transform="translate(392.0,204.3)"><polygon points="-1.85,-1.85 1.85,-1.85 1.85,1.85 -1.85,1.85" fill="#fff" stroke="#800080" stroke-width="1.0"/><polygon points="-1.85,-1.85 0.00,-1.85 0.00,1.85 -1.85,1.85" fill="#800080"/></g>
<g transform="translate(400.0,204.6)"><polygon points="-1.85,-1.85 1.85,-1.85 1.85,1.85 -1.85,1.85" fill="#fff" stroke="#800080" stroke-width="1.0"/><polygon points="-1.85,-1.85 0.00,-1.85 0.00,1.85 -1.85,1.85" fill="#800080"/></g>
<g transform="translate(408.7,205.1)"><polygon points="-1.85,-1.85 1.85,-1.85 1.85,1.85 -1.85,1.85" fill="#fff" stroke="#800080" stroke-width="1.0"/><polygon points="-1.85,-1.85 0.00,-1.85 0.00,1.85 -1.85,1.85" fill="#800080"/></g>
<g transform="translate(418.0,205.6)"><polygon points="-1.85,-1.85 1.85,-1.85 1.85,1.85 -1.85,1.85" fill="#fff" stroke="#800080" stroke-width="1.0"/><polygon points="-1.85,-1.85 0.00,-1.85 0.00,1.85 -1.85,1.85" fill="#800080"/></g>
<g transform="translate(424.1,206.0)"><polygon points="-1.85,-1.85 1.85,-1.85 1.85,1.85 -1.85,1.85" fill="#fff" stroke="#800080" stroke-width="1.0"/><polygon points="-1.85,-1.85 0.00,-1.85 0.00,1.85 -1.85,1.85" fill="#800080"/></g>
<g transform="translate(432.6,206.7)"><polygon points="-1.85,-1.85 1.85,-1.85 1.85,1.85 -1.85,1.85" fill="#fff" stroke="#800080" stroke-width="1.0"/><polygon points="-1.85,-1.85 0.00,-1.85 0.00,1.85 -1.85,1.85" fill="#800080"/></g>
<g transform="translate(440.2,207.5)"><polygon points="-1.85,-1.85 1.85,-1.85 1.85,1.85 -1.85,1.85" fill="#fff" stroke="#800080" stroke-width="1.0"/><polygon points="-1.85,-1.85 0.00,-1.85 0.00,1.85 -1.85,1.85" fill="#800080"/></g>
<g transform="translate(447.6,208.3)"><polygon points="-1.85,-1.85 1.85,-1.85 1.85,1.85 -1.85,1.85" fill="#fff" stroke="#800080" stroke-width="1.0"/><polygon points="-1.85,-1.85 0.00,-1.85 0.00,1.85 -1.85,1.85" fill="#800080"/></g>
<g transform="translate(457.5,209.2)"><polygon points="-1.85,-1.85 1.85,-1.85 1.85,1.85 -1.85,1.85" fill="#fff" stroke="#800080" stroke-width="1.0"/><polygon points="-1.85,-1.85 0.00,-1.85 0.00,1.85 -1.85,1.85" fill="#800080"/></g>
<g transform="translate(465.4,209.7)"><polygon points="-1.85,-1.85 1.85,-1.85 1.85,1.85 -1.85,1.85" fill="#fff" stroke="#800080" stroke-width="1.0"/><polygon points="-1.85,-1.85 0.00,-1.85 0.00,1.85 -1.85,1.85" fill="#800080"/></g>
<g transform="translate(473.2,210.3)"><polygon points="-1.85,-1.85 1.85,-1.85 1.85,1.85 -1.85,1.85" fill="#fff" stroke="#800080" stroke-width="1.0"/><polygon points="-1.85,-1.85 0.00,-1.85 0.00,1.85 -1.85,1.85" fill="#800080"/></g>
<g transform="translate(480.0,211.0)"><polygon points="-1.85,-1.85 1.85,-1.85 1.85,1.85 -1.85,1.85" fill="#fff" stroke="#800080" stroke-width="1.0"/><polygon points="-1.85,-1.85 0.00,-1.85 0.00,1.85 -1.85,1.85" fill="#800080"/></g>
<g transform="translate(487.3,212.4)"><polygon points="-1.85,-1.85 1.85,-1.85 1.85,1.85 -1.85,1.85" fill="#fff" stroke="#800080" stroke-width="1.0"/><polygon points="-1.85,-1.85 0.00,-1.85 0.00,1.85 -1.85,1.85" fill="#800080"/></g>
<g transform="translate(496.3,214.4)"><polygon points="-1.85,-1.85 1.85,-1.85 1.85,1.85 -1.85,1.85" fill="#fff" stroke="#800080" stroke-width="1.0"/><polygon points="-1.85,-1.85 0.00,-1.85 0.00,1.85 -1.85,1.85" fill="#800080"/></g>
<g transform="translate(503.6,216.0)"><polygon points="-1.85,-1.85 1.85,-1.85 1.85,1.85 -1.85,1.85" fill="#fff" stroke="#800080" stroke-width="1.0"/><polygon points="-1.85,-1.85 0.00,-1.85 0.00,1.85 -1.85,1.85" fill="#800080"/></g>
<g transform="translate(511.0,216.5)"><polygon points="-1.85,-1.85 1.85,-1.85 1.85,1.85 -1.85,1.85" fill="#fff" stroke="#800080" stroke-width="1.0"/><polygon points="-1.85,-1.85 0.00,-1.85 0.00,1.85 -1.85,1.85" fill="#800080"/></g>
<g transform="translate(525.7,198.6)"><polygon points="-1.85,-1.85 1.85,-1.85 1.85,1.85 -1.85,1.85" fill="#fff" stroke="#800080" stroke-width="1.0"/><polygon points="-1.85,-1.85 0.00,-1.85 0.00,1.85 -1.85,1.85" fill="#800080"/></g>
<g transform="translate(533.6,197.9)"><polygon points="-1.85,-1.85 1.85,-1.85 1.85,1.85 -1.85,1.85" fill="#fff" stroke="#800080" stroke-width="1.0"/><polygon points="-1.85,-1.85 0.00,-1.85 0.00,1.85 -1.85,1.85" fill="#800080"/></g>
<polyline points="378.70,206.30 379.09,206.31 380.18,206.34 381.85,206.39 383.99,206.45 386.47,206.52 389.18,206.60 392.00,206.70 394.83,206.79 397.53,206.90 400.00,207.00 402.81,207.13 405.72,207.27 408.71,207.41 411.76,207.57 414.85,207.74 417.95,207.91 421.04,208.10 424.10,208.29 427.09,208.49 430.00,208.70 432.59,208.90 435.15,209.13 437.67,209.36 440.17,209.60 442.64,209.85 445.11,210.10 447.57,210.34 450.04,210.57 452.51,210.80 455.00,211.00 457.53,211.18 460.10,211.33 462.70,211.46 465.31,211.58 467.90,211.70 470.47,211.82 472.98,211.97 475.42,212.14 477.76,212.35 480.00,212.60 481.67,212.84 483.29,213.11 484.86,213.41 486.39,213.73 487.89,214.05 489.35,214.38 490.79,214.69 492.21,214.99 493.61,215.26 495.00,215.50 496.18,215.68 497.36,215.85 498.52,216.02 499.67,216.17 500.81,216.31 501.91,216.44 502.99,216.55 504.04,216.65 505.04,216.74 506.00,216.80 506.68,216.84 507.35,216.88 508.00,216.92 508.63,216.96 509.25,216.98 509.85,216.98 510.42,216.97 510.97,216.94 511.50,216.89 512.00,216.80 512.35,216.72 512.69,216.65 513.01,216.56 513.32,216.47 513.62,216.36 513.91,216.23 514.19,216.09 514.46,215.92 514.73,215.73 515.00,215.50 515.35,215.12 515.68,214.67 515.98,214.15 516.27,213.59 516.55,212.99 516.83,212.38 517.11,211.75 517.39,211.14 517.69,210.55 518.00,210.00 518.31,209.47 518.61,208.93 518.91,208.38 519.22,207.83 519.53,207.29 519.85,206.77 520.19,206.27 520.56,205.81 520.96,205.38 521.40,205.00 521.88,204.66 522.41,204.37 522.96,204.11 523.54,203.88 524.14,203.68 524.76,203.50 525.38,203.33 525.99,203.18 526.60,203.04 527.20,202.90 527.77,202.76 528.36,202.63 528.95,202.50 529.55,202.38 530.14,202.27 530.72,202.19 531.30,202.14 531.86,202.12 532.39,202.14 532.90,202.20 533.31,202.28 533.72,202.38 534.11,202.51 534.50,202.65 534.88,202.82 535.24,203.01 535.58,203.22 535.91,203.46 536.22,203.72 536.50,204.00 536.79,204.37 537.04,204.80 537.26,205.27 537.45,205.78 537.62,206.31 537.78,206.86 537.94,207.41 538.11,207.96 538.29,208.49 538.50,209.00 538.72,209.52 538.93,210.05 539.14,210.59 539.34,211.14 539.56,211.67 539.79,212.20 540.05,212.70 540.33,213.17 540.64,213.61 541.00,214.00 541.39,214.34 541.79,214.65 542.22,214.93 542.68,215.18 543.16,215.41 543.67,215.62 544.21,215.81 544.77,215.98 545.37,216.14 546.00,216.30 547.06,216.51 548.19,216.65 549.39,216.75 550.66,216.80 552.01,216.82 553.44,216.81 554.95,216.80 556.54,216.78 558.23,216.78 560.00,216.80 564.10,216.85 569.38,216.88 575.45,216.89 581.95,216.89 588.48,216.88 594.67,216.86 600.15,216.84 604.53,216.82 607.44,216.81 608.50,216.80" fill="none" stroke="#1010b0" stroke-width="1.3" stroke-linejoin="round"/>
<g transform="translate(392.0,206.7)"><polygon points="0.00,-2.41 0.46,-0.63 2.29,-0.74 0.74,0.24 1.41,1.95 0.00,0.78 -1.41,1.95 -0.74,0.24 -2.29,-0.74 -0.46,-0.63" fill="#1010b0" stroke="#1010b0" stroke-width="1.0"/></g>
<g transform="translate(400.0,207.0)"><polygon points="0.00,-2.41 0.46,-0.63 2.29,-0.74 0.74,0.24 1.41,1.95 0.00,0.78 -1.41,1.95 -0.74,0.24 -2.29,-0.74 -0.46,-0.63" fill="#1010b0" stroke="#1010b0" stroke-width="1.0"/></g>
<g transform="translate(408.7,207.4)"><polygon points="0.00,-2.41 0.46,-0.63 2.29,-0.74 0.74,0.24 1.41,1.95 0.00,0.78 -1.41,1.95 -0.74,0.24 -2.29,-0.74 -0.46,-0.63" fill="#1010b0" stroke="#1010b0" stroke-width="1.0"/></g>
<g transform="translate(414.9,207.7)"><polygon points="0.00,-2.41 0.46,-0.63 2.29,-0.74 0.74,0.24 1.41,1.95 0.00,0.78 -1.41,1.95 -0.74,0.24 -2.29,-0.74 -0.46,-0.63" fill="#1010b0" stroke="#1010b0" stroke-width="1.0"/></g>
<g transform="translate(424.1,208.3)"><polygon points="0.00,-2.41 0.46,-0.63 2.29,-0.74 0.74,0.24 1.41,1.95 0.00,0.78 -1.41,1.95 -0.74,0.24 -2.29,-0.74 -0.46,-0.63" fill="#1010b0" stroke="#1010b0" stroke-width="1.0"/></g>
<g transform="translate(432.6,208.9)"><polygon points="0.00,-2.41 0.46,-0.63 2.29,-0.74 0.74,0.24 1.41,1.95 0.00,0.78 -1.41,1.95 -0.74,0.24 -2.29,-0.74 -0.46,-0.63" fill="#1010b0" stroke="#1010b0" stroke-width="1.0"/></g>
<g transform="translate(440.2,209.6)"><polygon points="0.00,-2.41 0.46,-0.63 2.29,-0.74 0.74,0.24 1.41,1.95 0.00,0.78 -1.41,1.95 -0.74,0.24 -2.29,-0.74 -0.46,-0.63" fill="#1010b0" stroke="#1010b0" stroke-width="1.0"/></g>
<g transform="translate(447.6,210.3)"><polygon points="0.00,-2.41 0.46,-0.63 2.29,-0.74 0.74,0.24 1.41,1.95 0.00,0.78 -1.41,1.95 -0.74,0.24 -2.29,-0.74 -0.46,-0.63" fill="#1010b0" stroke="#1010b0" stroke-width="1.0"/></g>
<g transform="translate(455.0,211.0)"><polygon points="0.00,-2.41 0.46,-0.63 2.29,-0.74 0.74,0.24 1.41,1.95 0.00,0.78 -1.41,1.95 -0.74,0.24 -2.29,-0.74 -0.46,-0.63" fill="#1010b0" stroke="#1010b0" stroke-width="1.0"/></g>
<g transform="translate(462.7,211.5)"><polygon points="0.00,-2.41 0.46,-0.63 2.29,-0.74 0.74,0.24 1.41,1.95 0.00,0.78 -1.41,1.95 -0.74,0.24 -2.29,-0.74 -0.46,-0.63" fill="#1010b0" stroke="#1010b0" stroke-width="1.0"/></g>
<g transform="translate(470.5,211.8)"><polygon points="0.00,-2.41 0.46,-0.63 2.29,-0.74 0.74,0.24 1.41,1.95 0.00,0.78 -1.41,1.95 -0.74,0.24 -2.29,-0.74 -0.46,-0.63" fill="#1010b0" stroke="#1010b0" stroke-width="1.0"/></g>
<g transform="translate(480.0,212.6)"><polygon points="0.00,-2.41 0.46,-0.63 2.29,-0.74 0.74,0.24 1.41,1.95 0.00,0.78 -1.41,1.95 -0.74,0.24 -2.29,-0.74 -0.46,-0.63" fill="#1010b0" stroke="#1010b0" stroke-width="1.0"/></g>
<g transform="translate(486.4,213.7)"><polygon points="0.00,-2.41 0.46,-0.63 2.29,-0.74 0.74,0.24 1.41,1.95 0.00,0.78 -1.41,1.95 -0.74,0.24 -2.29,-0.74 -0.46,-0.63" fill="#1010b0" stroke="#1010b0" stroke-width="1.0"/></g>
<g transform="translate(495.0,215.5)"><polygon points="0.00,-2.41 0.46,-0.63 2.29,-0.74 0.74,0.24 1.41,1.95 0.00,0.78 -1.41,1.95 -0.74,0.24 -2.29,-0.74 -0.46,-0.63" fill="#1010b0" stroke="#1010b0" stroke-width="1.0"/></g>
<g transform="translate(501.9,216.4)"><polygon points="0.00,-2.41 0.46,-0.63 2.29,-0.74 0.74,0.24 1.41,1.95 0.00,0.78 -1.41,1.95 -0.74,0.24 -2.29,-0.74 -0.46,-0.63" fill="#1010b0" stroke="#1010b0" stroke-width="1.0"/></g>
<g transform="translate(509.8,217.0)"><polygon points="0.00,-2.41 0.46,-0.63 2.29,-0.74 0.74,0.24 1.41,1.95 0.00,0.78 -1.41,1.95 -0.74,0.24 -2.29,-0.74 -0.46,-0.63" fill="#1010b0" stroke="#1010b0" stroke-width="1.0"/></g>
<g transform="translate(521.4,205.0)"><polygon points="0.00,-2.41 0.46,-0.63 2.29,-0.74 0.74,0.24 1.41,1.95 0.00,0.78 -1.41,1.95 -0.74,0.24 -2.29,-0.74 -0.46,-0.63" fill="#1010b0" stroke="#1010b0" stroke-width="1.0"/></g>
<g transform="translate(527.2,202.9)"><polygon points="0.00,-2.41 0.46,-0.63 2.29,-0.74 0.74,0.24 1.41,1.95 0.00,0.78 -1.41,1.95 -0.74,0.24 -2.29,-0.74 -0.46,-0.63" fill="#1010b0" stroke="#1010b0" stroke-width="1.0"/></g>
<g transform="translate(532.9,202.2)"><polygon points="0.00,-2.41 0.46,-0.63 2.29,-0.74 0.74,0.24 1.41,1.95 0.00,0.78 -1.41,1.95 -0.74,0.24 -2.29,-0.74 -0.46,-0.63" fill="#1010b0" stroke="#1010b0" stroke-width="1.0"/></g>
<line x1="590" y1="217.5" x2="590" y2="213.5" stroke="#a00000" stroke-width="1.3"/>
<line x1="592.5" y1="217.5" x2="592.5" y2="212" stroke="#a00000" stroke-width="1.3"/>
<line x1="594.5" y1="217.5" x2="594.5" y2="204.7" stroke="#a00000" stroke-width="1.3"/>
<line x1="597" y1="217.5" x2="597" y2="211" stroke="#a00000" stroke-width="1.3"/>
<line x1="600" y1="217.5" x2="600" y2="210.5" stroke="#a00000" stroke-width="1.3"/>
<line x1="602.8" y1="217.5" x2="602.8" y2="207.6" stroke="#a00000" stroke-width="1.3"/>
<line x1="605.3" y1="217.5" x2="605.3" y2="210.5" stroke="#a00000" stroke-width="1.3"/>
</g>
<line x1="554.8" y1="20.40" x2="574.7" y2="20.40" stroke="#111" stroke-width="1.3"/>
<g transform="translate(564.5,20.4)"><polygon points="0.00,-2.42 2.31,1.58 -2.31,1.58" fill="#fff" stroke="#00ff00" stroke-width="1.0"/></g>
<text class="lb" x="576.8" y="23.70">12 kOe</text>
<line x1="554.8" y1="30.96" x2="574.7" y2="30.96" stroke="#777" stroke-width="1.3"/>
<g transform="translate(564.5,31.0)"><polygon points="-2.10,-2.10 2.10,-2.10 2.10,2.10 -2.10,2.10" fill="#0000ff" stroke="#0000ff" stroke-width="1.0"/></g>
<text class="lb" x="576.8" y="34.26">10 kOe</text>
<line x1="554.8" y1="41.52" x2="574.7" y2="41.52" stroke="#111" stroke-width="1.3"/>
<g transform="translate(564.5,41.5)"><polygon points="-2.31,-1.58 2.31,-1.58 0.00,2.42" fill="#fff" stroke="#ff0000" stroke-width="1.0"/><polygon points="-1.09,0.52 -2.31,-1.58 2.31,-1.58 1.09,0.52" fill="#ff0000"/></g>
<text class="lb" x="576.8" y="44.82">5 kOe</text>
<line x1="554.8" y1="52.08" x2="574.7" y2="52.08" stroke="#444" stroke-width="1.3"/>
<g transform="translate(564.5,52.1)"><polygon points="-2.31,-1.58 2.31,-1.58 0.00,2.42" fill="#fff" stroke="#ff00ff" stroke-width="1.0"/><polygon points="-1.09,0.52 -2.31,-1.58 2.31,-1.58 1.09,0.52" fill="#ff00ff"/></g>
<text class="lb" x="576.8" y="55.38">2 kOe</text>
<line x1="554.8" y1="62.64" x2="574.7" y2="62.64" stroke="#111" stroke-width="1.3"/>
<g transform="translate(564.5,62.6)"><circle r="2.1" fill="#fff" stroke="#ffff00" stroke-width="1.0"/><path d="M-2.1,0 A2.1,2.1 0 0 1 2.1,0 Z" fill="#ffff00"/></g>
<text class="lb" x="576.8" y="65.94">1 kOe</text>
<line x1="554.8" y1="73.20" x2="574.7" y2="73.20" stroke="#223" stroke-width="1.3"/>
<g transform="translate(564.5,73.2)"><polygon points="-2.42,0.00 1.58,-2.31 1.58,2.31" fill="#fff" stroke="#000080" stroke-width="1.0"/><polygon points="0.00,1.40 0.00,-1.40 1.58,-2.31 1.58,2.31" fill="#000080"/></g>
<text class="lb" x="576.8" y="76.50">700 Oe</text>
<line x1="554.8" y1="83.76" x2="574.7" y2="83.76" stroke="#333" stroke-width="1.3"/>
<g transform="translate(564.5,83.8)"><circle r="2.1" fill="#008000" stroke="#008000" stroke-width="1.0"/></g>
<text class="lb" x="576.8" y="87.06">500 Oe</text>
<line x1="554.8" y1="94.32" x2="574.7" y2="94.32" stroke="#111" stroke-width="1.3"/>
<g transform="translate(564.5,94.3)"><polygon points="2.42,0.00 -1.58,-2.31 -1.58,2.31" fill="#fff" stroke="#800000" stroke-width="1.0"/><polygon points="2.42,0.00 2.42,0.00 -1.58,-2.31 -1.58,0.00" fill="#800000"/></g>
<text class="lb" x="576.8" y="97.62">300 Oe</text>
<line x1="554.8" y1="104.88" x2="574.7" y2="104.88" stroke="#777" stroke-width="1.3"/>
<g transform="translate(564.5,104.9)"><polygon points="0.00,-2.73 0.52,-0.71 2.60,-0.84 0.84,0.27 1.60,2.21 0.00,0.88 -1.60,2.21 -0.84,0.27 -2.60,-0.84 -0.52,-0.71" fill="#fff" stroke="#ff8000" stroke-width="1.0"/></g>
<text class="lb" x="576.8" y="108.18">200 Oe</text>
<line x1="554.8" y1="115.44" x2="574.7" y2="115.44" stroke="#111" stroke-width="1.3"/>
<g transform="translate(564.5,115.4)"><circle r="2.1" fill="#fff" stroke="#ff0080" stroke-width="1.0"/><path d="M0,-2.1 A2.1,2.1 0 0 1 0,2.1 Z" fill="#ff0080"/></g>
<text class="lb" x="576.8" y="118.74">100 Oe</text>
<line x1="554.8" y1="126.00" x2="574.7" y2="126.00" stroke="#333" stroke-width="1.3"/>
<g transform="translate(564.5,126.0)"><polygon points="0.00,-2.73 2.73,0.00 0.00,2.73 -2.73,0.00" fill="#008080" stroke="#008080" stroke-width="1.0"/></g>
<text class="lb" x="576.8" y="129.30">70 Oe</text>
<line x1="554.8" y1="136.56" x2="574.7" y2="136.56" stroke="#333" stroke-width="1.3"/>
<g transform="translate(564.5,136.6)"><circle r="2.1" fill="#fff" stroke="#800000" stroke-width="1.0"/><path d="M0,-2.1 A2.1,2.1 0 0 0 0,2.1 Z" fill="#800000"/></g>
<text class="lb" x="576.8" y="139.86">50 Oe</text>
<line x1="554.8" y1="147.12" x2="574.7" y2="147.12" stroke="#333" stroke-width="1.3"/>
<g transform="translate(564.5,147.1)"><polygon points="-2.10,-2.10 2.10,-2.10 2.10,2.10 -2.10,2.10" fill="#fff" stroke="#800080" stroke-width="1.0"/><polygon points="-2.10,-2.10 0.00,-2.10 0.00,2.10 -2.10,2.10" fill="#800080"/></g>
<text class="lb" x="576.8" y="150.42">30 Oe</text>
<line x1="554.8" y1="157.68" x2="574.7" y2="157.68" stroke="#777" stroke-width="1.3"/>
<g transform="translate(564.5,157.7)"><polygon points="0.00,-2.73 0.52,-0.71 2.60,-0.84 0.84,0.27 1.60,2.21 0.00,0.88 -1.60,2.21 -0.84,0.27 -2.60,-0.84 -0.52,-0.71" fill="#1010b0" stroke="#1010b0" stroke-width="1.0"/></g>
<text class="lb" x="576.8" y="160.98">20 Oe</text>
<rect x="378.7" y="8.6" width="229.40000000000003" height="209.9" fill="none" stroke="#000" stroke-width="2"/>
<text x="373.0" y="222.10" class="tk" text-anchor="end" transform="translate(373.0,0) scale(0.95,1) translate(-373.0,0)">0</text>
<line x1="378.7" y1="192.26" x2="382.7" y2="192.26" stroke="#000" stroke-width="1.6"/>
<line x1="608.1" y1="192.26" x2="604.1" y2="192.26" stroke="#000" stroke-width="1.6"/>
<line x1="378.7" y1="166.03" x2="384.7" y2="166.03" stroke="#000" stroke-width="1.6"/>
<line x1="608.1" y1="166.03" x2="602.1" y2="166.03" stroke="#000" stroke-width="1.6"/>
<text x="373.0" y="169.62" class="tk" text-anchor="end" transform="translate(373.0,0) scale(0.95,1) translate(-373.0,0)">10</text>
<line x1="378.7" y1="139.79" x2="382.7" y2="139.79" stroke="#000" stroke-width="1.6"/>
<line x1="608.1" y1="139.79" x2="604.1" y2="139.79" stroke="#000" stroke-width="1.6"/>
<line x1="378.7" y1="113.55" x2="384.7" y2="113.55" stroke="#000" stroke-width="1.6"/>
<line x1="608.1" y1="113.55" x2="602.1" y2="113.55" stroke="#000" stroke-width="1.6"/>
<text x="373.0" y="117.15" class="tk" text-anchor="end" transform="translate(373.0,0) scale(0.95,1) translate(-373.0,0)">20</text>
<line x1="378.7" y1="87.31" x2="382.7" y2="87.31" stroke="#000" stroke-width="1.6"/>
<line x1="608.1" y1="87.31" x2="604.1" y2="87.31" stroke="#000" stroke-width="1.6"/>
<line x1="378.7" y1="61.07" x2="384.7" y2="61.07" stroke="#000" stroke-width="1.6"/>
<line x1="608.1" y1="61.07" x2="602.1" y2="61.07" stroke="#000" stroke-width="1.6"/>
<text x="373.0" y="64.67" class="tk" text-anchor="end" transform="translate(373.0,0) scale(0.95,1) translate(-373.0,0)">30</text>
<line x1="378.7" y1="34.84" x2="382.7" y2="34.84" stroke="#000" stroke-width="1.6"/>
<line x1="608.1" y1="34.84" x2="604.1" y2="34.84" stroke="#000" stroke-width="1.6"/>
<text x="373.0" y="12.20" class="tk" text-anchor="end" transform="translate(373.0,0) scale(0.95,1) translate(-373.0,0)">40</text>
<text x="378.70" y="236" class="tk" text-anchor="middle" transform="translate(378.70,0) scale(0.95,1) translate(-378.70,0)">100</text>
<line x1="416.93" y1="218.5" x2="416.93" y2="214.5" stroke="#000" stroke-width="1.6"/>
<line x1="416.93" y1="8.6" x2="416.93" y2="12.6" stroke="#000" stroke-width="1.6"/>
<line x1="455.17" y1="218.5" x2="455.17" y2="212.5" stroke="#000" stroke-width="1.6"/>
<line x1="455.17" y1="8.6" x2="455.17" y2="14.6" stroke="#000" stroke-width="1.6"/>
<text x="455.17" y="236" class="tk" text-anchor="middle" transform="translate(455.17,0) scale(0.95,1) translate(-455.17,0)">200</text>
<line x1="493.40" y1="218.5" x2="493.40" y2="214.5" stroke="#000" stroke-width="1.6"/>
<line x1="493.40" y1="8.6" x2="493.40" y2="12.6" stroke="#000" stroke-width="1.6"/>
<line x1="531.63" y1="218.5" x2="531.63" y2="212.5" stroke="#000" stroke-width="1.6"/>
<line x1="531.63" y1="8.6" x2="531.63" y2="14.6" stroke="#000" stroke-width="1.6"/>
<text x="531.63" y="236" class="tk" text-anchor="middle" transform="translate(531.63,0) scale(0.95,1) translate(-531.63,0)">300</text>
<line x1="569.87" y1="218.5" x2="569.87" y2="214.5" stroke="#000" stroke-width="1.6"/>
<line x1="569.87" y1="8.6" x2="569.87" y2="12.6" stroke="#000" stroke-width="1.6"/>
<text x="608.10" y="236" class="tk" text-anchor="middle" transform="translate(608.10,0) scale(0.95,1) translate(-608.10,0)">400</text>
<text class="al" transform="translate(345.6,140.1) scale(1.09,1) rotate(-90)">M (emu.g<tspan class="asp" dy="-5">-1</tspan><tspan dy="5">)</tspan></text>
<text class="al" x="476.4" y="252.1" transform="translate(476.4,0) scale(1.06,1) translate(-476.4,0)">T (K)</text>
<text class="pl" x="468.3" y="273.7" transform="translate(468.3,0) scale(1.08,1) translate(-468.3,0)">(b)</text>
</svg>
</body></html>
